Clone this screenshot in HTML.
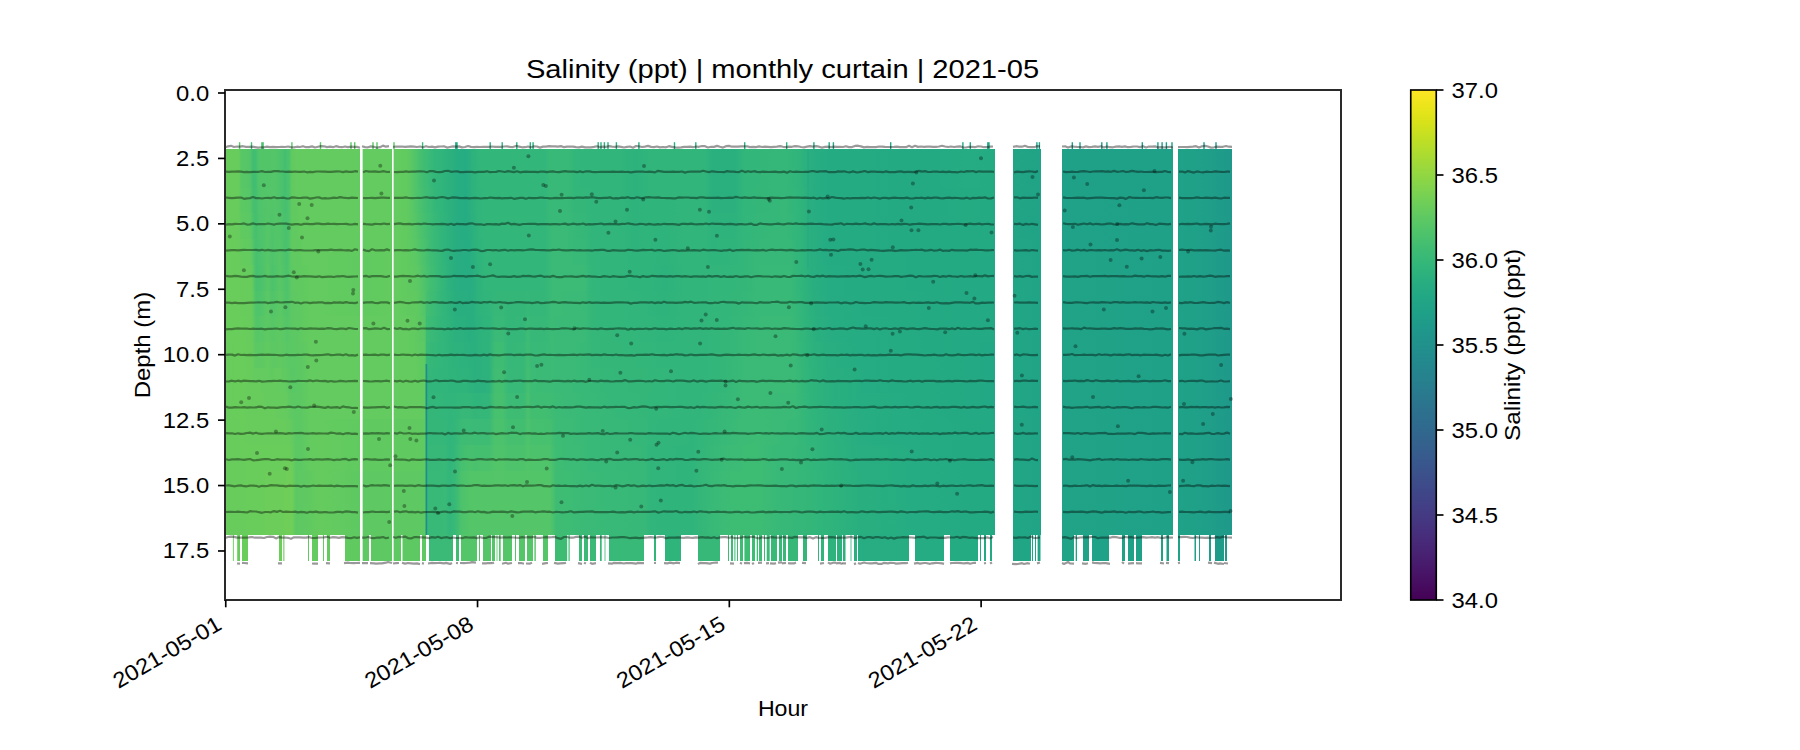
<!DOCTYPE html>
<html><head><meta charset="utf-8"><title>Salinity monthly curtain</title>
<style>
html,body{margin:0;padding:0;background:#fff;width:1800px;height:750px;overflow:hidden}
svg{display:block;position:absolute;left:0;top:0}
text{font-family:"Liberation Sans", sans-serif;fill:#000}
.t{font-size:22px}
.ti{font-size:25px}
</style></head><body>
<svg width="1800" height="750" viewBox="0 0 1800 750">
<defs><clipPath id="cseg"><rect x="225.0" y="140" width="135.0" height="400"/><rect x="362.4" y="140" width="29.6" height="400"/><rect x="393.4" y="140" width="601.6" height="400"/><rect x="1013.0" y="140" width="28.0" height="400"/><rect x="1062.0" y="140" width="111.0" height="400"/><rect x="1178.0" y="140" width="54.0" height="400"/></clipPath><linearGradient id="r0" gradientUnits="userSpaceOnUse" x1="225.0" y1="0" x2="1232.0" y2="0"><stop offset="0.0000" stop-color="#67cc5c"/><stop offset="0.0139" stop-color="#67cc5c"/><stop offset="0.0149" stop-color="#5ec962"/><stop offset="0.0159" stop-color="#58c765"/><stop offset="0.0248" stop-color="#54c568"/><stop offset="0.0268" stop-color="#46c06f"/><stop offset="0.0278" stop-color="#40bd72"/><stop offset="0.0298" stop-color="#42be71"/><stop offset="0.0308" stop-color="#44bf70"/><stop offset="0.0338" stop-color="#52c569"/><stop offset="0.0367" stop-color="#52c569"/><stop offset="0.0427" stop-color="#52c569"/><stop offset="0.0467" stop-color="#54c568"/><stop offset="0.0497" stop-color="#54c568"/><stop offset="0.0546" stop-color="#4ec36b"/><stop offset="0.0556" stop-color="#4cc26c"/><stop offset="0.0576" stop-color="#48c16e"/><stop offset="0.0596" stop-color="#44bf70"/><stop offset="0.0616" stop-color="#48c16e"/><stop offset="0.0636" stop-color="#4cc26c"/><stop offset="0.0665" stop-color="#60ca60"/><stop offset="0.0705" stop-color="#63cb5f"/><stop offset="0.0745" stop-color="#63cb5f"/><stop offset="0.0775" stop-color="#63cb5f"/><stop offset="0.0844" stop-color="#63cb5f"/><stop offset="0.0943" stop-color="#63cb5f"/><stop offset="0.1341" stop-color="#63cb5f"/><stop offset="0.1658" stop-color="#63cb5f"/><stop offset="0.1738" stop-color="#63cb5f"/><stop offset="0.1817" stop-color="#60ca60"/><stop offset="0.1897" stop-color="#50c46a"/><stop offset="0.1936" stop-color="#46c06f"/><stop offset="0.1986" stop-color="#3fbc73"/><stop offset="0.2001" stop-color="#3dbc74"/><stop offset="0.2006" stop-color="#3dbc74"/><stop offset="0.2036" stop-color="#38b977"/><stop offset="0.2085" stop-color="#32b67a"/><stop offset="0.2135" stop-color="#31b57b"/><stop offset="0.2185" stop-color="#2eb37c"/><stop offset="0.2234" stop-color="#2cb17e"/><stop offset="0.2284" stop-color="#28ae80"/><stop offset="0.2314" stop-color="#26ad81"/><stop offset="0.2344" stop-color="#26ad81"/><stop offset="0.2383" stop-color="#25ac82"/><stop offset="0.2393" stop-color="#25ac82"/><stop offset="0.2433" stop-color="#2ab07f"/><stop offset="0.2453" stop-color="#2db27d"/><stop offset="0.2483" stop-color="#2eb37c"/><stop offset="0.2502" stop-color="#2fb47c"/><stop offset="0.2532" stop-color="#32b67a"/><stop offset="0.2582" stop-color="#32b67a"/><stop offset="0.2622" stop-color="#32b67a"/><stop offset="0.2681" stop-color="#32b67a"/><stop offset="0.2761" stop-color="#32b67a"/><stop offset="0.2810" stop-color="#32b67a"/><stop offset="0.2969" stop-color="#32b67a"/><stop offset="0.3009" stop-color="#32b67a"/><stop offset="0.3039" stop-color="#32b67a"/><stop offset="0.3178" stop-color="#32b67a"/><stop offset="0.3227" stop-color="#38b977"/><stop offset="0.3247" stop-color="#38b977"/><stop offset="0.3287" stop-color="#38b977"/><stop offset="0.3406" stop-color="#38b977"/><stop offset="0.3426" stop-color="#37b878"/><stop offset="0.3476" stop-color="#32b67a"/><stop offset="0.3575" stop-color="#31b57b"/><stop offset="0.3615" stop-color="#31b57b"/><stop offset="0.3644" stop-color="#31b57b"/><stop offset="0.3823" stop-color="#31b57b"/><stop offset="0.3923" stop-color="#31b57b"/><stop offset="0.4071" stop-color="#2db27d"/><stop offset="0.4171" stop-color="#2fb47c"/><stop offset="0.4220" stop-color="#31b57b"/><stop offset="0.4369" stop-color="#31b57b"/><stop offset="0.4568" stop-color="#31b57b"/><stop offset="0.4638" stop-color="#31b57b"/><stop offset="0.4717" stop-color="#31b57b"/><stop offset="0.4767" stop-color="#31b57b"/><stop offset="0.4836" stop-color="#2ab07f"/><stop offset="0.4945" stop-color="#2ab07f"/><stop offset="0.5065" stop-color="#2ab07f"/><stop offset="0.5114" stop-color="#2eb37c"/><stop offset="0.5164" stop-color="#32b67a"/><stop offset="0.5293" stop-color="#32b67a"/><stop offset="0.5313" stop-color="#34b679"/><stop offset="0.5482" stop-color="#35b779"/><stop offset="0.5561" stop-color="#35b779"/><stop offset="0.5611" stop-color="#34b679"/><stop offset="0.5660" stop-color="#31b57b"/><stop offset="0.5710" stop-color="#2fb47c"/><stop offset="0.5740" stop-color="#2db27d"/><stop offset="0.5780" stop-color="#2ab07f"/><stop offset="0.5809" stop-color="#29af7f"/><stop offset="0.5829" stop-color="#28ae80"/><stop offset="0.5859" stop-color="#27ad81"/><stop offset="0.5958" stop-color="#25ac82"/><stop offset="0.6008" stop-color="#25ab82"/><stop offset="0.6306" stop-color="#25ab82"/><stop offset="0.6336" stop-color="#25ab82"/><stop offset="0.6703" stop-color="#24aa83"/><stop offset="0.6802" stop-color="#24aa83"/><stop offset="0.6812" stop-color="#24aa83"/><stop offset="0.7001" stop-color="#24aa83"/><stop offset="0.7398" stop-color="#25ac82"/><stop offset="0.7617" stop-color="#25ab82"/><stop offset="0.7637" stop-color="#25ab82"/><stop offset="0.7646" stop-color="#25ab82"/><stop offset="0.7825" stop-color="#21a585"/><stop offset="0.8103" stop-color="#20a386"/><stop offset="0.8312" stop-color="#1fa187"/><stop offset="0.9414" stop-color="#1fa188"/><stop offset="0.9464" stop-color="#1fa287"/><stop offset="0.9732" stop-color="#1f9f88"/><stop offset="1.0000" stop-color="#1f998a"/></linearGradient><linearGradient id="r1" gradientUnits="userSpaceOnUse" x1="225.0" y1="0" x2="1232.0" y2="0"><stop offset="0.0000" stop-color="#67cc5c"/><stop offset="0.0139" stop-color="#67cc5c"/><stop offset="0.0149" stop-color="#5ec962"/><stop offset="0.0159" stop-color="#58c765"/><stop offset="0.0248" stop-color="#54c568"/><stop offset="0.0268" stop-color="#46c06f"/><stop offset="0.0278" stop-color="#40bd72"/><stop offset="0.0298" stop-color="#42be71"/><stop offset="0.0308" stop-color="#44bf70"/><stop offset="0.0338" stop-color="#52c569"/><stop offset="0.0367" stop-color="#52c569"/><stop offset="0.0427" stop-color="#52c569"/><stop offset="0.0467" stop-color="#54c568"/><stop offset="0.0497" stop-color="#54c568"/><stop offset="0.0546" stop-color="#4ec36b"/><stop offset="0.0556" stop-color="#4cc26c"/><stop offset="0.0576" stop-color="#48c16e"/><stop offset="0.0596" stop-color="#44bf70"/><stop offset="0.0616" stop-color="#48c16e"/><stop offset="0.0636" stop-color="#4cc26c"/><stop offset="0.0665" stop-color="#60ca60"/><stop offset="0.0705" stop-color="#63cb5f"/><stop offset="0.0745" stop-color="#63cb5f"/><stop offset="0.0775" stop-color="#63cb5f"/><stop offset="0.0844" stop-color="#63cb5f"/><stop offset="0.0943" stop-color="#63cb5f"/><stop offset="0.1341" stop-color="#63cb5f"/><stop offset="0.1658" stop-color="#63cb5f"/><stop offset="0.1738" stop-color="#63cb5f"/><stop offset="0.1817" stop-color="#60ca60"/><stop offset="0.1897" stop-color="#50c46a"/><stop offset="0.1936" stop-color="#46c06f"/><stop offset="0.1986" stop-color="#3fbc73"/><stop offset="0.2001" stop-color="#3dbc74"/><stop offset="0.2006" stop-color="#3dbc74"/><stop offset="0.2036" stop-color="#38b977"/><stop offset="0.2085" stop-color="#32b67a"/><stop offset="0.2135" stop-color="#31b57b"/><stop offset="0.2185" stop-color="#2eb37c"/><stop offset="0.2234" stop-color="#2cb17e"/><stop offset="0.2284" stop-color="#28ae80"/><stop offset="0.2314" stop-color="#26ad81"/><stop offset="0.2344" stop-color="#26ad81"/><stop offset="0.2383" stop-color="#25ac82"/><stop offset="0.2393" stop-color="#25ac82"/><stop offset="0.2433" stop-color="#2ab07f"/><stop offset="0.2453" stop-color="#2db27d"/><stop offset="0.2483" stop-color="#2eb37c"/><stop offset="0.2502" stop-color="#2fb47c"/><stop offset="0.2532" stop-color="#32b67a"/><stop offset="0.2582" stop-color="#32b67a"/><stop offset="0.2622" stop-color="#32b67a"/><stop offset="0.2681" stop-color="#32b67a"/><stop offset="0.2761" stop-color="#32b67a"/><stop offset="0.2810" stop-color="#32b67a"/><stop offset="0.2969" stop-color="#32b67a"/><stop offset="0.3009" stop-color="#32b67a"/><stop offset="0.3039" stop-color="#32b67a"/><stop offset="0.3178" stop-color="#32b67a"/><stop offset="0.3227" stop-color="#38b977"/><stop offset="0.3247" stop-color="#38b977"/><stop offset="0.3287" stop-color="#38b977"/><stop offset="0.3406" stop-color="#38b977"/><stop offset="0.3426" stop-color="#37b878"/><stop offset="0.3476" stop-color="#32b67a"/><stop offset="0.3575" stop-color="#31b57b"/><stop offset="0.3615" stop-color="#31b57b"/><stop offset="0.3644" stop-color="#31b57b"/><stop offset="0.3823" stop-color="#31b57b"/><stop offset="0.3923" stop-color="#31b57b"/><stop offset="0.4071" stop-color="#2db27d"/><stop offset="0.4171" stop-color="#2fb47c"/><stop offset="0.4220" stop-color="#31b57b"/><stop offset="0.4369" stop-color="#31b57b"/><stop offset="0.4568" stop-color="#31b57b"/><stop offset="0.4638" stop-color="#31b57b"/><stop offset="0.4717" stop-color="#31b57b"/><stop offset="0.4767" stop-color="#31b57b"/><stop offset="0.4836" stop-color="#2ab07f"/><stop offset="0.4945" stop-color="#2ab07f"/><stop offset="0.5065" stop-color="#2ab07f"/><stop offset="0.5114" stop-color="#2eb37c"/><stop offset="0.5164" stop-color="#32b67a"/><stop offset="0.5293" stop-color="#32b67a"/><stop offset="0.5313" stop-color="#34b679"/><stop offset="0.5482" stop-color="#35b779"/><stop offset="0.5561" stop-color="#35b779"/><stop offset="0.5611" stop-color="#34b679"/><stop offset="0.5660" stop-color="#31b57b"/><stop offset="0.5710" stop-color="#2fb47c"/><stop offset="0.5740" stop-color="#2db27d"/><stop offset="0.5780" stop-color="#2ab07f"/><stop offset="0.5809" stop-color="#29af7f"/><stop offset="0.5829" stop-color="#28ae80"/><stop offset="0.5859" stop-color="#27ad81"/><stop offset="0.5958" stop-color="#25ac82"/><stop offset="0.6008" stop-color="#25ab82"/><stop offset="0.6306" stop-color="#25ab82"/><stop offset="0.6336" stop-color="#25ab82"/><stop offset="0.6703" stop-color="#24aa83"/><stop offset="0.6802" stop-color="#24aa83"/><stop offset="0.6812" stop-color="#24aa83"/><stop offset="0.7001" stop-color="#24aa83"/><stop offset="0.7398" stop-color="#25ac82"/><stop offset="0.7617" stop-color="#25ab82"/><stop offset="0.7637" stop-color="#25ab82"/><stop offset="0.7646" stop-color="#25ab82"/><stop offset="0.7825" stop-color="#21a585"/><stop offset="0.8103" stop-color="#20a386"/><stop offset="0.8312" stop-color="#1fa187"/><stop offset="0.9414" stop-color="#1fa188"/><stop offset="0.9464" stop-color="#1fa287"/><stop offset="0.9732" stop-color="#1f9f88"/><stop offset="1.0000" stop-color="#1f998a"/></linearGradient><linearGradient id="r2" gradientUnits="userSpaceOnUse" x1="225.0" y1="0" x2="1232.0" y2="0"><stop offset="0.0000" stop-color="#67cc5c"/><stop offset="0.0139" stop-color="#67cc5c"/><stop offset="0.0149" stop-color="#5ec962"/><stop offset="0.0159" stop-color="#58c765"/><stop offset="0.0248" stop-color="#54c568"/><stop offset="0.0268" stop-color="#46c06f"/><stop offset="0.0278" stop-color="#40bd72"/><stop offset="0.0298" stop-color="#42be71"/><stop offset="0.0308" stop-color="#44bf70"/><stop offset="0.0338" stop-color="#52c569"/><stop offset="0.0367" stop-color="#52c569"/><stop offset="0.0427" stop-color="#52c569"/><stop offset="0.0467" stop-color="#54c568"/><stop offset="0.0497" stop-color="#54c568"/><stop offset="0.0546" stop-color="#4ec36b"/><stop offset="0.0556" stop-color="#4cc26c"/><stop offset="0.0576" stop-color="#48c16e"/><stop offset="0.0596" stop-color="#44bf70"/><stop offset="0.0616" stop-color="#48c16e"/><stop offset="0.0636" stop-color="#4cc26c"/><stop offset="0.0665" stop-color="#60ca60"/><stop offset="0.0705" stop-color="#63cb5f"/><stop offset="0.0745" stop-color="#63cb5f"/><stop offset="0.0775" stop-color="#63cb5f"/><stop offset="0.0844" stop-color="#63cb5f"/><stop offset="0.0943" stop-color="#63cb5f"/><stop offset="0.1341" stop-color="#63cb5f"/><stop offset="0.1658" stop-color="#63cb5f"/><stop offset="0.1738" stop-color="#63cb5f"/><stop offset="0.1817" stop-color="#60ca60"/><stop offset="0.1897" stop-color="#50c46a"/><stop offset="0.1936" stop-color="#46c06f"/><stop offset="0.1986" stop-color="#3fbc73"/><stop offset="0.2001" stop-color="#3dbc74"/><stop offset="0.2006" stop-color="#3dbc74"/><stop offset="0.2036" stop-color="#38b977"/><stop offset="0.2085" stop-color="#32b67a"/><stop offset="0.2135" stop-color="#31b57b"/><stop offset="0.2185" stop-color="#2eb37c"/><stop offset="0.2234" stop-color="#2cb17e"/><stop offset="0.2284" stop-color="#28ae80"/><stop offset="0.2314" stop-color="#26ad81"/><stop offset="0.2344" stop-color="#26ad81"/><stop offset="0.2383" stop-color="#25ac82"/><stop offset="0.2393" stop-color="#25ac82"/><stop offset="0.2433" stop-color="#2ab07f"/><stop offset="0.2453" stop-color="#2db27d"/><stop offset="0.2483" stop-color="#2eb37c"/><stop offset="0.2502" stop-color="#2fb47c"/><stop offset="0.2532" stop-color="#32b67a"/><stop offset="0.2582" stop-color="#32b67a"/><stop offset="0.2622" stop-color="#32b67a"/><stop offset="0.2681" stop-color="#32b67a"/><stop offset="0.2761" stop-color="#32b67a"/><stop offset="0.2810" stop-color="#32b67a"/><stop offset="0.2969" stop-color="#32b67a"/><stop offset="0.3009" stop-color="#32b67a"/><stop offset="0.3039" stop-color="#32b67a"/><stop offset="0.3178" stop-color="#32b67a"/><stop offset="0.3227" stop-color="#38b977"/><stop offset="0.3247" stop-color="#38b977"/><stop offset="0.3287" stop-color="#38b977"/><stop offset="0.3406" stop-color="#38b977"/><stop offset="0.3426" stop-color="#37b878"/><stop offset="0.3476" stop-color="#32b67a"/><stop offset="0.3575" stop-color="#31b57b"/><stop offset="0.3615" stop-color="#31b57b"/><stop offset="0.3644" stop-color="#31b57b"/><stop offset="0.3823" stop-color="#31b57b"/><stop offset="0.3923" stop-color="#31b57b"/><stop offset="0.4071" stop-color="#2db27d"/><stop offset="0.4171" stop-color="#2fb47c"/><stop offset="0.4220" stop-color="#31b57b"/><stop offset="0.4369" stop-color="#31b57b"/><stop offset="0.4568" stop-color="#31b57b"/><stop offset="0.4638" stop-color="#31b57b"/><stop offset="0.4717" stop-color="#31b57b"/><stop offset="0.4767" stop-color="#31b57b"/><stop offset="0.4836" stop-color="#2ab07f"/><stop offset="0.4945" stop-color="#2ab07f"/><stop offset="0.5065" stop-color="#2ab07f"/><stop offset="0.5114" stop-color="#2eb37c"/><stop offset="0.5164" stop-color="#32b67a"/><stop offset="0.5293" stop-color="#32b67a"/><stop offset="0.5313" stop-color="#34b679"/><stop offset="0.5482" stop-color="#35b779"/><stop offset="0.5561" stop-color="#35b779"/><stop offset="0.5611" stop-color="#34b679"/><stop offset="0.5660" stop-color="#31b57b"/><stop offset="0.5710" stop-color="#2fb47c"/><stop offset="0.5740" stop-color="#2db27d"/><stop offset="0.5780" stop-color="#2ab07f"/><stop offset="0.5809" stop-color="#29af7f"/><stop offset="0.5829" stop-color="#28ae80"/><stop offset="0.5859" stop-color="#27ad81"/><stop offset="0.5958" stop-color="#25ac82"/><stop offset="0.6008" stop-color="#25ab82"/><stop offset="0.6306" stop-color="#25ab82"/><stop offset="0.6336" stop-color="#25ab82"/><stop offset="0.6703" stop-color="#24aa83"/><stop offset="0.6802" stop-color="#24aa83"/><stop offset="0.6812" stop-color="#24aa83"/><stop offset="0.7001" stop-color="#24aa83"/><stop offset="0.7398" stop-color="#25ac82"/><stop offset="0.7617" stop-color="#25ab82"/><stop offset="0.7637" stop-color="#25ab82"/><stop offset="0.7646" stop-color="#25ab82"/><stop offset="0.7825" stop-color="#21a585"/><stop offset="0.8103" stop-color="#20a386"/><stop offset="0.8312" stop-color="#1fa187"/><stop offset="0.9414" stop-color="#1fa188"/><stop offset="0.9464" stop-color="#1fa287"/><stop offset="0.9732" stop-color="#1f9f88"/><stop offset="1.0000" stop-color="#1f998a"/></linearGradient><linearGradient id="r3" gradientUnits="userSpaceOnUse" x1="225.0" y1="0" x2="1232.0" y2="0"><stop offset="0.0000" stop-color="#67cc5c"/><stop offset="0.0139" stop-color="#67cc5c"/><stop offset="0.0149" stop-color="#60ca60"/><stop offset="0.0159" stop-color="#5ac864"/><stop offset="0.0248" stop-color="#56c667"/><stop offset="0.0268" stop-color="#4ac16d"/><stop offset="0.0278" stop-color="#42be71"/><stop offset="0.0298" stop-color="#44bf70"/><stop offset="0.0308" stop-color="#44bf70"/><stop offset="0.0338" stop-color="#50c46a"/><stop offset="0.0367" stop-color="#52c569"/><stop offset="0.0427" stop-color="#54c568"/><stop offset="0.0467" stop-color="#54c568"/><stop offset="0.0497" stop-color="#54c568"/><stop offset="0.0546" stop-color="#4ec36b"/><stop offset="0.0556" stop-color="#4cc26c"/><stop offset="0.0576" stop-color="#48c16e"/><stop offset="0.0596" stop-color="#44bf70"/><stop offset="0.0616" stop-color="#48c16e"/><stop offset="0.0636" stop-color="#4cc26c"/><stop offset="0.0665" stop-color="#60ca60"/><stop offset="0.0705" stop-color="#63cb5f"/><stop offset="0.0745" stop-color="#63cb5f"/><stop offset="0.0775" stop-color="#63cb5f"/><stop offset="0.0844" stop-color="#63cb5f"/><stop offset="0.0943" stop-color="#63cb5f"/><stop offset="0.1341" stop-color="#63cb5f"/><stop offset="0.1658" stop-color="#63cb5f"/><stop offset="0.1738" stop-color="#63cb5f"/><stop offset="0.1817" stop-color="#60ca60"/><stop offset="0.1897" stop-color="#50c46a"/><stop offset="0.1936" stop-color="#48c16e"/><stop offset="0.1986" stop-color="#40bd72"/><stop offset="0.2001" stop-color="#3fbc73"/><stop offset="0.2006" stop-color="#3dbc74"/><stop offset="0.2036" stop-color="#3aba76"/><stop offset="0.2085" stop-color="#34b679"/><stop offset="0.2135" stop-color="#31b57b"/><stop offset="0.2185" stop-color="#2eb37c"/><stop offset="0.2234" stop-color="#2cb17e"/><stop offset="0.2284" stop-color="#28ae80"/><stop offset="0.2314" stop-color="#26ad81"/><stop offset="0.2344" stop-color="#26ad81"/><stop offset="0.2383" stop-color="#25ac82"/><stop offset="0.2393" stop-color="#25ac82"/><stop offset="0.2433" stop-color="#29af7f"/><stop offset="0.2453" stop-color="#2db27d"/><stop offset="0.2483" stop-color="#2eb37c"/><stop offset="0.2502" stop-color="#2fb47c"/><stop offset="0.2532" stop-color="#31b57b"/><stop offset="0.2582" stop-color="#32b67a"/><stop offset="0.2622" stop-color="#32b67a"/><stop offset="0.2681" stop-color="#32b67a"/><stop offset="0.2761" stop-color="#32b67a"/><stop offset="0.2810" stop-color="#32b67a"/><stop offset="0.2969" stop-color="#32b67a"/><stop offset="0.3009" stop-color="#32b67a"/><stop offset="0.3039" stop-color="#32b67a"/><stop offset="0.3178" stop-color="#32b67a"/><stop offset="0.3227" stop-color="#38b977"/><stop offset="0.3247" stop-color="#38b977"/><stop offset="0.3287" stop-color="#38b977"/><stop offset="0.3406" stop-color="#38b977"/><stop offset="0.3426" stop-color="#37b878"/><stop offset="0.3476" stop-color="#32b67a"/><stop offset="0.3575" stop-color="#32b67a"/><stop offset="0.3615" stop-color="#32b67a"/><stop offset="0.3644" stop-color="#31b57b"/><stop offset="0.3823" stop-color="#31b57b"/><stop offset="0.3923" stop-color="#31b57b"/><stop offset="0.4071" stop-color="#2db27d"/><stop offset="0.4171" stop-color="#2fb47c"/><stop offset="0.4220" stop-color="#31b57b"/><stop offset="0.4369" stop-color="#31b57b"/><stop offset="0.4568" stop-color="#31b57b"/><stop offset="0.4638" stop-color="#31b57b"/><stop offset="0.4717" stop-color="#31b57b"/><stop offset="0.4767" stop-color="#31b57b"/><stop offset="0.4836" stop-color="#2ab07f"/><stop offset="0.4945" stop-color="#2ab07f"/><stop offset="0.5065" stop-color="#2ab07f"/><stop offset="0.5114" stop-color="#2eb37c"/><stop offset="0.5164" stop-color="#32b67a"/><stop offset="0.5293" stop-color="#34b679"/><stop offset="0.5313" stop-color="#34b679"/><stop offset="0.5482" stop-color="#35b779"/><stop offset="0.5561" stop-color="#35b779"/><stop offset="0.5611" stop-color="#34b679"/><stop offset="0.5660" stop-color="#32b67a"/><stop offset="0.5710" stop-color="#2fb47c"/><stop offset="0.5740" stop-color="#2eb37c"/><stop offset="0.5780" stop-color="#2cb17e"/><stop offset="0.5809" stop-color="#29af7f"/><stop offset="0.5829" stop-color="#28ae80"/><stop offset="0.5859" stop-color="#27ad81"/><stop offset="0.5958" stop-color="#25ac82"/><stop offset="0.6008" stop-color="#25ab82"/><stop offset="0.6306" stop-color="#25ab82"/><stop offset="0.6336" stop-color="#25ab82"/><stop offset="0.6703" stop-color="#24aa83"/><stop offset="0.6802" stop-color="#24aa83"/><stop offset="0.6812" stop-color="#24aa83"/><stop offset="0.7001" stop-color="#24aa83"/><stop offset="0.7398" stop-color="#25ab82"/><stop offset="0.7617" stop-color="#25ab82"/><stop offset="0.7637" stop-color="#25ab82"/><stop offset="0.7646" stop-color="#24aa83"/><stop offset="0.7825" stop-color="#21a585"/><stop offset="0.8103" stop-color="#20a386"/><stop offset="0.8312" stop-color="#1fa187"/><stop offset="0.9414" stop-color="#1fa188"/><stop offset="0.9464" stop-color="#1fa287"/><stop offset="0.9732" stop-color="#1f9f88"/><stop offset="1.0000" stop-color="#1f998a"/></linearGradient><linearGradient id="r4" gradientUnits="userSpaceOnUse" x1="225.0" y1="0" x2="1232.0" y2="0"><stop offset="0.0000" stop-color="#67cc5c"/><stop offset="0.0139" stop-color="#67cc5c"/><stop offset="0.0149" stop-color="#60ca60"/><stop offset="0.0159" stop-color="#5cc863"/><stop offset="0.0248" stop-color="#58c765"/><stop offset="0.0268" stop-color="#4ec36b"/><stop offset="0.0278" stop-color="#46c06f"/><stop offset="0.0298" stop-color="#46c06f"/><stop offset="0.0308" stop-color="#44bf70"/><stop offset="0.0338" stop-color="#50c46a"/><stop offset="0.0367" stop-color="#50c46a"/><stop offset="0.0427" stop-color="#54c568"/><stop offset="0.0467" stop-color="#52c569"/><stop offset="0.0497" stop-color="#54c568"/><stop offset="0.0546" stop-color="#50c46a"/><stop offset="0.0556" stop-color="#4ec36b"/><stop offset="0.0576" stop-color="#4ac16d"/><stop offset="0.0596" stop-color="#46c06f"/><stop offset="0.0616" stop-color="#48c16e"/><stop offset="0.0636" stop-color="#4ec36b"/><stop offset="0.0665" stop-color="#60ca60"/><stop offset="0.0705" stop-color="#60ca60"/><stop offset="0.0745" stop-color="#63cb5f"/><stop offset="0.0775" stop-color="#63cb5f"/><stop offset="0.0844" stop-color="#63cb5f"/><stop offset="0.0943" stop-color="#63cb5f"/><stop offset="0.1341" stop-color="#63cb5f"/><stop offset="0.1658" stop-color="#63cb5f"/><stop offset="0.1738" stop-color="#63cb5f"/><stop offset="0.1817" stop-color="#60ca60"/><stop offset="0.1897" stop-color="#52c569"/><stop offset="0.1936" stop-color="#4ac16d"/><stop offset="0.1986" stop-color="#42be71"/><stop offset="0.2001" stop-color="#40bd72"/><stop offset="0.2006" stop-color="#3fbc73"/><stop offset="0.2036" stop-color="#3bbb75"/><stop offset="0.2085" stop-color="#35b779"/><stop offset="0.2135" stop-color="#32b67a"/><stop offset="0.2185" stop-color="#2eb37c"/><stop offset="0.2234" stop-color="#2cb17e"/><stop offset="0.2284" stop-color="#28ae80"/><stop offset="0.2314" stop-color="#27ad81"/><stop offset="0.2344" stop-color="#26ad81"/><stop offset="0.2383" stop-color="#25ac82"/><stop offset="0.2393" stop-color="#25ac82"/><stop offset="0.2433" stop-color="#29af7f"/><stop offset="0.2453" stop-color="#2cb17e"/><stop offset="0.2483" stop-color="#2eb37c"/><stop offset="0.2502" stop-color="#2fb47c"/><stop offset="0.2532" stop-color="#31b57b"/><stop offset="0.2582" stop-color="#32b67a"/><stop offset="0.2622" stop-color="#32b67a"/><stop offset="0.2681" stop-color="#32b67a"/><stop offset="0.2761" stop-color="#32b67a"/><stop offset="0.2810" stop-color="#32b67a"/><stop offset="0.2969" stop-color="#32b67a"/><stop offset="0.3009" stop-color="#32b67a"/><stop offset="0.3039" stop-color="#32b67a"/><stop offset="0.3178" stop-color="#32b67a"/><stop offset="0.3227" stop-color="#38b977"/><stop offset="0.3247" stop-color="#38b977"/><stop offset="0.3287" stop-color="#38b977"/><stop offset="0.3406" stop-color="#38b977"/><stop offset="0.3426" stop-color="#37b878"/><stop offset="0.3476" stop-color="#34b679"/><stop offset="0.3575" stop-color="#34b679"/><stop offset="0.3615" stop-color="#32b67a"/><stop offset="0.3644" stop-color="#31b57b"/><stop offset="0.3823" stop-color="#31b57b"/><stop offset="0.3923" stop-color="#31b57b"/><stop offset="0.4071" stop-color="#2eb37c"/><stop offset="0.4171" stop-color="#2fb47c"/><stop offset="0.4220" stop-color="#2fb47c"/><stop offset="0.4369" stop-color="#2fb47c"/><stop offset="0.4568" stop-color="#31b57b"/><stop offset="0.4638" stop-color="#31b57b"/><stop offset="0.4717" stop-color="#31b57b"/><stop offset="0.4767" stop-color="#31b57b"/><stop offset="0.4836" stop-color="#2cb17e"/><stop offset="0.4945" stop-color="#2cb17e"/><stop offset="0.5065" stop-color="#2cb17e"/><stop offset="0.5114" stop-color="#2fb47c"/><stop offset="0.5164" stop-color="#32b67a"/><stop offset="0.5293" stop-color="#34b679"/><stop offset="0.5313" stop-color="#34b679"/><stop offset="0.5482" stop-color="#35b779"/><stop offset="0.5561" stop-color="#37b878"/><stop offset="0.5611" stop-color="#34b679"/><stop offset="0.5660" stop-color="#32b67a"/><stop offset="0.5710" stop-color="#2fb47c"/><stop offset="0.5740" stop-color="#2eb37c"/><stop offset="0.5780" stop-color="#2cb17e"/><stop offset="0.5809" stop-color="#29af7f"/><stop offset="0.5829" stop-color="#28ae80"/><stop offset="0.5859" stop-color="#27ad81"/><stop offset="0.5958" stop-color="#25ac82"/><stop offset="0.6008" stop-color="#25ab82"/><stop offset="0.6306" stop-color="#25ab82"/><stop offset="0.6336" stop-color="#25ab82"/><stop offset="0.6703" stop-color="#24aa83"/><stop offset="0.6802" stop-color="#24aa83"/><stop offset="0.6812" stop-color="#24aa83"/><stop offset="0.7001" stop-color="#24aa83"/><stop offset="0.7398" stop-color="#25ab82"/><stop offset="0.7617" stop-color="#24aa83"/><stop offset="0.7637" stop-color="#24aa83"/><stop offset="0.7646" stop-color="#24aa83"/><stop offset="0.7825" stop-color="#21a585"/><stop offset="0.8103" stop-color="#20a386"/><stop offset="0.8312" stop-color="#1fa287"/><stop offset="0.9414" stop-color="#1fa188"/><stop offset="0.9464" stop-color="#1fa287"/><stop offset="0.9732" stop-color="#1f9f88"/><stop offset="1.0000" stop-color="#1f998a"/></linearGradient><linearGradient id="r5" gradientUnits="userSpaceOnUse" x1="225.0" y1="0" x2="1232.0" y2="0"><stop offset="0.0000" stop-color="#67cc5c"/><stop offset="0.0139" stop-color="#67cc5c"/><stop offset="0.0149" stop-color="#63cb5f"/><stop offset="0.0159" stop-color="#5ec962"/><stop offset="0.0248" stop-color="#5ac864"/><stop offset="0.0268" stop-color="#52c569"/><stop offset="0.0278" stop-color="#4ac16d"/><stop offset="0.0298" stop-color="#46c06f"/><stop offset="0.0308" stop-color="#44bf70"/><stop offset="0.0338" stop-color="#4ec36b"/><stop offset="0.0367" stop-color="#50c46a"/><stop offset="0.0427" stop-color="#54c568"/><stop offset="0.0467" stop-color="#50c46a"/><stop offset="0.0497" stop-color="#54c568"/><stop offset="0.0546" stop-color="#52c569"/><stop offset="0.0556" stop-color="#50c46a"/><stop offset="0.0576" stop-color="#4cc26c"/><stop offset="0.0596" stop-color="#48c16e"/><stop offset="0.0616" stop-color="#4ac16d"/><stop offset="0.0636" stop-color="#4ec36b"/><stop offset="0.0665" stop-color="#60ca60"/><stop offset="0.0705" stop-color="#60ca60"/><stop offset="0.0745" stop-color="#63cb5f"/><stop offset="0.0775" stop-color="#63cb5f"/><stop offset="0.0844" stop-color="#63cb5f"/><stop offset="0.0943" stop-color="#63cb5f"/><stop offset="0.1341" stop-color="#63cb5f"/><stop offset="0.1658" stop-color="#63cb5f"/><stop offset="0.1738" stop-color="#63cb5f"/><stop offset="0.1817" stop-color="#60ca60"/><stop offset="0.1897" stop-color="#54c568"/><stop offset="0.1936" stop-color="#4cc26c"/><stop offset="0.1986" stop-color="#44bf70"/><stop offset="0.2001" stop-color="#42be71"/><stop offset="0.2006" stop-color="#40bd72"/><stop offset="0.2036" stop-color="#3dbc74"/><stop offset="0.2085" stop-color="#37b878"/><stop offset="0.2135" stop-color="#32b67a"/><stop offset="0.2185" stop-color="#2fb47c"/><stop offset="0.2234" stop-color="#2cb17e"/><stop offset="0.2284" stop-color="#28ae80"/><stop offset="0.2314" stop-color="#27ad81"/><stop offset="0.2344" stop-color="#26ad81"/><stop offset="0.2383" stop-color="#25ac82"/><stop offset="0.2393" stop-color="#25ac82"/><stop offset="0.2433" stop-color="#28ae80"/><stop offset="0.2453" stop-color="#2cb17e"/><stop offset="0.2483" stop-color="#2db27d"/><stop offset="0.2502" stop-color="#2fb47c"/><stop offset="0.2532" stop-color="#31b57b"/><stop offset="0.2582" stop-color="#32b67a"/><stop offset="0.2622" stop-color="#32b67a"/><stop offset="0.2681" stop-color="#32b67a"/><stop offset="0.2761" stop-color="#32b67a"/><stop offset="0.2810" stop-color="#32b67a"/><stop offset="0.2969" stop-color="#32b67a"/><stop offset="0.3009" stop-color="#32b67a"/><stop offset="0.3039" stop-color="#32b67a"/><stop offset="0.3178" stop-color="#32b67a"/><stop offset="0.3227" stop-color="#38b977"/><stop offset="0.3247" stop-color="#38b977"/><stop offset="0.3287" stop-color="#38b977"/><stop offset="0.3406" stop-color="#38b977"/><stop offset="0.3426" stop-color="#38b977"/><stop offset="0.3476" stop-color="#35b779"/><stop offset="0.3575" stop-color="#35b779"/><stop offset="0.3615" stop-color="#32b67a"/><stop offset="0.3644" stop-color="#31b57b"/><stop offset="0.3823" stop-color="#31b57b"/><stop offset="0.3923" stop-color="#31b57b"/><stop offset="0.4071" stop-color="#2eb37c"/><stop offset="0.4171" stop-color="#2fb47c"/><stop offset="0.4220" stop-color="#2fb47c"/><stop offset="0.4369" stop-color="#2fb47c"/><stop offset="0.4568" stop-color="#31b57b"/><stop offset="0.4638" stop-color="#31b57b"/><stop offset="0.4717" stop-color="#31b57b"/><stop offset="0.4767" stop-color="#31b57b"/><stop offset="0.4836" stop-color="#2db27d"/><stop offset="0.4945" stop-color="#2db27d"/><stop offset="0.5065" stop-color="#2db27d"/><stop offset="0.5114" stop-color="#2fb47c"/><stop offset="0.5164" stop-color="#32b67a"/><stop offset="0.5293" stop-color="#35b779"/><stop offset="0.5313" stop-color="#35b779"/><stop offset="0.5482" stop-color="#35b779"/><stop offset="0.5561" stop-color="#37b878"/><stop offset="0.5611" stop-color="#35b779"/><stop offset="0.5660" stop-color="#32b67a"/><stop offset="0.5710" stop-color="#2fb47c"/><stop offset="0.5740" stop-color="#2eb37c"/><stop offset="0.5780" stop-color="#2cb17e"/><stop offset="0.5809" stop-color="#29af7f"/><stop offset="0.5829" stop-color="#28ae80"/><stop offset="0.5859" stop-color="#27ad81"/><stop offset="0.5958" stop-color="#25ac82"/><stop offset="0.6008" stop-color="#25ab82"/><stop offset="0.6306" stop-color="#25ab82"/><stop offset="0.6336" stop-color="#25ab82"/><stop offset="0.6703" stop-color="#24aa83"/><stop offset="0.6802" stop-color="#24aa83"/><stop offset="0.6812" stop-color="#24aa83"/><stop offset="0.7001" stop-color="#24aa83"/><stop offset="0.7398" stop-color="#25ab82"/><stop offset="0.7617" stop-color="#24aa83"/><stop offset="0.7637" stop-color="#24aa83"/><stop offset="0.7646" stop-color="#24aa83"/><stop offset="0.7825" stop-color="#21a585"/><stop offset="0.8103" stop-color="#20a386"/><stop offset="0.8312" stop-color="#1fa287"/><stop offset="0.9414" stop-color="#1fa188"/><stop offset="0.9464" stop-color="#1fa287"/><stop offset="0.9732" stop-color="#1f9f88"/><stop offset="1.0000" stop-color="#1f998a"/></linearGradient><linearGradient id="r6" gradientUnits="userSpaceOnUse" x1="225.0" y1="0" x2="1232.0" y2="0"><stop offset="0.0000" stop-color="#69cd5b"/><stop offset="0.0139" stop-color="#67cc5c"/><stop offset="0.0149" stop-color="#63cb5f"/><stop offset="0.0159" stop-color="#60ca60"/><stop offset="0.0248" stop-color="#5ec962"/><stop offset="0.0268" stop-color="#56c667"/><stop offset="0.0278" stop-color="#4ec36b"/><stop offset="0.0298" stop-color="#48c16e"/><stop offset="0.0308" stop-color="#46c06f"/><stop offset="0.0338" stop-color="#4ec36b"/><stop offset="0.0367" stop-color="#4ec36b"/><stop offset="0.0427" stop-color="#56c667"/><stop offset="0.0467" stop-color="#50c46a"/><stop offset="0.0497" stop-color="#52c569"/><stop offset="0.0546" stop-color="#52c569"/><stop offset="0.0556" stop-color="#50c46a"/><stop offset="0.0576" stop-color="#4ec36b"/><stop offset="0.0596" stop-color="#4ac16d"/><stop offset="0.0616" stop-color="#4ac16d"/><stop offset="0.0636" stop-color="#50c46a"/><stop offset="0.0665" stop-color="#60ca60"/><stop offset="0.0705" stop-color="#60ca60"/><stop offset="0.0745" stop-color="#63cb5f"/><stop offset="0.0775" stop-color="#63cb5f"/><stop offset="0.0844" stop-color="#63cb5f"/><stop offset="0.0943" stop-color="#63cb5f"/><stop offset="0.1341" stop-color="#63cb5f"/><stop offset="0.1658" stop-color="#63cb5f"/><stop offset="0.1738" stop-color="#63cb5f"/><stop offset="0.1817" stop-color="#60ca60"/><stop offset="0.1897" stop-color="#56c667"/><stop offset="0.1936" stop-color="#4ec36b"/><stop offset="0.1986" stop-color="#46c06f"/><stop offset="0.2001" stop-color="#44bf70"/><stop offset="0.2006" stop-color="#42be71"/><stop offset="0.2036" stop-color="#3fbc73"/><stop offset="0.2085" stop-color="#38b977"/><stop offset="0.2135" stop-color="#34b679"/><stop offset="0.2185" stop-color="#2fb47c"/><stop offset="0.2234" stop-color="#2cb17e"/><stop offset="0.2284" stop-color="#28ae80"/><stop offset="0.2314" stop-color="#27ad81"/><stop offset="0.2344" stop-color="#26ad81"/><stop offset="0.2383" stop-color="#26ad81"/><stop offset="0.2393" stop-color="#26ad81"/><stop offset="0.2433" stop-color="#28ae80"/><stop offset="0.2453" stop-color="#2ab07f"/><stop offset="0.2483" stop-color="#2db27d"/><stop offset="0.2502" stop-color="#2eb37c"/><stop offset="0.2532" stop-color="#31b57b"/><stop offset="0.2582" stop-color="#32b67a"/><stop offset="0.2622" stop-color="#32b67a"/><stop offset="0.2681" stop-color="#32b67a"/><stop offset="0.2761" stop-color="#32b67a"/><stop offset="0.2810" stop-color="#32b67a"/><stop offset="0.2969" stop-color="#32b67a"/><stop offset="0.3009" stop-color="#32b67a"/><stop offset="0.3039" stop-color="#32b67a"/><stop offset="0.3178" stop-color="#32b67a"/><stop offset="0.3227" stop-color="#38b977"/><stop offset="0.3247" stop-color="#3aba76"/><stop offset="0.3287" stop-color="#3aba76"/><stop offset="0.3406" stop-color="#3aba76"/><stop offset="0.3426" stop-color="#38b977"/><stop offset="0.3476" stop-color="#37b878"/><stop offset="0.3575" stop-color="#35b779"/><stop offset="0.3615" stop-color="#34b679"/><stop offset="0.3644" stop-color="#31b57b"/><stop offset="0.3823" stop-color="#31b57b"/><stop offset="0.3923" stop-color="#31b57b"/><stop offset="0.4071" stop-color="#2eb37c"/><stop offset="0.4171" stop-color="#2fb47c"/><stop offset="0.4220" stop-color="#2fb47c"/><stop offset="0.4369" stop-color="#2eb37c"/><stop offset="0.4568" stop-color="#31b57b"/><stop offset="0.4638" stop-color="#31b57b"/><stop offset="0.4717" stop-color="#31b57b"/><stop offset="0.4767" stop-color="#31b57b"/><stop offset="0.4836" stop-color="#2eb37c"/><stop offset="0.4945" stop-color="#2eb37c"/><stop offset="0.5065" stop-color="#2eb37c"/><stop offset="0.5114" stop-color="#31b57b"/><stop offset="0.5164" stop-color="#32b67a"/><stop offset="0.5293" stop-color="#35b779"/><stop offset="0.5313" stop-color="#35b779"/><stop offset="0.5482" stop-color="#37b878"/><stop offset="0.5561" stop-color="#37b878"/><stop offset="0.5611" stop-color="#35b779"/><stop offset="0.5660" stop-color="#32b67a"/><stop offset="0.5710" stop-color="#31b57b"/><stop offset="0.5740" stop-color="#2eb37c"/><stop offset="0.5780" stop-color="#2cb17e"/><stop offset="0.5809" stop-color="#2ab07f"/><stop offset="0.5829" stop-color="#29af7f"/><stop offset="0.5859" stop-color="#28ae80"/><stop offset="0.5958" stop-color="#25ac82"/><stop offset="0.6008" stop-color="#25ab82"/><stop offset="0.6306" stop-color="#25ab82"/><stop offset="0.6336" stop-color="#25ab82"/><stop offset="0.6703" stop-color="#24aa83"/><stop offset="0.6802" stop-color="#24aa83"/><stop offset="0.6812" stop-color="#24aa83"/><stop offset="0.7001" stop-color="#24aa83"/><stop offset="0.7398" stop-color="#24aa83"/><stop offset="0.7617" stop-color="#24aa83"/><stop offset="0.7637" stop-color="#24aa83"/><stop offset="0.7646" stop-color="#24aa83"/><stop offset="0.7825" stop-color="#21a585"/><stop offset="0.8103" stop-color="#20a386"/><stop offset="0.8312" stop-color="#1fa287"/><stop offset="0.9414" stop-color="#1fa188"/><stop offset="0.9464" stop-color="#1fa287"/><stop offset="0.9732" stop-color="#1f9f88"/><stop offset="1.0000" stop-color="#1f998a"/></linearGradient><linearGradient id="r7" gradientUnits="userSpaceOnUse" x1="225.0" y1="0" x2="1232.0" y2="0"><stop offset="0.0000" stop-color="#69cd5b"/><stop offset="0.0139" stop-color="#67cc5c"/><stop offset="0.0149" stop-color="#65cb5e"/><stop offset="0.0159" stop-color="#63cb5f"/><stop offset="0.0248" stop-color="#60ca60"/><stop offset="0.0268" stop-color="#5ac864"/><stop offset="0.0278" stop-color="#52c569"/><stop offset="0.0298" stop-color="#4ac16d"/><stop offset="0.0308" stop-color="#46c06f"/><stop offset="0.0338" stop-color="#4cc26c"/><stop offset="0.0367" stop-color="#4ec36b"/><stop offset="0.0427" stop-color="#56c667"/><stop offset="0.0467" stop-color="#4ec36b"/><stop offset="0.0497" stop-color="#52c569"/><stop offset="0.0546" stop-color="#54c568"/><stop offset="0.0556" stop-color="#52c569"/><stop offset="0.0576" stop-color="#4ec36b"/><stop offset="0.0596" stop-color="#4ac16d"/><stop offset="0.0616" stop-color="#4ac16d"/><stop offset="0.0636" stop-color="#50c46a"/><stop offset="0.0665" stop-color="#60ca60"/><stop offset="0.0705" stop-color="#60ca60"/><stop offset="0.0745" stop-color="#60ca60"/><stop offset="0.0775" stop-color="#63cb5f"/><stop offset="0.0844" stop-color="#63cb5f"/><stop offset="0.0943" stop-color="#63cb5f"/><stop offset="0.1341" stop-color="#63cb5f"/><stop offset="0.1658" stop-color="#63cb5f"/><stop offset="0.1738" stop-color="#63cb5f"/><stop offset="0.1817" stop-color="#60ca60"/><stop offset="0.1897" stop-color="#58c765"/><stop offset="0.1936" stop-color="#50c46a"/><stop offset="0.1986" stop-color="#48c16e"/><stop offset="0.2001" stop-color="#46c06f"/><stop offset="0.2006" stop-color="#44bf70"/><stop offset="0.2036" stop-color="#3fbc73"/><stop offset="0.2085" stop-color="#38b977"/><stop offset="0.2135" stop-color="#34b679"/><stop offset="0.2185" stop-color="#2fb47c"/><stop offset="0.2234" stop-color="#2cb17e"/><stop offset="0.2284" stop-color="#28ae80"/><stop offset="0.2314" stop-color="#27ad81"/><stop offset="0.2344" stop-color="#27ad81"/><stop offset="0.2383" stop-color="#26ad81"/><stop offset="0.2393" stop-color="#26ad81"/><stop offset="0.2433" stop-color="#27ad81"/><stop offset="0.2453" stop-color="#2ab07f"/><stop offset="0.2483" stop-color="#2db27d"/><stop offset="0.2502" stop-color="#2eb37c"/><stop offset="0.2532" stop-color="#2fb47c"/><stop offset="0.2582" stop-color="#32b67a"/><stop offset="0.2622" stop-color="#32b67a"/><stop offset="0.2681" stop-color="#32b67a"/><stop offset="0.2761" stop-color="#32b67a"/><stop offset="0.2810" stop-color="#32b67a"/><stop offset="0.2969" stop-color="#32b67a"/><stop offset="0.3009" stop-color="#32b67a"/><stop offset="0.3039" stop-color="#32b67a"/><stop offset="0.3178" stop-color="#32b67a"/><stop offset="0.3227" stop-color="#38b977"/><stop offset="0.3247" stop-color="#3aba76"/><stop offset="0.3287" stop-color="#3aba76"/><stop offset="0.3406" stop-color="#3aba76"/><stop offset="0.3426" stop-color="#38b977"/><stop offset="0.3476" stop-color="#37b878"/><stop offset="0.3575" stop-color="#37b878"/><stop offset="0.3615" stop-color="#34b679"/><stop offset="0.3644" stop-color="#31b57b"/><stop offset="0.3823" stop-color="#31b57b"/><stop offset="0.3923" stop-color="#31b57b"/><stop offset="0.4071" stop-color="#2eb37c"/><stop offset="0.4171" stop-color="#2fb47c"/><stop offset="0.4220" stop-color="#2fb47c"/><stop offset="0.4369" stop-color="#2eb37c"/><stop offset="0.4568" stop-color="#31b57b"/><stop offset="0.4638" stop-color="#31b57b"/><stop offset="0.4717" stop-color="#31b57b"/><stop offset="0.4767" stop-color="#31b57b"/><stop offset="0.4836" stop-color="#2eb37c"/><stop offset="0.4945" stop-color="#2fb47c"/><stop offset="0.5065" stop-color="#2fb47c"/><stop offset="0.5114" stop-color="#31b57b"/><stop offset="0.5164" stop-color="#34b679"/><stop offset="0.5293" stop-color="#35b779"/><stop offset="0.5313" stop-color="#37b878"/><stop offset="0.5482" stop-color="#37b878"/><stop offset="0.5561" stop-color="#37b878"/><stop offset="0.5611" stop-color="#37b878"/><stop offset="0.5660" stop-color="#34b679"/><stop offset="0.5710" stop-color="#31b57b"/><stop offset="0.5740" stop-color="#2eb37c"/><stop offset="0.5780" stop-color="#2cb17e"/><stop offset="0.5809" stop-color="#2ab07f"/><stop offset="0.5829" stop-color="#29af7f"/><stop offset="0.5859" stop-color="#28ae80"/><stop offset="0.5958" stop-color="#25ac82"/><stop offset="0.6008" stop-color="#25ab82"/><stop offset="0.6306" stop-color="#25ab82"/><stop offset="0.6336" stop-color="#25ab82"/><stop offset="0.6703" stop-color="#24aa83"/><stop offset="0.6802" stop-color="#24aa83"/><stop offset="0.6812" stop-color="#24aa83"/><stop offset="0.7001" stop-color="#24aa83"/><stop offset="0.7398" stop-color="#24aa83"/><stop offset="0.7617" stop-color="#24aa83"/><stop offset="0.7637" stop-color="#24aa83"/><stop offset="0.7646" stop-color="#23a983"/><stop offset="0.7825" stop-color="#21a585"/><stop offset="0.8103" stop-color="#20a486"/><stop offset="0.8312" stop-color="#1fa287"/><stop offset="0.9414" stop-color="#1fa188"/><stop offset="0.9464" stop-color="#1fa287"/><stop offset="0.9732" stop-color="#1f9f88"/><stop offset="1.0000" stop-color="#1f998a"/></linearGradient><linearGradient id="r8" gradientUnits="userSpaceOnUse" x1="225.0" y1="0" x2="1232.0" y2="0"><stop offset="0.0000" stop-color="#69cd5b"/><stop offset="0.0139" stop-color="#67cc5c"/><stop offset="0.0149" stop-color="#67cc5c"/><stop offset="0.0159" stop-color="#65cb5e"/><stop offset="0.0248" stop-color="#63cb5f"/><stop offset="0.0268" stop-color="#5ec962"/><stop offset="0.0278" stop-color="#56c667"/><stop offset="0.0298" stop-color="#4cc26c"/><stop offset="0.0308" stop-color="#46c06f"/><stop offset="0.0338" stop-color="#4cc26c"/><stop offset="0.0367" stop-color="#4ec36b"/><stop offset="0.0427" stop-color="#56c667"/><stop offset="0.0467" stop-color="#4ec36b"/><stop offset="0.0497" stop-color="#52c569"/><stop offset="0.0546" stop-color="#56c667"/><stop offset="0.0556" stop-color="#54c568"/><stop offset="0.0576" stop-color="#50c46a"/><stop offset="0.0596" stop-color="#4cc26c"/><stop offset="0.0616" stop-color="#4ac16d"/><stop offset="0.0636" stop-color="#52c569"/><stop offset="0.0665" stop-color="#60ca60"/><stop offset="0.0705" stop-color="#60ca60"/><stop offset="0.0745" stop-color="#60ca60"/><stop offset="0.0775" stop-color="#63cb5f"/><stop offset="0.0844" stop-color="#63cb5f"/><stop offset="0.0943" stop-color="#63cb5f"/><stop offset="0.1341" stop-color="#60ca60"/><stop offset="0.1658" stop-color="#63cb5f"/><stop offset="0.1738" stop-color="#63cb5f"/><stop offset="0.1817" stop-color="#60ca60"/><stop offset="0.1897" stop-color="#5ac864"/><stop offset="0.1936" stop-color="#54c568"/><stop offset="0.1986" stop-color="#4ac16d"/><stop offset="0.2001" stop-color="#46c06f"/><stop offset="0.2006" stop-color="#46c06f"/><stop offset="0.2036" stop-color="#40bd72"/><stop offset="0.2085" stop-color="#3aba76"/><stop offset="0.2135" stop-color="#35b779"/><stop offset="0.2185" stop-color="#2fb47c"/><stop offset="0.2234" stop-color="#2cb17e"/><stop offset="0.2284" stop-color="#28ae80"/><stop offset="0.2314" stop-color="#27ad81"/><stop offset="0.2344" stop-color="#27ad81"/><stop offset="0.2383" stop-color="#26ad81"/><stop offset="0.2393" stop-color="#26ad81"/><stop offset="0.2433" stop-color="#27ad81"/><stop offset="0.2453" stop-color="#29af7f"/><stop offset="0.2483" stop-color="#2cb17e"/><stop offset="0.2502" stop-color="#2eb37c"/><stop offset="0.2532" stop-color="#2fb47c"/><stop offset="0.2582" stop-color="#32b67a"/><stop offset="0.2622" stop-color="#32b67a"/><stop offset="0.2681" stop-color="#32b67a"/><stop offset="0.2761" stop-color="#32b67a"/><stop offset="0.2810" stop-color="#32b67a"/><stop offset="0.2969" stop-color="#32b67a"/><stop offset="0.3009" stop-color="#32b67a"/><stop offset="0.3039" stop-color="#32b67a"/><stop offset="0.3178" stop-color="#32b67a"/><stop offset="0.3227" stop-color="#38b977"/><stop offset="0.3247" stop-color="#3aba76"/><stop offset="0.3287" stop-color="#3aba76"/><stop offset="0.3406" stop-color="#3aba76"/><stop offset="0.3426" stop-color="#3aba76"/><stop offset="0.3476" stop-color="#38b977"/><stop offset="0.3575" stop-color="#38b977"/><stop offset="0.3615" stop-color="#34b679"/><stop offset="0.3644" stop-color="#32b67a"/><stop offset="0.3823" stop-color="#31b57b"/><stop offset="0.3923" stop-color="#31b57b"/><stop offset="0.4071" stop-color="#2fb47c"/><stop offset="0.4171" stop-color="#2fb47c"/><stop offset="0.4220" stop-color="#2fb47c"/><stop offset="0.4369" stop-color="#2eb37c"/><stop offset="0.4568" stop-color="#31b57b"/><stop offset="0.4638" stop-color="#31b57b"/><stop offset="0.4717" stop-color="#31b57b"/><stop offset="0.4767" stop-color="#31b57b"/><stop offset="0.4836" stop-color="#2fb47c"/><stop offset="0.4945" stop-color="#2fb47c"/><stop offset="0.5065" stop-color="#31b57b"/><stop offset="0.5114" stop-color="#32b67a"/><stop offset="0.5164" stop-color="#34b679"/><stop offset="0.5293" stop-color="#37b878"/><stop offset="0.5313" stop-color="#37b878"/><stop offset="0.5482" stop-color="#37b878"/><stop offset="0.5561" stop-color="#37b878"/><stop offset="0.5611" stop-color="#37b878"/><stop offset="0.5660" stop-color="#34b679"/><stop offset="0.5710" stop-color="#31b57b"/><stop offset="0.5740" stop-color="#2fb47c"/><stop offset="0.5780" stop-color="#2db27d"/><stop offset="0.5809" stop-color="#2ab07f"/><stop offset="0.5829" stop-color="#29af7f"/><stop offset="0.5859" stop-color="#28ae80"/><stop offset="0.5958" stop-color="#25ac82"/><stop offset="0.6008" stop-color="#25ab82"/><stop offset="0.6306" stop-color="#25ab82"/><stop offset="0.6336" stop-color="#25ab82"/><stop offset="0.6703" stop-color="#25ab82"/><stop offset="0.6802" stop-color="#24aa83"/><stop offset="0.6812" stop-color="#24aa83"/><stop offset="0.7001" stop-color="#24aa83"/><stop offset="0.7398" stop-color="#24aa83"/><stop offset="0.7617" stop-color="#23a983"/><stop offset="0.7637" stop-color="#23a983"/><stop offset="0.7646" stop-color="#23a983"/><stop offset="0.7825" stop-color="#21a585"/><stop offset="0.8103" stop-color="#20a486"/><stop offset="0.8312" stop-color="#20a386"/><stop offset="0.9414" stop-color="#1fa188"/><stop offset="0.9464" stop-color="#1fa287"/><stop offset="0.9732" stop-color="#1f9f88"/><stop offset="1.0000" stop-color="#1f998a"/></linearGradient><linearGradient id="r9" gradientUnits="userSpaceOnUse" x1="225.0" y1="0" x2="1232.0" y2="0"><stop offset="0.0000" stop-color="#69cd5b"/><stop offset="0.0139" stop-color="#67cc5c"/><stop offset="0.0149" stop-color="#67cc5c"/><stop offset="0.0159" stop-color="#67cc5c"/><stop offset="0.0248" stop-color="#65cb5e"/><stop offset="0.0268" stop-color="#63cb5f"/><stop offset="0.0278" stop-color="#5ac864"/><stop offset="0.0298" stop-color="#4ec36b"/><stop offset="0.0308" stop-color="#46c06f"/><stop offset="0.0338" stop-color="#4ac16d"/><stop offset="0.0367" stop-color="#4cc26c"/><stop offset="0.0427" stop-color="#58c765"/><stop offset="0.0467" stop-color="#4cc26c"/><stop offset="0.0497" stop-color="#50c46a"/><stop offset="0.0546" stop-color="#56c667"/><stop offset="0.0556" stop-color="#56c667"/><stop offset="0.0576" stop-color="#52c569"/><stop offset="0.0596" stop-color="#4ec36b"/><stop offset="0.0616" stop-color="#4cc26c"/><stop offset="0.0636" stop-color="#52c569"/><stop offset="0.0665" stop-color="#5ec962"/><stop offset="0.0705" stop-color="#60ca60"/><stop offset="0.0745" stop-color="#60ca60"/><stop offset="0.0775" stop-color="#60ca60"/><stop offset="0.0844" stop-color="#63cb5f"/><stop offset="0.0943" stop-color="#63cb5f"/><stop offset="0.1341" stop-color="#60ca60"/><stop offset="0.1658" stop-color="#63cb5f"/><stop offset="0.1738" stop-color="#63cb5f"/><stop offset="0.1817" stop-color="#60ca60"/><stop offset="0.1897" stop-color="#5ec962"/><stop offset="0.1936" stop-color="#56c667"/><stop offset="0.1986" stop-color="#4cc26c"/><stop offset="0.2001" stop-color="#48c16e"/><stop offset="0.2006" stop-color="#48c16e"/><stop offset="0.2036" stop-color="#42be71"/><stop offset="0.2085" stop-color="#3bbb75"/><stop offset="0.2135" stop-color="#35b779"/><stop offset="0.2185" stop-color="#31b57b"/><stop offset="0.2234" stop-color="#2cb17e"/><stop offset="0.2284" stop-color="#28ae80"/><stop offset="0.2314" stop-color="#27ad81"/><stop offset="0.2344" stop-color="#27ad81"/><stop offset="0.2383" stop-color="#27ad81"/><stop offset="0.2393" stop-color="#26ad81"/><stop offset="0.2433" stop-color="#27ad81"/><stop offset="0.2453" stop-color="#28ae80"/><stop offset="0.2483" stop-color="#2cb17e"/><stop offset="0.2502" stop-color="#2db27d"/><stop offset="0.2532" stop-color="#2fb47c"/><stop offset="0.2582" stop-color="#32b67a"/><stop offset="0.2622" stop-color="#32b67a"/><stop offset="0.2681" stop-color="#32b67a"/><stop offset="0.2761" stop-color="#32b67a"/><stop offset="0.2810" stop-color="#32b67a"/><stop offset="0.2969" stop-color="#32b67a"/><stop offset="0.3009" stop-color="#32b67a"/><stop offset="0.3039" stop-color="#32b67a"/><stop offset="0.3178" stop-color="#32b67a"/><stop offset="0.3227" stop-color="#38b977"/><stop offset="0.3247" stop-color="#3aba76"/><stop offset="0.3287" stop-color="#3aba76"/><stop offset="0.3406" stop-color="#3aba76"/><stop offset="0.3426" stop-color="#3aba76"/><stop offset="0.3476" stop-color="#3aba76"/><stop offset="0.3575" stop-color="#3aba76"/><stop offset="0.3615" stop-color="#35b779"/><stop offset="0.3644" stop-color="#32b67a"/><stop offset="0.3823" stop-color="#31b57b"/><stop offset="0.3923" stop-color="#31b57b"/><stop offset="0.4071" stop-color="#2fb47c"/><stop offset="0.4171" stop-color="#2fb47c"/><stop offset="0.4220" stop-color="#2fb47c"/><stop offset="0.4369" stop-color="#2db27d"/><stop offset="0.4568" stop-color="#31b57b"/><stop offset="0.4638" stop-color="#31b57b"/><stop offset="0.4717" stop-color="#31b57b"/><stop offset="0.4767" stop-color="#31b57b"/><stop offset="0.4836" stop-color="#31b57b"/><stop offset="0.4945" stop-color="#31b57b"/><stop offset="0.5065" stop-color="#32b67a"/><stop offset="0.5114" stop-color="#32b67a"/><stop offset="0.5164" stop-color="#34b679"/><stop offset="0.5293" stop-color="#37b878"/><stop offset="0.5313" stop-color="#38b977"/><stop offset="0.5482" stop-color="#38b977"/><stop offset="0.5561" stop-color="#38b977"/><stop offset="0.5611" stop-color="#38b977"/><stop offset="0.5660" stop-color="#34b679"/><stop offset="0.5710" stop-color="#31b57b"/><stop offset="0.5740" stop-color="#2fb47c"/><stop offset="0.5780" stop-color="#2db27d"/><stop offset="0.5809" stop-color="#2ab07f"/><stop offset="0.5829" stop-color="#29af7f"/><stop offset="0.5859" stop-color="#28ae80"/><stop offset="0.5958" stop-color="#26ad81"/><stop offset="0.6008" stop-color="#25ac82"/><stop offset="0.6306" stop-color="#25ab82"/><stop offset="0.6336" stop-color="#25ab82"/><stop offset="0.6703" stop-color="#25ab82"/><stop offset="0.6802" stop-color="#24aa83"/><stop offset="0.6812" stop-color="#24aa83"/><stop offset="0.7001" stop-color="#24aa83"/><stop offset="0.7398" stop-color="#24aa83"/><stop offset="0.7617" stop-color="#23a983"/><stop offset="0.7637" stop-color="#23a983"/><stop offset="0.7646" stop-color="#23a983"/><stop offset="0.7825" stop-color="#21a585"/><stop offset="0.8103" stop-color="#20a486"/><stop offset="0.8312" stop-color="#20a386"/><stop offset="0.9414" stop-color="#1fa188"/><stop offset="0.9464" stop-color="#1fa287"/><stop offset="0.9732" stop-color="#1f9f88"/><stop offset="1.0000" stop-color="#1f998a"/></linearGradient><linearGradient id="r10" gradientUnits="userSpaceOnUse" x1="225.0" y1="0" x2="1232.0" y2="0"><stop offset="0.0000" stop-color="#69cd5b"/><stop offset="0.0139" stop-color="#69cd5b"/><stop offset="0.0149" stop-color="#69cd5b"/><stop offset="0.0159" stop-color="#67cc5c"/><stop offset="0.0248" stop-color="#67cc5c"/><stop offset="0.0268" stop-color="#67cc5c"/><stop offset="0.0278" stop-color="#5ec962"/><stop offset="0.0298" stop-color="#4ec36b"/><stop offset="0.0308" stop-color="#48c16e"/><stop offset="0.0338" stop-color="#4ac16d"/><stop offset="0.0367" stop-color="#4cc26c"/><stop offset="0.0427" stop-color="#58c765"/><stop offset="0.0467" stop-color="#4cc26c"/><stop offset="0.0497" stop-color="#50c46a"/><stop offset="0.0546" stop-color="#58c765"/><stop offset="0.0556" stop-color="#56c667"/><stop offset="0.0576" stop-color="#54c568"/><stop offset="0.0596" stop-color="#50c46a"/><stop offset="0.0616" stop-color="#4cc26c"/><stop offset="0.0636" stop-color="#54c568"/><stop offset="0.0665" stop-color="#5ec962"/><stop offset="0.0705" stop-color="#60ca60"/><stop offset="0.0745" stop-color="#60ca60"/><stop offset="0.0775" stop-color="#60ca60"/><stop offset="0.0844" stop-color="#63cb5f"/><stop offset="0.0943" stop-color="#63cb5f"/><stop offset="0.1341" stop-color="#60ca60"/><stop offset="0.1658" stop-color="#63cb5f"/><stop offset="0.1738" stop-color="#63cb5f"/><stop offset="0.1817" stop-color="#60ca60"/><stop offset="0.1897" stop-color="#5ec962"/><stop offset="0.1936" stop-color="#58c765"/><stop offset="0.1986" stop-color="#4ec36b"/><stop offset="0.2001" stop-color="#4ac16d"/><stop offset="0.2006" stop-color="#48c16e"/><stop offset="0.2036" stop-color="#42be71"/><stop offset="0.2085" stop-color="#3dbc74"/><stop offset="0.2135" stop-color="#37b878"/><stop offset="0.2185" stop-color="#31b57b"/><stop offset="0.2234" stop-color="#2cb17e"/><stop offset="0.2284" stop-color="#28ae80"/><stop offset="0.2314" stop-color="#28ae80"/><stop offset="0.2344" stop-color="#27ad81"/><stop offset="0.2383" stop-color="#27ad81"/><stop offset="0.2393" stop-color="#27ad81"/><stop offset="0.2433" stop-color="#26ad81"/><stop offset="0.2453" stop-color="#28ae80"/><stop offset="0.2483" stop-color="#2ab07f"/><stop offset="0.2502" stop-color="#2db27d"/><stop offset="0.2532" stop-color="#2eb37c"/><stop offset="0.2582" stop-color="#32b67a"/><stop offset="0.2622" stop-color="#32b67a"/><stop offset="0.2681" stop-color="#32b67a"/><stop offset="0.2761" stop-color="#32b67a"/><stop offset="0.2810" stop-color="#32b67a"/><stop offset="0.2969" stop-color="#32b67a"/><stop offset="0.3009" stop-color="#32b67a"/><stop offset="0.3039" stop-color="#32b67a"/><stop offset="0.3178" stop-color="#34b679"/><stop offset="0.3227" stop-color="#38b977"/><stop offset="0.3247" stop-color="#3bbb75"/><stop offset="0.3287" stop-color="#3bbb75"/><stop offset="0.3406" stop-color="#3bbb75"/><stop offset="0.3426" stop-color="#3bbb75"/><stop offset="0.3476" stop-color="#3bbb75"/><stop offset="0.3575" stop-color="#3bbb75"/><stop offset="0.3615" stop-color="#35b779"/><stop offset="0.3644" stop-color="#32b67a"/><stop offset="0.3823" stop-color="#31b57b"/><stop offset="0.3923" stop-color="#31b57b"/><stop offset="0.4071" stop-color="#2fb47c"/><stop offset="0.4171" stop-color="#2fb47c"/><stop offset="0.4220" stop-color="#2fb47c"/><stop offset="0.4369" stop-color="#2db27d"/><stop offset="0.4568" stop-color="#31b57b"/><stop offset="0.4638" stop-color="#31b57b"/><stop offset="0.4717" stop-color="#31b57b"/><stop offset="0.4767" stop-color="#31b57b"/><stop offset="0.4836" stop-color="#32b67a"/><stop offset="0.4945" stop-color="#32b67a"/><stop offset="0.5065" stop-color="#32b67a"/><stop offset="0.5114" stop-color="#34b679"/><stop offset="0.5164" stop-color="#34b679"/><stop offset="0.5293" stop-color="#38b977"/><stop offset="0.5313" stop-color="#38b977"/><stop offset="0.5482" stop-color="#38b977"/><stop offset="0.5561" stop-color="#38b977"/><stop offset="0.5611" stop-color="#38b977"/><stop offset="0.5660" stop-color="#35b779"/><stop offset="0.5710" stop-color="#31b57b"/><stop offset="0.5740" stop-color="#2fb47c"/><stop offset="0.5780" stop-color="#2db27d"/><stop offset="0.5809" stop-color="#2ab07f"/><stop offset="0.5829" stop-color="#2ab07f"/><stop offset="0.5859" stop-color="#28ae80"/><stop offset="0.5958" stop-color="#26ad81"/><stop offset="0.6008" stop-color="#25ac82"/><stop offset="0.6306" stop-color="#25ab82"/><stop offset="0.6336" stop-color="#25ab82"/><stop offset="0.6703" stop-color="#25ab82"/><stop offset="0.6802" stop-color="#24aa83"/><stop offset="0.6812" stop-color="#24aa83"/><stop offset="0.7001" stop-color="#24aa83"/><stop offset="0.7398" stop-color="#23a983"/><stop offset="0.7617" stop-color="#23a983"/><stop offset="0.7637" stop-color="#23a983"/><stop offset="0.7646" stop-color="#23a983"/><stop offset="0.7825" stop-color="#21a685"/><stop offset="0.8103" stop-color="#20a486"/><stop offset="0.8312" stop-color="#20a386"/><stop offset="0.9414" stop-color="#1fa188"/><stop offset="0.9464" stop-color="#1fa287"/><stop offset="0.9732" stop-color="#1f9f88"/><stop offset="1.0000" stop-color="#1f998a"/></linearGradient><linearGradient id="r11" gradientUnits="userSpaceOnUse" x1="225.0" y1="0" x2="1232.0" y2="0"><stop offset="0.0000" stop-color="#69cd5b"/><stop offset="0.0139" stop-color="#69cd5b"/><stop offset="0.0149" stop-color="#69cd5b"/><stop offset="0.0159" stop-color="#67cc5c"/><stop offset="0.0248" stop-color="#67cc5c"/><stop offset="0.0268" stop-color="#67cc5c"/><stop offset="0.0278" stop-color="#60ca60"/><stop offset="0.0298" stop-color="#52c569"/><stop offset="0.0308" stop-color="#4cc26c"/><stop offset="0.0338" stop-color="#4ec36b"/><stop offset="0.0367" stop-color="#50c46a"/><stop offset="0.0427" stop-color="#5ac864"/><stop offset="0.0467" stop-color="#50c46a"/><stop offset="0.0497" stop-color="#54c568"/><stop offset="0.0546" stop-color="#5ac864"/><stop offset="0.0556" stop-color="#58c765"/><stop offset="0.0576" stop-color="#56c667"/><stop offset="0.0596" stop-color="#52c569"/><stop offset="0.0616" stop-color="#4ec36b"/><stop offset="0.0636" stop-color="#54c568"/><stop offset="0.0665" stop-color="#5ec962"/><stop offset="0.0705" stop-color="#5ec962"/><stop offset="0.0745" stop-color="#60ca60"/><stop offset="0.0775" stop-color="#60ca60"/><stop offset="0.0844" stop-color="#63cb5f"/><stop offset="0.0943" stop-color="#63cb5f"/><stop offset="0.1341" stop-color="#60ca60"/><stop offset="0.1658" stop-color="#63cb5f"/><stop offset="0.1738" stop-color="#63cb5f"/><stop offset="0.1817" stop-color="#60ca60"/><stop offset="0.1897" stop-color="#60ca60"/><stop offset="0.1936" stop-color="#58c765"/><stop offset="0.1986" stop-color="#50c46a"/><stop offset="0.2001" stop-color="#46c06f"/><stop offset="0.2006" stop-color="#46c06f"/><stop offset="0.2036" stop-color="#40bd72"/><stop offset="0.2085" stop-color="#3bbb75"/><stop offset="0.2135" stop-color="#35b779"/><stop offset="0.2185" stop-color="#31b57b"/><stop offset="0.2234" stop-color="#2db27d"/><stop offset="0.2284" stop-color="#29af7f"/><stop offset="0.2314" stop-color="#29af7f"/><stop offset="0.2344" stop-color="#28ae80"/><stop offset="0.2383" stop-color="#28ae80"/><stop offset="0.2393" stop-color="#28ae80"/><stop offset="0.2433" stop-color="#27ad81"/><stop offset="0.2453" stop-color="#28ae80"/><stop offset="0.2483" stop-color="#2ab07f"/><stop offset="0.2502" stop-color="#2db27d"/><stop offset="0.2532" stop-color="#2eb37c"/><stop offset="0.2582" stop-color="#31b57b"/><stop offset="0.2622" stop-color="#31b57b"/><stop offset="0.2681" stop-color="#34b679"/><stop offset="0.2761" stop-color="#34b679"/><stop offset="0.2810" stop-color="#34b679"/><stop offset="0.2969" stop-color="#34b679"/><stop offset="0.3009" stop-color="#35b779"/><stop offset="0.3039" stop-color="#34b679"/><stop offset="0.3178" stop-color="#34b679"/><stop offset="0.3227" stop-color="#38b977"/><stop offset="0.3247" stop-color="#3bbb75"/><stop offset="0.3287" stop-color="#3bbb75"/><stop offset="0.3406" stop-color="#3aba76"/><stop offset="0.3426" stop-color="#3aba76"/><stop offset="0.3476" stop-color="#3aba76"/><stop offset="0.3575" stop-color="#3aba76"/><stop offset="0.3615" stop-color="#35b779"/><stop offset="0.3644" stop-color="#32b67a"/><stop offset="0.3823" stop-color="#31b57b"/><stop offset="0.3923" stop-color="#31b57b"/><stop offset="0.4071" stop-color="#31b57b"/><stop offset="0.4171" stop-color="#2fb47c"/><stop offset="0.4220" stop-color="#2fb47c"/><stop offset="0.4369" stop-color="#2eb37c"/><stop offset="0.4568" stop-color="#31b57b"/><stop offset="0.4638" stop-color="#31b57b"/><stop offset="0.4717" stop-color="#31b57b"/><stop offset="0.4767" stop-color="#31b57b"/><stop offset="0.4836" stop-color="#32b67a"/><stop offset="0.4945" stop-color="#32b67a"/><stop offset="0.5065" stop-color="#34b679"/><stop offset="0.5114" stop-color="#34b679"/><stop offset="0.5164" stop-color="#35b779"/><stop offset="0.5293" stop-color="#38b977"/><stop offset="0.5313" stop-color="#38b977"/><stop offset="0.5482" stop-color="#38b977"/><stop offset="0.5561" stop-color="#38b977"/><stop offset="0.5611" stop-color="#38b977"/><stop offset="0.5660" stop-color="#35b779"/><stop offset="0.5710" stop-color="#32b67a"/><stop offset="0.5740" stop-color="#2fb47c"/><stop offset="0.5780" stop-color="#2db27d"/><stop offset="0.5809" stop-color="#2cb17e"/><stop offset="0.5829" stop-color="#2ab07f"/><stop offset="0.5859" stop-color="#29af7f"/><stop offset="0.5958" stop-color="#26ad81"/><stop offset="0.6008" stop-color="#25ac82"/><stop offset="0.6306" stop-color="#25ab82"/><stop offset="0.6336" stop-color="#25ab82"/><stop offset="0.6703" stop-color="#25ab82"/><stop offset="0.6802" stop-color="#25ab82"/><stop offset="0.6812" stop-color="#25ab82"/><stop offset="0.7001" stop-color="#24aa83"/><stop offset="0.7398" stop-color="#23a983"/><stop offset="0.7617" stop-color="#23a983"/><stop offset="0.7637" stop-color="#23a983"/><stop offset="0.7646" stop-color="#23a983"/><stop offset="0.7825" stop-color="#21a685"/><stop offset="0.8103" stop-color="#20a486"/><stop offset="0.8312" stop-color="#20a386"/><stop offset="0.9414" stop-color="#1fa188"/><stop offset="0.9464" stop-color="#1fa287"/><stop offset="0.9732" stop-color="#1f9f88"/><stop offset="1.0000" stop-color="#1f998a"/></linearGradient><linearGradient id="r12" gradientUnits="userSpaceOnUse" x1="225.0" y1="0" x2="1232.0" y2="0"><stop offset="0.0000" stop-color="#69cd5b"/><stop offset="0.0139" stop-color="#69cd5b"/><stop offset="0.0149" stop-color="#69cd5b"/><stop offset="0.0159" stop-color="#67cc5c"/><stop offset="0.0248" stop-color="#67cc5c"/><stop offset="0.0268" stop-color="#67cc5c"/><stop offset="0.0278" stop-color="#60ca60"/><stop offset="0.0298" stop-color="#54c568"/><stop offset="0.0308" stop-color="#50c46a"/><stop offset="0.0338" stop-color="#50c46a"/><stop offset="0.0367" stop-color="#52c569"/><stop offset="0.0427" stop-color="#5cc863"/><stop offset="0.0467" stop-color="#52c569"/><stop offset="0.0497" stop-color="#56c667"/><stop offset="0.0546" stop-color="#5ac864"/><stop offset="0.0556" stop-color="#5ac864"/><stop offset="0.0576" stop-color="#56c667"/><stop offset="0.0596" stop-color="#54c568"/><stop offset="0.0616" stop-color="#52c569"/><stop offset="0.0636" stop-color="#56c667"/><stop offset="0.0665" stop-color="#5cc863"/><stop offset="0.0705" stop-color="#5ec962"/><stop offset="0.0745" stop-color="#5ec962"/><stop offset="0.0775" stop-color="#60ca60"/><stop offset="0.0844" stop-color="#63cb5f"/><stop offset="0.0943" stop-color="#63cb5f"/><stop offset="0.1341" stop-color="#60ca60"/><stop offset="0.1658" stop-color="#63cb5f"/><stop offset="0.1738" stop-color="#63cb5f"/><stop offset="0.1817" stop-color="#60ca60"/><stop offset="0.1897" stop-color="#60ca60"/><stop offset="0.1936" stop-color="#5ac864"/><stop offset="0.1986" stop-color="#52c569"/><stop offset="0.2001" stop-color="#42be71"/><stop offset="0.2006" stop-color="#42be71"/><stop offset="0.2036" stop-color="#3fbc73"/><stop offset="0.2085" stop-color="#3aba76"/><stop offset="0.2135" stop-color="#35b779"/><stop offset="0.2185" stop-color="#31b57b"/><stop offset="0.2234" stop-color="#2db27d"/><stop offset="0.2284" stop-color="#2ab07f"/><stop offset="0.2314" stop-color="#29af7f"/><stop offset="0.2344" stop-color="#29af7f"/><stop offset="0.2383" stop-color="#29af7f"/><stop offset="0.2393" stop-color="#29af7f"/><stop offset="0.2433" stop-color="#28ae80"/><stop offset="0.2453" stop-color="#29af7f"/><stop offset="0.2483" stop-color="#2ab07f"/><stop offset="0.2502" stop-color="#2db27d"/><stop offset="0.2532" stop-color="#2eb37c"/><stop offset="0.2582" stop-color="#2fb47c"/><stop offset="0.2622" stop-color="#31b57b"/><stop offset="0.2681" stop-color="#37b878"/><stop offset="0.2761" stop-color="#37b878"/><stop offset="0.2810" stop-color="#34b679"/><stop offset="0.2969" stop-color="#34b679"/><stop offset="0.3009" stop-color="#37b878"/><stop offset="0.3039" stop-color="#35b779"/><stop offset="0.3178" stop-color="#35b779"/><stop offset="0.3227" stop-color="#3aba76"/><stop offset="0.3247" stop-color="#3bbb75"/><stop offset="0.3287" stop-color="#3bbb75"/><stop offset="0.3406" stop-color="#3aba76"/><stop offset="0.3426" stop-color="#3aba76"/><stop offset="0.3476" stop-color="#3aba76"/><stop offset="0.3575" stop-color="#3aba76"/><stop offset="0.3615" stop-color="#37b878"/><stop offset="0.3644" stop-color="#34b679"/><stop offset="0.3823" stop-color="#32b67a"/><stop offset="0.3923" stop-color="#32b67a"/><stop offset="0.4071" stop-color="#31b57b"/><stop offset="0.4171" stop-color="#31b57b"/><stop offset="0.4220" stop-color="#2fb47c"/><stop offset="0.4369" stop-color="#2eb37c"/><stop offset="0.4568" stop-color="#31b57b"/><stop offset="0.4638" stop-color="#31b57b"/><stop offset="0.4717" stop-color="#31b57b"/><stop offset="0.4767" stop-color="#31b57b"/><stop offset="0.4836" stop-color="#32b67a"/><stop offset="0.4945" stop-color="#32b67a"/><stop offset="0.5065" stop-color="#34b679"/><stop offset="0.5114" stop-color="#35b779"/><stop offset="0.5164" stop-color="#35b779"/><stop offset="0.5293" stop-color="#38b977"/><stop offset="0.5313" stop-color="#38b977"/><stop offset="0.5482" stop-color="#38b977"/><stop offset="0.5561" stop-color="#38b977"/><stop offset="0.5611" stop-color="#38b977"/><stop offset="0.5660" stop-color="#37b878"/><stop offset="0.5710" stop-color="#32b67a"/><stop offset="0.5740" stop-color="#31b57b"/><stop offset="0.5780" stop-color="#2eb37c"/><stop offset="0.5809" stop-color="#2cb17e"/><stop offset="0.5829" stop-color="#2cb17e"/><stop offset="0.5859" stop-color="#29af7f"/><stop offset="0.5958" stop-color="#27ad81"/><stop offset="0.6008" stop-color="#26ad81"/><stop offset="0.6306" stop-color="#25ac82"/><stop offset="0.6336" stop-color="#25ab82"/><stop offset="0.6703" stop-color="#25ab82"/><stop offset="0.6802" stop-color="#25ab82"/><stop offset="0.6812" stop-color="#25ab82"/><stop offset="0.7001" stop-color="#24aa83"/><stop offset="0.7398" stop-color="#23a983"/><stop offset="0.7617" stop-color="#23a983"/><stop offset="0.7637" stop-color="#23a983"/><stop offset="0.7646" stop-color="#23a983"/><stop offset="0.7825" stop-color="#21a685"/><stop offset="0.8103" stop-color="#20a486"/><stop offset="0.8312" stop-color="#20a386"/><stop offset="0.9414" stop-color="#1fa188"/><stop offset="0.9464" stop-color="#1fa287"/><stop offset="0.9732" stop-color="#1f9f88"/><stop offset="1.0000" stop-color="#1f998a"/></linearGradient><linearGradient id="r13" gradientUnits="userSpaceOnUse" x1="225.0" y1="0" x2="1232.0" y2="0"><stop offset="0.0000" stop-color="#69cd5b"/><stop offset="0.0139" stop-color="#69cd5b"/><stop offset="0.0149" stop-color="#69cd5b"/><stop offset="0.0159" stop-color="#69cd5b"/><stop offset="0.0248" stop-color="#67cc5c"/><stop offset="0.0268" stop-color="#67cc5c"/><stop offset="0.0278" stop-color="#60ca60"/><stop offset="0.0298" stop-color="#58c765"/><stop offset="0.0308" stop-color="#52c569"/><stop offset="0.0338" stop-color="#54c568"/><stop offset="0.0367" stop-color="#56c667"/><stop offset="0.0427" stop-color="#5cc863"/><stop offset="0.0467" stop-color="#56c667"/><stop offset="0.0497" stop-color="#58c765"/><stop offset="0.0546" stop-color="#5cc863"/><stop offset="0.0556" stop-color="#5cc863"/><stop offset="0.0576" stop-color="#58c765"/><stop offset="0.0596" stop-color="#56c667"/><stop offset="0.0616" stop-color="#54c568"/><stop offset="0.0636" stop-color="#56c667"/><stop offset="0.0665" stop-color="#5cc863"/><stop offset="0.0705" stop-color="#5ec962"/><stop offset="0.0745" stop-color="#5ec962"/><stop offset="0.0775" stop-color="#60ca60"/><stop offset="0.0844" stop-color="#63cb5f"/><stop offset="0.0943" stop-color="#63cb5f"/><stop offset="0.1341" stop-color="#63cb5f"/><stop offset="0.1658" stop-color="#63cb5f"/><stop offset="0.1738" stop-color="#63cb5f"/><stop offset="0.1817" stop-color="#63cb5f"/><stop offset="0.1897" stop-color="#60ca60"/><stop offset="0.1936" stop-color="#5cc863"/><stop offset="0.1986" stop-color="#56c667"/><stop offset="0.2001" stop-color="#3fbc73"/><stop offset="0.2006" stop-color="#3fbc73"/><stop offset="0.2036" stop-color="#3bbb75"/><stop offset="0.2085" stop-color="#38b977"/><stop offset="0.2135" stop-color="#34b679"/><stop offset="0.2185" stop-color="#31b57b"/><stop offset="0.2234" stop-color="#2eb37c"/><stop offset="0.2284" stop-color="#2ab07f"/><stop offset="0.2314" stop-color="#2ab07f"/><stop offset="0.2344" stop-color="#2ab07f"/><stop offset="0.2383" stop-color="#2ab07f"/><stop offset="0.2393" stop-color="#29af7f"/><stop offset="0.2433" stop-color="#29af7f"/><stop offset="0.2453" stop-color="#29af7f"/><stop offset="0.2483" stop-color="#2ab07f"/><stop offset="0.2502" stop-color="#2db27d"/><stop offset="0.2532" stop-color="#2db27d"/><stop offset="0.2582" stop-color="#2fb47c"/><stop offset="0.2622" stop-color="#2fb47c"/><stop offset="0.2681" stop-color="#38b977"/><stop offset="0.2761" stop-color="#38b977"/><stop offset="0.2810" stop-color="#34b679"/><stop offset="0.2969" stop-color="#35b779"/><stop offset="0.3009" stop-color="#3aba76"/><stop offset="0.3039" stop-color="#37b878"/><stop offset="0.3178" stop-color="#37b878"/><stop offset="0.3227" stop-color="#3aba76"/><stop offset="0.3247" stop-color="#3bbb75"/><stop offset="0.3287" stop-color="#3aba76"/><stop offset="0.3406" stop-color="#3aba76"/><stop offset="0.3426" stop-color="#3aba76"/><stop offset="0.3476" stop-color="#3aba76"/><stop offset="0.3575" stop-color="#3aba76"/><stop offset="0.3615" stop-color="#37b878"/><stop offset="0.3644" stop-color="#34b679"/><stop offset="0.3823" stop-color="#32b67a"/><stop offset="0.3923" stop-color="#32b67a"/><stop offset="0.4071" stop-color="#31b57b"/><stop offset="0.4171" stop-color="#31b57b"/><stop offset="0.4220" stop-color="#31b57b"/><stop offset="0.4369" stop-color="#2fb47c"/><stop offset="0.4568" stop-color="#31b57b"/><stop offset="0.4638" stop-color="#31b57b"/><stop offset="0.4717" stop-color="#31b57b"/><stop offset="0.4767" stop-color="#31b57b"/><stop offset="0.4836" stop-color="#32b67a"/><stop offset="0.4945" stop-color="#32b67a"/><stop offset="0.5065" stop-color="#35b779"/><stop offset="0.5114" stop-color="#35b779"/><stop offset="0.5164" stop-color="#37b878"/><stop offset="0.5293" stop-color="#38b977"/><stop offset="0.5313" stop-color="#3aba76"/><stop offset="0.5482" stop-color="#3aba76"/><stop offset="0.5561" stop-color="#3aba76"/><stop offset="0.5611" stop-color="#3aba76"/><stop offset="0.5660" stop-color="#37b878"/><stop offset="0.5710" stop-color="#34b679"/><stop offset="0.5740" stop-color="#31b57b"/><stop offset="0.5780" stop-color="#2eb37c"/><stop offset="0.5809" stop-color="#2db27d"/><stop offset="0.5829" stop-color="#2cb17e"/><stop offset="0.5859" stop-color="#2ab07f"/><stop offset="0.5958" stop-color="#28ae80"/><stop offset="0.6008" stop-color="#27ad81"/><stop offset="0.6306" stop-color="#25ac82"/><stop offset="0.6336" stop-color="#25ac82"/><stop offset="0.6703" stop-color="#25ab82"/><stop offset="0.6802" stop-color="#25ab82"/><stop offset="0.6812" stop-color="#25ab82"/><stop offset="0.7001" stop-color="#24aa83"/><stop offset="0.7398" stop-color="#23a983"/><stop offset="0.7617" stop-color="#23a983"/><stop offset="0.7637" stop-color="#23a983"/><stop offset="0.7646" stop-color="#22a884"/><stop offset="0.7825" stop-color="#21a685"/><stop offset="0.8103" stop-color="#20a486"/><stop offset="0.8312" stop-color="#20a386"/><stop offset="0.9414" stop-color="#1fa188"/><stop offset="0.9464" stop-color="#1fa287"/><stop offset="0.9732" stop-color="#1f9f88"/><stop offset="1.0000" stop-color="#1f998a"/></linearGradient><linearGradient id="r14" gradientUnits="userSpaceOnUse" x1="225.0" y1="0" x2="1232.0" y2="0"><stop offset="0.0000" stop-color="#69cd5b"/><stop offset="0.0139" stop-color="#69cd5b"/><stop offset="0.0149" stop-color="#69cd5b"/><stop offset="0.0159" stop-color="#69cd5b"/><stop offset="0.0248" stop-color="#67cc5c"/><stop offset="0.0268" stop-color="#67cc5c"/><stop offset="0.0278" stop-color="#63cb5f"/><stop offset="0.0298" stop-color="#5ac864"/><stop offset="0.0308" stop-color="#56c667"/><stop offset="0.0338" stop-color="#58c765"/><stop offset="0.0367" stop-color="#58c765"/><stop offset="0.0427" stop-color="#5ec962"/><stop offset="0.0467" stop-color="#58c765"/><stop offset="0.0497" stop-color="#5ac864"/><stop offset="0.0546" stop-color="#5ec962"/><stop offset="0.0556" stop-color="#5cc863"/><stop offset="0.0576" stop-color="#5ac864"/><stop offset="0.0596" stop-color="#5ac864"/><stop offset="0.0616" stop-color="#56c667"/><stop offset="0.0636" stop-color="#58c765"/><stop offset="0.0665" stop-color="#5cc863"/><stop offset="0.0705" stop-color="#5cc863"/><stop offset="0.0745" stop-color="#5ec962"/><stop offset="0.0775" stop-color="#60ca60"/><stop offset="0.0844" stop-color="#63cb5f"/><stop offset="0.0943" stop-color="#63cb5f"/><stop offset="0.1341" stop-color="#63cb5f"/><stop offset="0.1658" stop-color="#63cb5f"/><stop offset="0.1738" stop-color="#63cb5f"/><stop offset="0.1817" stop-color="#63cb5f"/><stop offset="0.1897" stop-color="#60ca60"/><stop offset="0.1936" stop-color="#5cc863"/><stop offset="0.1986" stop-color="#58c765"/><stop offset="0.2001" stop-color="#3dbc74"/><stop offset="0.2006" stop-color="#3bbb75"/><stop offset="0.2036" stop-color="#3aba76"/><stop offset="0.2085" stop-color="#37b878"/><stop offset="0.2135" stop-color="#34b679"/><stop offset="0.2185" stop-color="#31b57b"/><stop offset="0.2234" stop-color="#2eb37c"/><stop offset="0.2284" stop-color="#2cb17e"/><stop offset="0.2314" stop-color="#2cb17e"/><stop offset="0.2344" stop-color="#2cb17e"/><stop offset="0.2383" stop-color="#2ab07f"/><stop offset="0.2393" stop-color="#2ab07f"/><stop offset="0.2433" stop-color="#29af7f"/><stop offset="0.2453" stop-color="#2ab07f"/><stop offset="0.2483" stop-color="#2ab07f"/><stop offset="0.2502" stop-color="#2cb17e"/><stop offset="0.2532" stop-color="#2db27d"/><stop offset="0.2582" stop-color="#2eb37c"/><stop offset="0.2622" stop-color="#2eb37c"/><stop offset="0.2681" stop-color="#3aba76"/><stop offset="0.2761" stop-color="#3aba76"/><stop offset="0.2810" stop-color="#35b779"/><stop offset="0.2969" stop-color="#35b779"/><stop offset="0.3009" stop-color="#3dbc74"/><stop offset="0.3039" stop-color="#37b878"/><stop offset="0.3178" stop-color="#37b878"/><stop offset="0.3227" stop-color="#3aba76"/><stop offset="0.3247" stop-color="#3bbb75"/><stop offset="0.3287" stop-color="#3aba76"/><stop offset="0.3406" stop-color="#3aba76"/><stop offset="0.3426" stop-color="#3aba76"/><stop offset="0.3476" stop-color="#3aba76"/><stop offset="0.3575" stop-color="#3aba76"/><stop offset="0.3615" stop-color="#37b878"/><stop offset="0.3644" stop-color="#35b779"/><stop offset="0.3823" stop-color="#34b679"/><stop offset="0.3923" stop-color="#32b67a"/><stop offset="0.4071" stop-color="#32b67a"/><stop offset="0.4171" stop-color="#31b57b"/><stop offset="0.4220" stop-color="#31b57b"/><stop offset="0.4369" stop-color="#2fb47c"/><stop offset="0.4568" stop-color="#31b57b"/><stop offset="0.4638" stop-color="#31b57b"/><stop offset="0.4717" stop-color="#31b57b"/><stop offset="0.4767" stop-color="#31b57b"/><stop offset="0.4836" stop-color="#32b67a"/><stop offset="0.4945" stop-color="#34b679"/><stop offset="0.5065" stop-color="#35b779"/><stop offset="0.5114" stop-color="#37b878"/><stop offset="0.5164" stop-color="#38b977"/><stop offset="0.5293" stop-color="#3aba76"/><stop offset="0.5313" stop-color="#3aba76"/><stop offset="0.5482" stop-color="#3aba76"/><stop offset="0.5561" stop-color="#3aba76"/><stop offset="0.5611" stop-color="#3aba76"/><stop offset="0.5660" stop-color="#38b977"/><stop offset="0.5710" stop-color="#34b679"/><stop offset="0.5740" stop-color="#32b67a"/><stop offset="0.5780" stop-color="#2fb47c"/><stop offset="0.5809" stop-color="#2db27d"/><stop offset="0.5829" stop-color="#2db27d"/><stop offset="0.5859" stop-color="#2ab07f"/><stop offset="0.5958" stop-color="#28ae80"/><stop offset="0.6008" stop-color="#27ad81"/><stop offset="0.6306" stop-color="#25ac82"/><stop offset="0.6336" stop-color="#25ac82"/><stop offset="0.6703" stop-color="#25ab82"/><stop offset="0.6802" stop-color="#25ab82"/><stop offset="0.6812" stop-color="#25ab82"/><stop offset="0.7001" stop-color="#24aa83"/><stop offset="0.7398" stop-color="#23a983"/><stop offset="0.7617" stop-color="#23a983"/><stop offset="0.7637" stop-color="#23a983"/><stop offset="0.7646" stop-color="#22a884"/><stop offset="0.7825" stop-color="#21a685"/><stop offset="0.8103" stop-color="#20a486"/><stop offset="0.8312" stop-color="#20a386"/><stop offset="0.9414" stop-color="#1fa188"/><stop offset="0.9464" stop-color="#1fa287"/><stop offset="0.9732" stop-color="#1f9f88"/><stop offset="1.0000" stop-color="#1f998a"/></linearGradient><linearGradient id="r15" gradientUnits="userSpaceOnUse" x1="225.0" y1="0" x2="1232.0" y2="0"><stop offset="0.0000" stop-color="#67cc5c"/><stop offset="0.0139" stop-color="#69cd5b"/><stop offset="0.0149" stop-color="#69cd5b"/><stop offset="0.0159" stop-color="#69cd5b"/><stop offset="0.0248" stop-color="#67cc5c"/><stop offset="0.0268" stop-color="#67cc5c"/><stop offset="0.0278" stop-color="#63cb5f"/><stop offset="0.0298" stop-color="#5ec962"/><stop offset="0.0308" stop-color="#5ac864"/><stop offset="0.0338" stop-color="#5cc863"/><stop offset="0.0367" stop-color="#5cc863"/><stop offset="0.0427" stop-color="#60ca60"/><stop offset="0.0467" stop-color="#5cc863"/><stop offset="0.0497" stop-color="#5cc863"/><stop offset="0.0546" stop-color="#5ec962"/><stop offset="0.0556" stop-color="#5ec962"/><stop offset="0.0576" stop-color="#5cc863"/><stop offset="0.0596" stop-color="#5cc863"/><stop offset="0.0616" stop-color="#58c765"/><stop offset="0.0636" stop-color="#5ac864"/><stop offset="0.0665" stop-color="#5ac864"/><stop offset="0.0705" stop-color="#5cc863"/><stop offset="0.0745" stop-color="#5ec962"/><stop offset="0.0775" stop-color="#5ec962"/><stop offset="0.0844" stop-color="#63cb5f"/><stop offset="0.0943" stop-color="#63cb5f"/><stop offset="0.1341" stop-color="#63cb5f"/><stop offset="0.1658" stop-color="#63cb5f"/><stop offset="0.1738" stop-color="#63cb5f"/><stop offset="0.1817" stop-color="#63cb5f"/><stop offset="0.1897" stop-color="#60ca60"/><stop offset="0.1936" stop-color="#5ec962"/><stop offset="0.1986" stop-color="#5ac864"/><stop offset="0.2001" stop-color="#3aba76"/><stop offset="0.2006" stop-color="#3aba76"/><stop offset="0.2036" stop-color="#37b878"/><stop offset="0.2085" stop-color="#35b779"/><stop offset="0.2135" stop-color="#32b67a"/><stop offset="0.2185" stop-color="#31b57b"/><stop offset="0.2234" stop-color="#2eb37c"/><stop offset="0.2284" stop-color="#2db27d"/><stop offset="0.2314" stop-color="#2db27d"/><stop offset="0.2344" stop-color="#2db27d"/><stop offset="0.2383" stop-color="#2cb17e"/><stop offset="0.2393" stop-color="#2cb17e"/><stop offset="0.2433" stop-color="#2ab07f"/><stop offset="0.2453" stop-color="#2ab07f"/><stop offset="0.2483" stop-color="#2ab07f"/><stop offset="0.2502" stop-color="#2cb17e"/><stop offset="0.2532" stop-color="#2db27d"/><stop offset="0.2582" stop-color="#2eb37c"/><stop offset="0.2622" stop-color="#2eb37c"/><stop offset="0.2681" stop-color="#3dbc74"/><stop offset="0.2761" stop-color="#3dbc74"/><stop offset="0.2810" stop-color="#35b779"/><stop offset="0.2969" stop-color="#37b878"/><stop offset="0.3009" stop-color="#3fbc73"/><stop offset="0.3039" stop-color="#38b977"/><stop offset="0.3178" stop-color="#38b977"/><stop offset="0.3227" stop-color="#3aba76"/><stop offset="0.3247" stop-color="#3bbb75"/><stop offset="0.3287" stop-color="#3aba76"/><stop offset="0.3406" stop-color="#3aba76"/><stop offset="0.3426" stop-color="#3aba76"/><stop offset="0.3476" stop-color="#3aba76"/><stop offset="0.3575" stop-color="#38b977"/><stop offset="0.3615" stop-color="#37b878"/><stop offset="0.3644" stop-color="#35b779"/><stop offset="0.3823" stop-color="#34b679"/><stop offset="0.3923" stop-color="#34b679"/><stop offset="0.4071" stop-color="#32b67a"/><stop offset="0.4171" stop-color="#32b67a"/><stop offset="0.4220" stop-color="#32b67a"/><stop offset="0.4369" stop-color="#31b57b"/><stop offset="0.4568" stop-color="#31b57b"/><stop offset="0.4638" stop-color="#31b57b"/><stop offset="0.4717" stop-color="#31b57b"/><stop offset="0.4767" stop-color="#31b57b"/><stop offset="0.4836" stop-color="#32b67a"/><stop offset="0.4945" stop-color="#34b679"/><stop offset="0.5065" stop-color="#35b779"/><stop offset="0.5114" stop-color="#37b878"/><stop offset="0.5164" stop-color="#38b977"/><stop offset="0.5293" stop-color="#3aba76"/><stop offset="0.5313" stop-color="#3aba76"/><stop offset="0.5482" stop-color="#3aba76"/><stop offset="0.5561" stop-color="#3aba76"/><stop offset="0.5611" stop-color="#3aba76"/><stop offset="0.5660" stop-color="#38b977"/><stop offset="0.5710" stop-color="#35b779"/><stop offset="0.5740" stop-color="#32b67a"/><stop offset="0.5780" stop-color="#2fb47c"/><stop offset="0.5809" stop-color="#2eb37c"/><stop offset="0.5829" stop-color="#2db27d"/><stop offset="0.5859" stop-color="#2cb17e"/><stop offset="0.5958" stop-color="#29af7f"/><stop offset="0.6008" stop-color="#28ae80"/><stop offset="0.6306" stop-color="#25ac82"/><stop offset="0.6336" stop-color="#25ac82"/><stop offset="0.6703" stop-color="#25ab82"/><stop offset="0.6802" stop-color="#25ab82"/><stop offset="0.6812" stop-color="#25ab82"/><stop offset="0.7001" stop-color="#24aa83"/><stop offset="0.7398" stop-color="#23a983"/><stop offset="0.7617" stop-color="#22a884"/><stop offset="0.7637" stop-color="#22a884"/><stop offset="0.7646" stop-color="#22a884"/><stop offset="0.7825" stop-color="#21a685"/><stop offset="0.8103" stop-color="#20a486"/><stop offset="0.8312" stop-color="#20a386"/><stop offset="0.9414" stop-color="#1fa188"/><stop offset="0.9464" stop-color="#1fa287"/><stop offset="0.9732" stop-color="#1f9f88"/><stop offset="1.0000" stop-color="#1f998a"/></linearGradient><linearGradient id="r16" gradientUnits="userSpaceOnUse" x1="225.0" y1="0" x2="1232.0" y2="0"><stop offset="0.0000" stop-color="#67cc5c"/><stop offset="0.0139" stop-color="#69cd5b"/><stop offset="0.0149" stop-color="#69cd5b"/><stop offset="0.0159" stop-color="#69cd5b"/><stop offset="0.0248" stop-color="#67cc5c"/><stop offset="0.0268" stop-color="#67cc5c"/><stop offset="0.0278" stop-color="#65cb5e"/><stop offset="0.0298" stop-color="#60ca60"/><stop offset="0.0308" stop-color="#5ec962"/><stop offset="0.0338" stop-color="#5ec962"/><stop offset="0.0367" stop-color="#5ec962"/><stop offset="0.0427" stop-color="#63cb5f"/><stop offset="0.0467" stop-color="#5ec962"/><stop offset="0.0497" stop-color="#5ec962"/><stop offset="0.0546" stop-color="#60ca60"/><stop offset="0.0556" stop-color="#60ca60"/><stop offset="0.0576" stop-color="#5ec962"/><stop offset="0.0596" stop-color="#5ec962"/><stop offset="0.0616" stop-color="#5ac864"/><stop offset="0.0636" stop-color="#5ac864"/><stop offset="0.0665" stop-color="#5ac864"/><stop offset="0.0705" stop-color="#5ac864"/><stop offset="0.0745" stop-color="#5cc863"/><stop offset="0.0775" stop-color="#5ec962"/><stop offset="0.0844" stop-color="#63cb5f"/><stop offset="0.0943" stop-color="#63cb5f"/><stop offset="0.1341" stop-color="#63cb5f"/><stop offset="0.1658" stop-color="#63cb5f"/><stop offset="0.1738" stop-color="#63cb5f"/><stop offset="0.1817" stop-color="#63cb5f"/><stop offset="0.1897" stop-color="#63cb5f"/><stop offset="0.1936" stop-color="#60ca60"/><stop offset="0.1986" stop-color="#5ec962"/><stop offset="0.2001" stop-color="#37b878"/><stop offset="0.2006" stop-color="#37b878"/><stop offset="0.2036" stop-color="#35b779"/><stop offset="0.2085" stop-color="#34b679"/><stop offset="0.2135" stop-color="#32b67a"/><stop offset="0.2185" stop-color="#31b57b"/><stop offset="0.2234" stop-color="#2fb47c"/><stop offset="0.2284" stop-color="#2eb37c"/><stop offset="0.2314" stop-color="#2eb37c"/><stop offset="0.2344" stop-color="#2db27d"/><stop offset="0.2383" stop-color="#2db27d"/><stop offset="0.2393" stop-color="#2db27d"/><stop offset="0.2433" stop-color="#2cb17e"/><stop offset="0.2453" stop-color="#2cb17e"/><stop offset="0.2483" stop-color="#2ab07f"/><stop offset="0.2502" stop-color="#2cb17e"/><stop offset="0.2532" stop-color="#2cb17e"/><stop offset="0.2582" stop-color="#2db27d"/><stop offset="0.2622" stop-color="#2db27d"/><stop offset="0.2681" stop-color="#3fbc73"/><stop offset="0.2761" stop-color="#3fbc73"/><stop offset="0.2810" stop-color="#37b878"/><stop offset="0.2969" stop-color="#37b878"/><stop offset="0.3009" stop-color="#42be71"/><stop offset="0.3039" stop-color="#3aba76"/><stop offset="0.3178" stop-color="#3aba76"/><stop offset="0.3227" stop-color="#3aba76"/><stop offset="0.3247" stop-color="#3bbb75"/><stop offset="0.3287" stop-color="#3aba76"/><stop offset="0.3406" stop-color="#3aba76"/><stop offset="0.3426" stop-color="#3aba76"/><stop offset="0.3476" stop-color="#3aba76"/><stop offset="0.3575" stop-color="#38b977"/><stop offset="0.3615" stop-color="#37b878"/><stop offset="0.3644" stop-color="#35b779"/><stop offset="0.3823" stop-color="#34b679"/><stop offset="0.3923" stop-color="#34b679"/><stop offset="0.4071" stop-color="#34b679"/><stop offset="0.4171" stop-color="#32b67a"/><stop offset="0.4220" stop-color="#32b67a"/><stop offset="0.4369" stop-color="#31b57b"/><stop offset="0.4568" stop-color="#31b57b"/><stop offset="0.4638" stop-color="#31b57b"/><stop offset="0.4717" stop-color="#31b57b"/><stop offset="0.4767" stop-color="#31b57b"/><stop offset="0.4836" stop-color="#32b67a"/><stop offset="0.4945" stop-color="#34b679"/><stop offset="0.5065" stop-color="#37b878"/><stop offset="0.5114" stop-color="#38b977"/><stop offset="0.5164" stop-color="#3aba76"/><stop offset="0.5293" stop-color="#3aba76"/><stop offset="0.5313" stop-color="#3aba76"/><stop offset="0.5482" stop-color="#3aba76"/><stop offset="0.5561" stop-color="#3aba76"/><stop offset="0.5611" stop-color="#3aba76"/><stop offset="0.5660" stop-color="#3aba76"/><stop offset="0.5710" stop-color="#35b779"/><stop offset="0.5740" stop-color="#34b679"/><stop offset="0.5780" stop-color="#31b57b"/><stop offset="0.5809" stop-color="#2eb37c"/><stop offset="0.5829" stop-color="#2eb37c"/><stop offset="0.5859" stop-color="#2db27d"/><stop offset="0.5958" stop-color="#2ab07f"/><stop offset="0.6008" stop-color="#28ae80"/><stop offset="0.6306" stop-color="#25ac82"/><stop offset="0.6336" stop-color="#25ac82"/><stop offset="0.6703" stop-color="#25ab82"/><stop offset="0.6802" stop-color="#25ab82"/><stop offset="0.6812" stop-color="#25ab82"/><stop offset="0.7001" stop-color="#25ab82"/><stop offset="0.7398" stop-color="#23a983"/><stop offset="0.7617" stop-color="#22a884"/><stop offset="0.7637" stop-color="#22a884"/><stop offset="0.7646" stop-color="#22a884"/><stop offset="0.7825" stop-color="#21a685"/><stop offset="0.8103" stop-color="#20a486"/><stop offset="0.8312" stop-color="#20a386"/><stop offset="0.9414" stop-color="#1fa188"/><stop offset="0.9464" stop-color="#1fa287"/><stop offset="0.9732" stop-color="#1f9f88"/><stop offset="1.0000" stop-color="#1f998a"/></linearGradient><linearGradient id="r17" gradientUnits="userSpaceOnUse" x1="225.0" y1="0" x2="1232.0" y2="0"><stop offset="0.0000" stop-color="#67cc5c"/><stop offset="0.0139" stop-color="#69cd5b"/><stop offset="0.0149" stop-color="#69cd5b"/><stop offset="0.0159" stop-color="#69cd5b"/><stop offset="0.0248" stop-color="#67cc5c"/><stop offset="0.0268" stop-color="#67cc5c"/><stop offset="0.0278" stop-color="#65cb5e"/><stop offset="0.0298" stop-color="#63cb5f"/><stop offset="0.0308" stop-color="#63cb5f"/><stop offset="0.0338" stop-color="#63cb5f"/><stop offset="0.0367" stop-color="#63cb5f"/><stop offset="0.0427" stop-color="#63cb5f"/><stop offset="0.0467" stop-color="#60ca60"/><stop offset="0.0497" stop-color="#63cb5f"/><stop offset="0.0546" stop-color="#63cb5f"/><stop offset="0.0556" stop-color="#63cb5f"/><stop offset="0.0576" stop-color="#60ca60"/><stop offset="0.0596" stop-color="#60ca60"/><stop offset="0.0616" stop-color="#5ec962"/><stop offset="0.0636" stop-color="#5cc863"/><stop offset="0.0665" stop-color="#58c765"/><stop offset="0.0705" stop-color="#5ac864"/><stop offset="0.0745" stop-color="#5cc863"/><stop offset="0.0775" stop-color="#5ec962"/><stop offset="0.0844" stop-color="#63cb5f"/><stop offset="0.0943" stop-color="#63cb5f"/><stop offset="0.1341" stop-color="#63cb5f"/><stop offset="0.1658" stop-color="#63cb5f"/><stop offset="0.1738" stop-color="#63cb5f"/><stop offset="0.1817" stop-color="#63cb5f"/><stop offset="0.1897" stop-color="#63cb5f"/><stop offset="0.1936" stop-color="#60ca60"/><stop offset="0.1986" stop-color="#60ca60"/><stop offset="0.2001" stop-color="#34b679"/><stop offset="0.2006" stop-color="#34b679"/><stop offset="0.2036" stop-color="#34b679"/><stop offset="0.2085" stop-color="#32b67a"/><stop offset="0.2135" stop-color="#31b57b"/><stop offset="0.2185" stop-color="#31b57b"/><stop offset="0.2234" stop-color="#2fb47c"/><stop offset="0.2284" stop-color="#2fb47c"/><stop offset="0.2314" stop-color="#2eb37c"/><stop offset="0.2344" stop-color="#2eb37c"/><stop offset="0.2383" stop-color="#2eb37c"/><stop offset="0.2393" stop-color="#2eb37c"/><stop offset="0.2433" stop-color="#2db27d"/><stop offset="0.2453" stop-color="#2cb17e"/><stop offset="0.2483" stop-color="#2ab07f"/><stop offset="0.2502" stop-color="#2cb17e"/><stop offset="0.2532" stop-color="#2cb17e"/><stop offset="0.2582" stop-color="#2db27d"/><stop offset="0.2622" stop-color="#2db27d"/><stop offset="0.2681" stop-color="#40bd72"/><stop offset="0.2761" stop-color="#40bd72"/><stop offset="0.2810" stop-color="#37b878"/><stop offset="0.2969" stop-color="#37b878"/><stop offset="0.3009" stop-color="#44bf70"/><stop offset="0.3039" stop-color="#3bbb75"/><stop offset="0.3178" stop-color="#3aba76"/><stop offset="0.3227" stop-color="#3aba76"/><stop offset="0.3247" stop-color="#3bbb75"/><stop offset="0.3287" stop-color="#3aba76"/><stop offset="0.3406" stop-color="#3aba76"/><stop offset="0.3426" stop-color="#3aba76"/><stop offset="0.3476" stop-color="#3aba76"/><stop offset="0.3575" stop-color="#38b977"/><stop offset="0.3615" stop-color="#37b878"/><stop offset="0.3644" stop-color="#37b878"/><stop offset="0.3823" stop-color="#35b779"/><stop offset="0.3923" stop-color="#34b679"/><stop offset="0.4071" stop-color="#34b679"/><stop offset="0.4171" stop-color="#34b679"/><stop offset="0.4220" stop-color="#32b67a"/><stop offset="0.4369" stop-color="#32b67a"/><stop offset="0.4568" stop-color="#31b57b"/><stop offset="0.4638" stop-color="#31b57b"/><stop offset="0.4717" stop-color="#31b57b"/><stop offset="0.4767" stop-color="#31b57b"/><stop offset="0.4836" stop-color="#32b67a"/><stop offset="0.4945" stop-color="#34b679"/><stop offset="0.5065" stop-color="#37b878"/><stop offset="0.5114" stop-color="#38b977"/><stop offset="0.5164" stop-color="#3aba76"/><stop offset="0.5293" stop-color="#3aba76"/><stop offset="0.5313" stop-color="#3aba76"/><stop offset="0.5482" stop-color="#3aba76"/><stop offset="0.5561" stop-color="#3aba76"/><stop offset="0.5611" stop-color="#3aba76"/><stop offset="0.5660" stop-color="#3aba76"/><stop offset="0.5710" stop-color="#37b878"/><stop offset="0.5740" stop-color="#34b679"/><stop offset="0.5780" stop-color="#31b57b"/><stop offset="0.5809" stop-color="#2fb47c"/><stop offset="0.5829" stop-color="#2eb37c"/><stop offset="0.5859" stop-color="#2db27d"/><stop offset="0.5958" stop-color="#2ab07f"/><stop offset="0.6008" stop-color="#29af7f"/><stop offset="0.6306" stop-color="#26ad81"/><stop offset="0.6336" stop-color="#25ac82"/><stop offset="0.6703" stop-color="#25ab82"/><stop offset="0.6802" stop-color="#25ab82"/><stop offset="0.6812" stop-color="#25ab82"/><stop offset="0.7001" stop-color="#25ab82"/><stop offset="0.7398" stop-color="#23a983"/><stop offset="0.7617" stop-color="#22a884"/><stop offset="0.7637" stop-color="#22a884"/><stop offset="0.7646" stop-color="#22a884"/><stop offset="0.7825" stop-color="#21a685"/><stop offset="0.8103" stop-color="#20a486"/><stop offset="0.8312" stop-color="#20a386"/><stop offset="0.9414" stop-color="#1fa188"/><stop offset="0.9464" stop-color="#1fa287"/><stop offset="0.9732" stop-color="#1f9f88"/><stop offset="1.0000" stop-color="#1f998a"/></linearGradient><linearGradient id="r18" gradientUnits="userSpaceOnUse" x1="225.0" y1="0" x2="1232.0" y2="0"><stop offset="0.0000" stop-color="#67cc5c"/><stop offset="0.0139" stop-color="#69cd5b"/><stop offset="0.0149" stop-color="#69cd5b"/><stop offset="0.0159" stop-color="#69cd5b"/><stop offset="0.0248" stop-color="#67cc5c"/><stop offset="0.0268" stop-color="#67cc5c"/><stop offset="0.0278" stop-color="#67cc5c"/><stop offset="0.0298" stop-color="#67cc5c"/><stop offset="0.0308" stop-color="#67cc5c"/><stop offset="0.0338" stop-color="#67cc5c"/><stop offset="0.0367" stop-color="#65cb5e"/><stop offset="0.0427" stop-color="#65cb5e"/><stop offset="0.0467" stop-color="#65cb5e"/><stop offset="0.0497" stop-color="#65cb5e"/><stop offset="0.0546" stop-color="#63cb5f"/><stop offset="0.0556" stop-color="#63cb5f"/><stop offset="0.0576" stop-color="#63cb5f"/><stop offset="0.0596" stop-color="#63cb5f"/><stop offset="0.0616" stop-color="#60ca60"/><stop offset="0.0636" stop-color="#5cc863"/><stop offset="0.0665" stop-color="#58c765"/><stop offset="0.0705" stop-color="#5ac864"/><stop offset="0.0745" stop-color="#5cc863"/><stop offset="0.0775" stop-color="#5ec962"/><stop offset="0.0844" stop-color="#63cb5f"/><stop offset="0.0943" stop-color="#63cb5f"/><stop offset="0.1341" stop-color="#63cb5f"/><stop offset="0.1658" stop-color="#63cb5f"/><stop offset="0.1738" stop-color="#63cb5f"/><stop offset="0.1817" stop-color="#63cb5f"/><stop offset="0.1897" stop-color="#63cb5f"/><stop offset="0.1936" stop-color="#63cb5f"/><stop offset="0.1986" stop-color="#63cb5f"/><stop offset="0.2001" stop-color="#32b67a"/><stop offset="0.2006" stop-color="#32b67a"/><stop offset="0.2036" stop-color="#31b57b"/><stop offset="0.2085" stop-color="#31b57b"/><stop offset="0.2135" stop-color="#31b57b"/><stop offset="0.2185" stop-color="#31b57b"/><stop offset="0.2234" stop-color="#2fb47c"/><stop offset="0.2284" stop-color="#2fb47c"/><stop offset="0.2314" stop-color="#2fb47c"/><stop offset="0.2344" stop-color="#2fb47c"/><stop offset="0.2383" stop-color="#2fb47c"/><stop offset="0.2393" stop-color="#2fb47c"/><stop offset="0.2433" stop-color="#2db27d"/><stop offset="0.2453" stop-color="#2db27d"/><stop offset="0.2483" stop-color="#2cb17e"/><stop offset="0.2502" stop-color="#2cb17e"/><stop offset="0.2532" stop-color="#2cb17e"/><stop offset="0.2582" stop-color="#2cb17e"/><stop offset="0.2622" stop-color="#2db27d"/><stop offset="0.2681" stop-color="#44bf70"/><stop offset="0.2761" stop-color="#44bf70"/><stop offset="0.2810" stop-color="#38b977"/><stop offset="0.2969" stop-color="#38b977"/><stop offset="0.3009" stop-color="#46c06f"/><stop offset="0.3039" stop-color="#3dbc74"/><stop offset="0.3178" stop-color="#3bbb75"/><stop offset="0.3227" stop-color="#3bbb75"/><stop offset="0.3247" stop-color="#3bbb75"/><stop offset="0.3287" stop-color="#3aba76"/><stop offset="0.3406" stop-color="#3aba76"/><stop offset="0.3426" stop-color="#3aba76"/><stop offset="0.3476" stop-color="#38b977"/><stop offset="0.3575" stop-color="#38b977"/><stop offset="0.3615" stop-color="#38b977"/><stop offset="0.3644" stop-color="#37b878"/><stop offset="0.3823" stop-color="#35b779"/><stop offset="0.3923" stop-color="#35b779"/><stop offset="0.4071" stop-color="#34b679"/><stop offset="0.4171" stop-color="#34b679"/><stop offset="0.4220" stop-color="#34b679"/><stop offset="0.4369" stop-color="#32b67a"/><stop offset="0.4568" stop-color="#31b57b"/><stop offset="0.4638" stop-color="#31b57b"/><stop offset="0.4717" stop-color="#31b57b"/><stop offset="0.4767" stop-color="#31b57b"/><stop offset="0.4836" stop-color="#32b67a"/><stop offset="0.4945" stop-color="#34b679"/><stop offset="0.5065" stop-color="#38b977"/><stop offset="0.5114" stop-color="#3aba76"/><stop offset="0.5164" stop-color="#3bbb75"/><stop offset="0.5293" stop-color="#3bbb75"/><stop offset="0.5313" stop-color="#3bbb75"/><stop offset="0.5482" stop-color="#3bbb75"/><stop offset="0.5561" stop-color="#3bbb75"/><stop offset="0.5611" stop-color="#3bbb75"/><stop offset="0.5660" stop-color="#3bbb75"/><stop offset="0.5710" stop-color="#37b878"/><stop offset="0.5740" stop-color="#34b679"/><stop offset="0.5780" stop-color="#31b57b"/><stop offset="0.5809" stop-color="#2fb47c"/><stop offset="0.5829" stop-color="#2fb47c"/><stop offset="0.5859" stop-color="#2eb37c"/><stop offset="0.5958" stop-color="#2cb17e"/><stop offset="0.6008" stop-color="#2ab07f"/><stop offset="0.6306" stop-color="#26ad81"/><stop offset="0.6336" stop-color="#25ac82"/><stop offset="0.6703" stop-color="#25ab82"/><stop offset="0.6802" stop-color="#25ab82"/><stop offset="0.6812" stop-color="#25ab82"/><stop offset="0.7001" stop-color="#25ab82"/><stop offset="0.7398" stop-color="#23a983"/><stop offset="0.7617" stop-color="#22a884"/><stop offset="0.7637" stop-color="#22a884"/><stop offset="0.7646" stop-color="#22a884"/><stop offset="0.7825" stop-color="#21a685"/><stop offset="0.8103" stop-color="#20a486"/><stop offset="0.8312" stop-color="#20a386"/><stop offset="0.9414" stop-color="#1fa188"/><stop offset="0.9464" stop-color="#1fa287"/><stop offset="0.9732" stop-color="#1f9f88"/><stop offset="1.0000" stop-color="#1f998a"/></linearGradient><linearGradient id="r19" gradientUnits="userSpaceOnUse" x1="225.0" y1="0" x2="1232.0" y2="0"><stop offset="0.0000" stop-color="#67cc5c"/><stop offset="0.0139" stop-color="#69cd5b"/><stop offset="0.0149" stop-color="#69cd5b"/><stop offset="0.0159" stop-color="#69cd5b"/><stop offset="0.0248" stop-color="#67cc5c"/><stop offset="0.0268" stop-color="#67cc5c"/><stop offset="0.0278" stop-color="#67cc5c"/><stop offset="0.0298" stop-color="#67cc5c"/><stop offset="0.0308" stop-color="#67cc5c"/><stop offset="0.0338" stop-color="#67cc5c"/><stop offset="0.0367" stop-color="#67cc5c"/><stop offset="0.0427" stop-color="#65cb5e"/><stop offset="0.0467" stop-color="#65cb5e"/><stop offset="0.0497" stop-color="#65cb5e"/><stop offset="0.0546" stop-color="#65cb5e"/><stop offset="0.0556" stop-color="#65cb5e"/><stop offset="0.0576" stop-color="#65cb5e"/><stop offset="0.0596" stop-color="#65cb5e"/><stop offset="0.0616" stop-color="#63cb5f"/><stop offset="0.0636" stop-color="#5ec962"/><stop offset="0.0665" stop-color="#5cc863"/><stop offset="0.0705" stop-color="#5ac864"/><stop offset="0.0745" stop-color="#5cc863"/><stop offset="0.0775" stop-color="#5ec962"/><stop offset="0.0844" stop-color="#63cb5f"/><stop offset="0.0943" stop-color="#63cb5f"/><stop offset="0.1341" stop-color="#63cb5f"/><stop offset="0.1658" stop-color="#63cb5f"/><stop offset="0.1738" stop-color="#63cb5f"/><stop offset="0.1817" stop-color="#63cb5f"/><stop offset="0.1897" stop-color="#63cb5f"/><stop offset="0.1936" stop-color="#63cb5f"/><stop offset="0.1986" stop-color="#63cb5f"/><stop offset="0.2001" stop-color="#34b679"/><stop offset="0.2006" stop-color="#32b67a"/><stop offset="0.2036" stop-color="#32b67a"/><stop offset="0.2085" stop-color="#32b67a"/><stop offset="0.2135" stop-color="#32b67a"/><stop offset="0.2185" stop-color="#31b57b"/><stop offset="0.2234" stop-color="#31b57b"/><stop offset="0.2284" stop-color="#31b57b"/><stop offset="0.2314" stop-color="#32b67a"/><stop offset="0.2344" stop-color="#32b67a"/><stop offset="0.2383" stop-color="#34b679"/><stop offset="0.2393" stop-color="#32b67a"/><stop offset="0.2433" stop-color="#32b67a"/><stop offset="0.2453" stop-color="#31b57b"/><stop offset="0.2483" stop-color="#2fb47c"/><stop offset="0.2502" stop-color="#2fb47c"/><stop offset="0.2532" stop-color="#2fb47c"/><stop offset="0.2582" stop-color="#31b57b"/><stop offset="0.2622" stop-color="#31b57b"/><stop offset="0.2681" stop-color="#46c06f"/><stop offset="0.2761" stop-color="#46c06f"/><stop offset="0.2810" stop-color="#3bbb75"/><stop offset="0.2969" stop-color="#3bbb75"/><stop offset="0.3009" stop-color="#48c16e"/><stop offset="0.3039" stop-color="#3fbc73"/><stop offset="0.3178" stop-color="#3fbc73"/><stop offset="0.3227" stop-color="#3fbc73"/><stop offset="0.3247" stop-color="#3dbc74"/><stop offset="0.3287" stop-color="#3bbb75"/><stop offset="0.3406" stop-color="#3aba76"/><stop offset="0.3426" stop-color="#3aba76"/><stop offset="0.3476" stop-color="#3aba76"/><stop offset="0.3575" stop-color="#38b977"/><stop offset="0.3615" stop-color="#38b977"/><stop offset="0.3644" stop-color="#38b977"/><stop offset="0.3823" stop-color="#35b779"/><stop offset="0.3923" stop-color="#35b779"/><stop offset="0.4071" stop-color="#35b779"/><stop offset="0.4171" stop-color="#34b679"/><stop offset="0.4220" stop-color="#32b67a"/><stop offset="0.4369" stop-color="#32b67a"/><stop offset="0.4568" stop-color="#31b57b"/><stop offset="0.4638" stop-color="#31b57b"/><stop offset="0.4717" stop-color="#31b57b"/><stop offset="0.4767" stop-color="#32b67a"/><stop offset="0.4836" stop-color="#34b679"/><stop offset="0.4945" stop-color="#35b779"/><stop offset="0.5065" stop-color="#38b977"/><stop offset="0.5114" stop-color="#3aba76"/><stop offset="0.5164" stop-color="#3bbb75"/><stop offset="0.5293" stop-color="#3bbb75"/><stop offset="0.5313" stop-color="#3bbb75"/><stop offset="0.5482" stop-color="#3aba76"/><stop offset="0.5561" stop-color="#3aba76"/><stop offset="0.5611" stop-color="#3aba76"/><stop offset="0.5660" stop-color="#3aba76"/><stop offset="0.5710" stop-color="#37b878"/><stop offset="0.5740" stop-color="#35b779"/><stop offset="0.5780" stop-color="#32b67a"/><stop offset="0.5809" stop-color="#2fb47c"/><stop offset="0.5829" stop-color="#2fb47c"/><stop offset="0.5859" stop-color="#2eb37c"/><stop offset="0.5958" stop-color="#2cb17e"/><stop offset="0.6008" stop-color="#2ab07f"/><stop offset="0.6306" stop-color="#26ad81"/><stop offset="0.6336" stop-color="#26ad81"/><stop offset="0.6703" stop-color="#25ac82"/><stop offset="0.6802" stop-color="#25ab82"/><stop offset="0.6812" stop-color="#25ab82"/><stop offset="0.7001" stop-color="#25ab82"/><stop offset="0.7398" stop-color="#23a983"/><stop offset="0.7617" stop-color="#22a884"/><stop offset="0.7637" stop-color="#22a884"/><stop offset="0.7646" stop-color="#22a884"/><stop offset="0.7825" stop-color="#21a685"/><stop offset="0.8103" stop-color="#20a486"/><stop offset="0.8312" stop-color="#20a386"/><stop offset="0.9414" stop-color="#1fa188"/><stop offset="0.9464" stop-color="#1fa287"/><stop offset="0.9732" stop-color="#1f9f88"/><stop offset="1.0000" stop-color="#1f998a"/></linearGradient><linearGradient id="r20" gradientUnits="userSpaceOnUse" x1="225.0" y1="0" x2="1232.0" y2="0"><stop offset="0.0000" stop-color="#67cc5c"/><stop offset="0.0139" stop-color="#69cd5b"/><stop offset="0.0149" stop-color="#69cd5b"/><stop offset="0.0159" stop-color="#69cd5b"/><stop offset="0.0248" stop-color="#67cc5c"/><stop offset="0.0268" stop-color="#67cc5c"/><stop offset="0.0278" stop-color="#67cc5c"/><stop offset="0.0298" stop-color="#67cc5c"/><stop offset="0.0308" stop-color="#67cc5c"/><stop offset="0.0338" stop-color="#67cc5c"/><stop offset="0.0367" stop-color="#67cc5c"/><stop offset="0.0427" stop-color="#67cc5c"/><stop offset="0.0467" stop-color="#67cc5c"/><stop offset="0.0497" stop-color="#67cc5c"/><stop offset="0.0546" stop-color="#65cb5e"/><stop offset="0.0556" stop-color="#65cb5e"/><stop offset="0.0576" stop-color="#65cb5e"/><stop offset="0.0596" stop-color="#65cb5e"/><stop offset="0.0616" stop-color="#63cb5f"/><stop offset="0.0636" stop-color="#60ca60"/><stop offset="0.0665" stop-color="#5ec962"/><stop offset="0.0705" stop-color="#5ac864"/><stop offset="0.0745" stop-color="#5cc863"/><stop offset="0.0775" stop-color="#5ec962"/><stop offset="0.0844" stop-color="#63cb5f"/><stop offset="0.0943" stop-color="#63cb5f"/><stop offset="0.1341" stop-color="#63cb5f"/><stop offset="0.1658" stop-color="#63cb5f"/><stop offset="0.1738" stop-color="#63cb5f"/><stop offset="0.1817" stop-color="#63cb5f"/><stop offset="0.1897" stop-color="#63cb5f"/><stop offset="0.1936" stop-color="#63cb5f"/><stop offset="0.1986" stop-color="#63cb5f"/><stop offset="0.2001" stop-color="#35b779"/><stop offset="0.2006" stop-color="#34b679"/><stop offset="0.2036" stop-color="#34b679"/><stop offset="0.2085" stop-color="#34b679"/><stop offset="0.2135" stop-color="#32b67a"/><stop offset="0.2185" stop-color="#32b67a"/><stop offset="0.2234" stop-color="#31b57b"/><stop offset="0.2284" stop-color="#32b67a"/><stop offset="0.2314" stop-color="#34b679"/><stop offset="0.2344" stop-color="#37b878"/><stop offset="0.2383" stop-color="#37b878"/><stop offset="0.2393" stop-color="#37b878"/><stop offset="0.2433" stop-color="#37b878"/><stop offset="0.2453" stop-color="#35b779"/><stop offset="0.2483" stop-color="#34b679"/><stop offset="0.2502" stop-color="#34b679"/><stop offset="0.2532" stop-color="#35b779"/><stop offset="0.2582" stop-color="#35b779"/><stop offset="0.2622" stop-color="#35b779"/><stop offset="0.2681" stop-color="#48c16e"/><stop offset="0.2761" stop-color="#48c16e"/><stop offset="0.2810" stop-color="#3fbc73"/><stop offset="0.2969" stop-color="#3fbc73"/><stop offset="0.3009" stop-color="#4ac16d"/><stop offset="0.3039" stop-color="#42be71"/><stop offset="0.3178" stop-color="#42be71"/><stop offset="0.3227" stop-color="#40bd72"/><stop offset="0.3247" stop-color="#3fbc73"/><stop offset="0.3287" stop-color="#3bbb75"/><stop offset="0.3406" stop-color="#3aba76"/><stop offset="0.3426" stop-color="#3aba76"/><stop offset="0.3476" stop-color="#3aba76"/><stop offset="0.3575" stop-color="#38b977"/><stop offset="0.3615" stop-color="#38b977"/><stop offset="0.3644" stop-color="#38b977"/><stop offset="0.3823" stop-color="#37b878"/><stop offset="0.3923" stop-color="#35b779"/><stop offset="0.4071" stop-color="#35b779"/><stop offset="0.4171" stop-color="#34b679"/><stop offset="0.4220" stop-color="#32b67a"/><stop offset="0.4369" stop-color="#32b67a"/><stop offset="0.4568" stop-color="#31b57b"/><stop offset="0.4638" stop-color="#31b57b"/><stop offset="0.4717" stop-color="#31b57b"/><stop offset="0.4767" stop-color="#32b67a"/><stop offset="0.4836" stop-color="#34b679"/><stop offset="0.4945" stop-color="#37b878"/><stop offset="0.5065" stop-color="#38b977"/><stop offset="0.5114" stop-color="#3aba76"/><stop offset="0.5164" stop-color="#3bbb75"/><stop offset="0.5293" stop-color="#3bbb75"/><stop offset="0.5313" stop-color="#3bbb75"/><stop offset="0.5482" stop-color="#3aba76"/><stop offset="0.5561" stop-color="#3aba76"/><stop offset="0.5611" stop-color="#3aba76"/><stop offset="0.5660" stop-color="#3aba76"/><stop offset="0.5710" stop-color="#37b878"/><stop offset="0.5740" stop-color="#35b779"/><stop offset="0.5780" stop-color="#32b67a"/><stop offset="0.5809" stop-color="#31b57b"/><stop offset="0.5829" stop-color="#2fb47c"/><stop offset="0.5859" stop-color="#2fb47c"/><stop offset="0.5958" stop-color="#2db27d"/><stop offset="0.6008" stop-color="#2cb17e"/><stop offset="0.6306" stop-color="#27ad81"/><stop offset="0.6336" stop-color="#26ad81"/><stop offset="0.6703" stop-color="#25ac82"/><stop offset="0.6802" stop-color="#25ac82"/><stop offset="0.6812" stop-color="#25ab82"/><stop offset="0.7001" stop-color="#25ab82"/><stop offset="0.7398" stop-color="#23a983"/><stop offset="0.7617" stop-color="#23a983"/><stop offset="0.7637" stop-color="#22a884"/><stop offset="0.7646" stop-color="#22a884"/><stop offset="0.7825" stop-color="#21a685"/><stop offset="0.8103" stop-color="#20a486"/><stop offset="0.8312" stop-color="#20a386"/><stop offset="0.9414" stop-color="#1fa188"/><stop offset="0.9464" stop-color="#1fa287"/><stop offset="0.9732" stop-color="#1f9f88"/><stop offset="1.0000" stop-color="#1f998a"/></linearGradient><linearGradient id="r21" gradientUnits="userSpaceOnUse" x1="225.0" y1="0" x2="1232.0" y2="0"><stop offset="0.0000" stop-color="#67cc5c"/><stop offset="0.0139" stop-color="#67cc5c"/><stop offset="0.0149" stop-color="#69cd5b"/><stop offset="0.0159" stop-color="#69cd5b"/><stop offset="0.0248" stop-color="#67cc5c"/><stop offset="0.0268" stop-color="#67cc5c"/><stop offset="0.0278" stop-color="#67cc5c"/><stop offset="0.0298" stop-color="#67cc5c"/><stop offset="0.0308" stop-color="#67cc5c"/><stop offset="0.0338" stop-color="#67cc5c"/><stop offset="0.0367" stop-color="#67cc5c"/><stop offset="0.0427" stop-color="#67cc5c"/><stop offset="0.0467" stop-color="#67cc5c"/><stop offset="0.0497" stop-color="#67cc5c"/><stop offset="0.0546" stop-color="#67cc5c"/><stop offset="0.0556" stop-color="#67cc5c"/><stop offset="0.0576" stop-color="#67cc5c"/><stop offset="0.0596" stop-color="#67cc5c"/><stop offset="0.0616" stop-color="#65cb5e"/><stop offset="0.0636" stop-color="#65cb5e"/><stop offset="0.0665" stop-color="#60ca60"/><stop offset="0.0705" stop-color="#5ac864"/><stop offset="0.0745" stop-color="#5cc863"/><stop offset="0.0775" stop-color="#5ec962"/><stop offset="0.0844" stop-color="#63cb5f"/><stop offset="0.0943" stop-color="#63cb5f"/><stop offset="0.1341" stop-color="#60ca60"/><stop offset="0.1658" stop-color="#60ca60"/><stop offset="0.1738" stop-color="#60ca60"/><stop offset="0.1817" stop-color="#60ca60"/><stop offset="0.1897" stop-color="#60ca60"/><stop offset="0.1936" stop-color="#60ca60"/><stop offset="0.1986" stop-color="#60ca60"/><stop offset="0.2001" stop-color="#37b878"/><stop offset="0.2006" stop-color="#34b679"/><stop offset="0.2036" stop-color="#34b679"/><stop offset="0.2085" stop-color="#34b679"/><stop offset="0.2135" stop-color="#34b679"/><stop offset="0.2185" stop-color="#34b679"/><stop offset="0.2234" stop-color="#31b57b"/><stop offset="0.2284" stop-color="#34b679"/><stop offset="0.2314" stop-color="#37b878"/><stop offset="0.2344" stop-color="#3aba76"/><stop offset="0.2383" stop-color="#3bbb75"/><stop offset="0.2393" stop-color="#3bbb75"/><stop offset="0.2433" stop-color="#3bbb75"/><stop offset="0.2453" stop-color="#3aba76"/><stop offset="0.2483" stop-color="#3aba76"/><stop offset="0.2502" stop-color="#3aba76"/><stop offset="0.2532" stop-color="#3aba76"/><stop offset="0.2582" stop-color="#3aba76"/><stop offset="0.2622" stop-color="#3aba76"/><stop offset="0.2681" stop-color="#4ac16d"/><stop offset="0.2761" stop-color="#4ac16d"/><stop offset="0.2810" stop-color="#42be71"/><stop offset="0.2969" stop-color="#42be71"/><stop offset="0.3009" stop-color="#4cc26c"/><stop offset="0.3039" stop-color="#46c06f"/><stop offset="0.3178" stop-color="#44bf70"/><stop offset="0.3227" stop-color="#44bf70"/><stop offset="0.3247" stop-color="#42be71"/><stop offset="0.3287" stop-color="#3bbb75"/><stop offset="0.3406" stop-color="#3bbb75"/><stop offset="0.3426" stop-color="#3bbb75"/><stop offset="0.3476" stop-color="#3aba76"/><stop offset="0.3575" stop-color="#38b977"/><stop offset="0.3615" stop-color="#38b977"/><stop offset="0.3644" stop-color="#38b977"/><stop offset="0.3823" stop-color="#37b878"/><stop offset="0.3923" stop-color="#37b878"/><stop offset="0.4071" stop-color="#35b779"/><stop offset="0.4171" stop-color="#35b779"/><stop offset="0.4220" stop-color="#32b67a"/><stop offset="0.4369" stop-color="#31b57b"/><stop offset="0.4568" stop-color="#31b57b"/><stop offset="0.4638" stop-color="#31b57b"/><stop offset="0.4717" stop-color="#32b67a"/><stop offset="0.4767" stop-color="#34b679"/><stop offset="0.4836" stop-color="#35b779"/><stop offset="0.4945" stop-color="#37b878"/><stop offset="0.5065" stop-color="#3aba76"/><stop offset="0.5114" stop-color="#3bbb75"/><stop offset="0.5164" stop-color="#3bbb75"/><stop offset="0.5293" stop-color="#3bbb75"/><stop offset="0.5313" stop-color="#3bbb75"/><stop offset="0.5482" stop-color="#3aba76"/><stop offset="0.5561" stop-color="#3aba76"/><stop offset="0.5611" stop-color="#38b977"/><stop offset="0.5660" stop-color="#38b977"/><stop offset="0.5710" stop-color="#37b878"/><stop offset="0.5740" stop-color="#35b779"/><stop offset="0.5780" stop-color="#32b67a"/><stop offset="0.5809" stop-color="#31b57b"/><stop offset="0.5829" stop-color="#31b57b"/><stop offset="0.5859" stop-color="#2fb47c"/><stop offset="0.5958" stop-color="#2db27d"/><stop offset="0.6008" stop-color="#2cb17e"/><stop offset="0.6306" stop-color="#27ad81"/><stop offset="0.6336" stop-color="#27ad81"/><stop offset="0.6703" stop-color="#25ac82"/><stop offset="0.6802" stop-color="#25ac82"/><stop offset="0.6812" stop-color="#25ac82"/><stop offset="0.7001" stop-color="#25ab82"/><stop offset="0.7398" stop-color="#24aa83"/><stop offset="0.7617" stop-color="#23a983"/><stop offset="0.7637" stop-color="#23a983"/><stop offset="0.7646" stop-color="#23a983"/><stop offset="0.7825" stop-color="#21a685"/><stop offset="0.8103" stop-color="#20a486"/><stop offset="0.8312" stop-color="#20a386"/><stop offset="0.9414" stop-color="#1fa188"/><stop offset="0.9464" stop-color="#1fa287"/><stop offset="0.9732" stop-color="#1f9f88"/><stop offset="1.0000" stop-color="#1f998a"/></linearGradient><linearGradient id="r22" gradientUnits="userSpaceOnUse" x1="225.0" y1="0" x2="1232.0" y2="0"><stop offset="0.0000" stop-color="#67cc5c"/><stop offset="0.0139" stop-color="#67cc5c"/><stop offset="0.0149" stop-color="#69cd5b"/><stop offset="0.0159" stop-color="#69cd5b"/><stop offset="0.0248" stop-color="#67cc5c"/><stop offset="0.0268" stop-color="#67cc5c"/><stop offset="0.0278" stop-color="#67cc5c"/><stop offset="0.0298" stop-color="#67cc5c"/><stop offset="0.0308" stop-color="#67cc5c"/><stop offset="0.0338" stop-color="#67cc5c"/><stop offset="0.0367" stop-color="#67cc5c"/><stop offset="0.0427" stop-color="#67cc5c"/><stop offset="0.0467" stop-color="#67cc5c"/><stop offset="0.0497" stop-color="#67cc5c"/><stop offset="0.0546" stop-color="#67cc5c"/><stop offset="0.0556" stop-color="#67cc5c"/><stop offset="0.0576" stop-color="#67cc5c"/><stop offset="0.0596" stop-color="#69cd5b"/><stop offset="0.0616" stop-color="#67cc5c"/><stop offset="0.0636" stop-color="#67cc5c"/><stop offset="0.0665" stop-color="#65cb5e"/><stop offset="0.0705" stop-color="#5ac864"/><stop offset="0.0745" stop-color="#5cc863"/><stop offset="0.0775" stop-color="#5ec962"/><stop offset="0.0844" stop-color="#63cb5f"/><stop offset="0.0943" stop-color="#65cb5e"/><stop offset="0.1341" stop-color="#60ca60"/><stop offset="0.1658" stop-color="#60ca60"/><stop offset="0.1738" stop-color="#60ca60"/><stop offset="0.1817" stop-color="#60ca60"/><stop offset="0.1897" stop-color="#60ca60"/><stop offset="0.1936" stop-color="#60ca60"/><stop offset="0.1986" stop-color="#60ca60"/><stop offset="0.2001" stop-color="#3aba76"/><stop offset="0.2006" stop-color="#35b779"/><stop offset="0.2036" stop-color="#35b779"/><stop offset="0.2085" stop-color="#35b779"/><stop offset="0.2135" stop-color="#35b779"/><stop offset="0.2185" stop-color="#35b779"/><stop offset="0.2234" stop-color="#31b57b"/><stop offset="0.2284" stop-color="#34b679"/><stop offset="0.2314" stop-color="#38b977"/><stop offset="0.2344" stop-color="#3dbc74"/><stop offset="0.2383" stop-color="#3fbc73"/><stop offset="0.2393" stop-color="#3fbc73"/><stop offset="0.2433" stop-color="#40bd72"/><stop offset="0.2453" stop-color="#3fbc73"/><stop offset="0.2483" stop-color="#3fbc73"/><stop offset="0.2502" stop-color="#3fbc73"/><stop offset="0.2532" stop-color="#3fbc73"/><stop offset="0.2582" stop-color="#3fbc73"/><stop offset="0.2622" stop-color="#3fbc73"/><stop offset="0.2681" stop-color="#4cc26c"/><stop offset="0.2761" stop-color="#4cc26c"/><stop offset="0.2810" stop-color="#46c06f"/><stop offset="0.2969" stop-color="#46c06f"/><stop offset="0.3009" stop-color="#4ec36b"/><stop offset="0.3039" stop-color="#48c16e"/><stop offset="0.3178" stop-color="#48c16e"/><stop offset="0.3227" stop-color="#48c16e"/><stop offset="0.3247" stop-color="#44bf70"/><stop offset="0.3287" stop-color="#3dbc74"/><stop offset="0.3406" stop-color="#3bbb75"/><stop offset="0.3426" stop-color="#3bbb75"/><stop offset="0.3476" stop-color="#3aba76"/><stop offset="0.3575" stop-color="#3aba76"/><stop offset="0.3615" stop-color="#38b977"/><stop offset="0.3644" stop-color="#38b977"/><stop offset="0.3823" stop-color="#37b878"/><stop offset="0.3923" stop-color="#37b878"/><stop offset="0.4071" stop-color="#35b779"/><stop offset="0.4171" stop-color="#35b779"/><stop offset="0.4220" stop-color="#32b67a"/><stop offset="0.4369" stop-color="#31b57b"/><stop offset="0.4568" stop-color="#31b57b"/><stop offset="0.4638" stop-color="#2fb47c"/><stop offset="0.4717" stop-color="#32b67a"/><stop offset="0.4767" stop-color="#34b679"/><stop offset="0.4836" stop-color="#35b779"/><stop offset="0.4945" stop-color="#38b977"/><stop offset="0.5065" stop-color="#3aba76"/><stop offset="0.5114" stop-color="#3bbb75"/><stop offset="0.5164" stop-color="#3bbb75"/><stop offset="0.5293" stop-color="#3dbc74"/><stop offset="0.5313" stop-color="#3bbb75"/><stop offset="0.5482" stop-color="#3aba76"/><stop offset="0.5561" stop-color="#38b977"/><stop offset="0.5611" stop-color="#38b977"/><stop offset="0.5660" stop-color="#38b977"/><stop offset="0.5710" stop-color="#35b779"/><stop offset="0.5740" stop-color="#35b779"/><stop offset="0.5780" stop-color="#32b67a"/><stop offset="0.5809" stop-color="#31b57b"/><stop offset="0.5829" stop-color="#31b57b"/><stop offset="0.5859" stop-color="#31b57b"/><stop offset="0.5958" stop-color="#2eb37c"/><stop offset="0.6008" stop-color="#2db27d"/><stop offset="0.6306" stop-color="#27ad81"/><stop offset="0.6336" stop-color="#27ad81"/><stop offset="0.6703" stop-color="#25ac82"/><stop offset="0.6802" stop-color="#25ac82"/><stop offset="0.6812" stop-color="#25ac82"/><stop offset="0.7001" stop-color="#25ab82"/><stop offset="0.7398" stop-color="#24aa83"/><stop offset="0.7617" stop-color="#23a983"/><stop offset="0.7637" stop-color="#23a983"/><stop offset="0.7646" stop-color="#23a983"/><stop offset="0.7825" stop-color="#21a685"/><stop offset="0.8103" stop-color="#20a486"/><stop offset="0.8312" stop-color="#20a386"/><stop offset="0.9414" stop-color="#1fa188"/><stop offset="0.9464" stop-color="#1fa287"/><stop offset="0.9732" stop-color="#1f9f88"/><stop offset="1.0000" stop-color="#1f998a"/></linearGradient><linearGradient id="r23" gradientUnits="userSpaceOnUse" x1="225.0" y1="0" x2="1232.0" y2="0"><stop offset="0.0000" stop-color="#67cc5c"/><stop offset="0.0139" stop-color="#67cc5c"/><stop offset="0.0149" stop-color="#67cc5c"/><stop offset="0.0159" stop-color="#69cd5b"/><stop offset="0.0248" stop-color="#69cd5b"/><stop offset="0.0268" stop-color="#69cd5b"/><stop offset="0.0278" stop-color="#69cd5b"/><stop offset="0.0298" stop-color="#69cd5b"/><stop offset="0.0308" stop-color="#69cd5b"/><stop offset="0.0338" stop-color="#69cd5b"/><stop offset="0.0367" stop-color="#69cd5b"/><stop offset="0.0427" stop-color="#69cd5b"/><stop offset="0.0467" stop-color="#69cd5b"/><stop offset="0.0497" stop-color="#69cd5b"/><stop offset="0.0546" stop-color="#69cd5b"/><stop offset="0.0556" stop-color="#69cd5b"/><stop offset="0.0576" stop-color="#69cd5b"/><stop offset="0.0596" stop-color="#69cd5b"/><stop offset="0.0616" stop-color="#69cd5b"/><stop offset="0.0636" stop-color="#69cd5b"/><stop offset="0.0665" stop-color="#67cc5c"/><stop offset="0.0705" stop-color="#5ac864"/><stop offset="0.0745" stop-color="#5cc863"/><stop offset="0.0775" stop-color="#5ec962"/><stop offset="0.0844" stop-color="#63cb5f"/><stop offset="0.0943" stop-color="#65cb5e"/><stop offset="0.1341" stop-color="#60ca60"/><stop offset="0.1658" stop-color="#60ca60"/><stop offset="0.1738" stop-color="#60ca60"/><stop offset="0.1817" stop-color="#60ca60"/><stop offset="0.1897" stop-color="#60ca60"/><stop offset="0.1936" stop-color="#60ca60"/><stop offset="0.1986" stop-color="#60ca60"/><stop offset="0.2001" stop-color="#3bbb75"/><stop offset="0.2006" stop-color="#35b779"/><stop offset="0.2036" stop-color="#37b878"/><stop offset="0.2085" stop-color="#37b878"/><stop offset="0.2135" stop-color="#37b878"/><stop offset="0.2185" stop-color="#37b878"/><stop offset="0.2234" stop-color="#31b57b"/><stop offset="0.2284" stop-color="#35b779"/><stop offset="0.2314" stop-color="#3bbb75"/><stop offset="0.2344" stop-color="#40bd72"/><stop offset="0.2383" stop-color="#44bf70"/><stop offset="0.2393" stop-color="#44bf70"/><stop offset="0.2433" stop-color="#46c06f"/><stop offset="0.2453" stop-color="#46c06f"/><stop offset="0.2483" stop-color="#44bf70"/><stop offset="0.2502" stop-color="#44bf70"/><stop offset="0.2532" stop-color="#44bf70"/><stop offset="0.2582" stop-color="#44bf70"/><stop offset="0.2622" stop-color="#44bf70"/><stop offset="0.2681" stop-color="#4ec36b"/><stop offset="0.2761" stop-color="#4ec36b"/><stop offset="0.2810" stop-color="#4ac16d"/><stop offset="0.2969" stop-color="#4ac16d"/><stop offset="0.3009" stop-color="#50c46a"/><stop offset="0.3039" stop-color="#4cc26c"/><stop offset="0.3178" stop-color="#4cc26c"/><stop offset="0.3227" stop-color="#4cc26c"/><stop offset="0.3247" stop-color="#46c06f"/><stop offset="0.3287" stop-color="#3dbc74"/><stop offset="0.3406" stop-color="#3bbb75"/><stop offset="0.3426" stop-color="#3bbb75"/><stop offset="0.3476" stop-color="#3bbb75"/><stop offset="0.3575" stop-color="#3aba76"/><stop offset="0.3615" stop-color="#38b977"/><stop offset="0.3644" stop-color="#38b977"/><stop offset="0.3823" stop-color="#37b878"/><stop offset="0.3923" stop-color="#37b878"/><stop offset="0.4071" stop-color="#37b878"/><stop offset="0.4171" stop-color="#35b779"/><stop offset="0.4220" stop-color="#31b57b"/><stop offset="0.4369" stop-color="#31b57b"/><stop offset="0.4568" stop-color="#2fb47c"/><stop offset="0.4638" stop-color="#2fb47c"/><stop offset="0.4717" stop-color="#32b67a"/><stop offset="0.4767" stop-color="#34b679"/><stop offset="0.4836" stop-color="#37b878"/><stop offset="0.4945" stop-color="#3aba76"/><stop offset="0.5065" stop-color="#3bbb75"/><stop offset="0.5114" stop-color="#3bbb75"/><stop offset="0.5164" stop-color="#3dbc74"/><stop offset="0.5293" stop-color="#3dbc74"/><stop offset="0.5313" stop-color="#3bbb75"/><stop offset="0.5482" stop-color="#38b977"/><stop offset="0.5561" stop-color="#38b977"/><stop offset="0.5611" stop-color="#38b977"/><stop offset="0.5660" stop-color="#37b878"/><stop offset="0.5710" stop-color="#35b779"/><stop offset="0.5740" stop-color="#35b779"/><stop offset="0.5780" stop-color="#34b679"/><stop offset="0.5809" stop-color="#32b67a"/><stop offset="0.5829" stop-color="#32b67a"/><stop offset="0.5859" stop-color="#31b57b"/><stop offset="0.5958" stop-color="#2eb37c"/><stop offset="0.6008" stop-color="#2db27d"/><stop offset="0.6306" stop-color="#28ae80"/><stop offset="0.6336" stop-color="#28ae80"/><stop offset="0.6703" stop-color="#26ad81"/><stop offset="0.6802" stop-color="#25ac82"/><stop offset="0.6812" stop-color="#25ac82"/><stop offset="0.7001" stop-color="#25ab82"/><stop offset="0.7398" stop-color="#24aa83"/><stop offset="0.7617" stop-color="#23a983"/><stop offset="0.7637" stop-color="#23a983"/><stop offset="0.7646" stop-color="#23a983"/><stop offset="0.7825" stop-color="#21a685"/><stop offset="0.8103" stop-color="#20a486"/><stop offset="0.8312" stop-color="#20a386"/><stop offset="0.9414" stop-color="#1fa188"/><stop offset="0.9464" stop-color="#1fa287"/><stop offset="0.9732" stop-color="#1f9f88"/><stop offset="1.0000" stop-color="#1f998a"/></linearGradient><linearGradient id="r24" gradientUnits="userSpaceOnUse" x1="225.0" y1="0" x2="1232.0" y2="0"><stop offset="0.0000" stop-color="#67cc5c"/><stop offset="0.0139" stop-color="#67cc5c"/><stop offset="0.0149" stop-color="#67cc5c"/><stop offset="0.0159" stop-color="#67cc5c"/><stop offset="0.0248" stop-color="#69cd5b"/><stop offset="0.0268" stop-color="#69cd5b"/><stop offset="0.0278" stop-color="#69cd5b"/><stop offset="0.0298" stop-color="#69cd5b"/><stop offset="0.0308" stop-color="#69cd5b"/><stop offset="0.0338" stop-color="#69cd5b"/><stop offset="0.0367" stop-color="#69cd5b"/><stop offset="0.0427" stop-color="#69cd5b"/><stop offset="0.0467" stop-color="#69cd5b"/><stop offset="0.0497" stop-color="#69cd5b"/><stop offset="0.0546" stop-color="#69cd5b"/><stop offset="0.0556" stop-color="#69cd5b"/><stop offset="0.0576" stop-color="#6ccd5a"/><stop offset="0.0596" stop-color="#6ccd5a"/><stop offset="0.0616" stop-color="#6ccd5a"/><stop offset="0.0636" stop-color="#6ccd5a"/><stop offset="0.0665" stop-color="#6ccd5a"/><stop offset="0.0705" stop-color="#5ac864"/><stop offset="0.0745" stop-color="#5cc863"/><stop offset="0.0775" stop-color="#5ec962"/><stop offset="0.0844" stop-color="#63cb5f"/><stop offset="0.0943" stop-color="#65cb5e"/><stop offset="0.1341" stop-color="#60ca60"/><stop offset="0.1658" stop-color="#60ca60"/><stop offset="0.1738" stop-color="#60ca60"/><stop offset="0.1817" stop-color="#60ca60"/><stop offset="0.1897" stop-color="#60ca60"/><stop offset="0.1936" stop-color="#60ca60"/><stop offset="0.1986" stop-color="#60ca60"/><stop offset="0.2001" stop-color="#3dbc74"/><stop offset="0.2006" stop-color="#37b878"/><stop offset="0.2036" stop-color="#37b878"/><stop offset="0.2085" stop-color="#37b878"/><stop offset="0.2135" stop-color="#37b878"/><stop offset="0.2185" stop-color="#38b977"/><stop offset="0.2234" stop-color="#31b57b"/><stop offset="0.2284" stop-color="#37b878"/><stop offset="0.2314" stop-color="#3dbc74"/><stop offset="0.2344" stop-color="#46c06f"/><stop offset="0.2383" stop-color="#48c16e"/><stop offset="0.2393" stop-color="#4ac16d"/><stop offset="0.2433" stop-color="#4cc26c"/><stop offset="0.2453" stop-color="#4cc26c"/><stop offset="0.2483" stop-color="#4ac16d"/><stop offset="0.2502" stop-color="#4ac16d"/><stop offset="0.2532" stop-color="#4cc26c"/><stop offset="0.2582" stop-color="#4cc26c"/><stop offset="0.2622" stop-color="#4cc26c"/><stop offset="0.2681" stop-color="#52c569"/><stop offset="0.2761" stop-color="#52c569"/><stop offset="0.2810" stop-color="#4ec36b"/><stop offset="0.2969" stop-color="#4ec36b"/><stop offset="0.3009" stop-color="#52c569"/><stop offset="0.3039" stop-color="#50c46a"/><stop offset="0.3178" stop-color="#50c46a"/><stop offset="0.3227" stop-color="#50c46a"/><stop offset="0.3247" stop-color="#4ac16d"/><stop offset="0.3287" stop-color="#3fbc73"/><stop offset="0.3406" stop-color="#3bbb75"/><stop offset="0.3426" stop-color="#3bbb75"/><stop offset="0.3476" stop-color="#3bbb75"/><stop offset="0.3575" stop-color="#3aba76"/><stop offset="0.3615" stop-color="#38b977"/><stop offset="0.3644" stop-color="#38b977"/><stop offset="0.3823" stop-color="#38b977"/><stop offset="0.3923" stop-color="#37b878"/><stop offset="0.4071" stop-color="#37b878"/><stop offset="0.4171" stop-color="#37b878"/><stop offset="0.4220" stop-color="#31b57b"/><stop offset="0.4369" stop-color="#31b57b"/><stop offset="0.4568" stop-color="#2fb47c"/><stop offset="0.4638" stop-color="#2fb47c"/><stop offset="0.4717" stop-color="#34b679"/><stop offset="0.4767" stop-color="#35b779"/><stop offset="0.4836" stop-color="#37b878"/><stop offset="0.4945" stop-color="#3aba76"/><stop offset="0.5065" stop-color="#3bbb75"/><stop offset="0.5114" stop-color="#3bbb75"/><stop offset="0.5164" stop-color="#3dbc74"/><stop offset="0.5293" stop-color="#3dbc74"/><stop offset="0.5313" stop-color="#3dbc74"/><stop offset="0.5482" stop-color="#38b977"/><stop offset="0.5561" stop-color="#38b977"/><stop offset="0.5611" stop-color="#37b878"/><stop offset="0.5660" stop-color="#37b878"/><stop offset="0.5710" stop-color="#35b779"/><stop offset="0.5740" stop-color="#35b779"/><stop offset="0.5780" stop-color="#34b679"/><stop offset="0.5809" stop-color="#32b67a"/><stop offset="0.5829" stop-color="#32b67a"/><stop offset="0.5859" stop-color="#31b57b"/><stop offset="0.5958" stop-color="#2fb47c"/><stop offset="0.6008" stop-color="#2eb37c"/><stop offset="0.6306" stop-color="#28ae80"/><stop offset="0.6336" stop-color="#28ae80"/><stop offset="0.6703" stop-color="#26ad81"/><stop offset="0.6802" stop-color="#25ac82"/><stop offset="0.6812" stop-color="#25ac82"/><stop offset="0.7001" stop-color="#25ac82"/><stop offset="0.7398" stop-color="#24aa83"/><stop offset="0.7617" stop-color="#23a983"/><stop offset="0.7637" stop-color="#23a983"/><stop offset="0.7646" stop-color="#23a983"/><stop offset="0.7825" stop-color="#21a685"/><stop offset="0.8103" stop-color="#20a486"/><stop offset="0.8312" stop-color="#20a386"/><stop offset="0.9414" stop-color="#1fa188"/><stop offset="0.9464" stop-color="#1fa287"/><stop offset="0.9732" stop-color="#1f9f88"/><stop offset="1.0000" stop-color="#1f998a"/></linearGradient><linearGradient id="r25" gradientUnits="userSpaceOnUse" x1="225.0" y1="0" x2="1232.0" y2="0"><stop offset="0.0000" stop-color="#67cc5c"/><stop offset="0.0139" stop-color="#67cc5c"/><stop offset="0.0149" stop-color="#67cc5c"/><stop offset="0.0159" stop-color="#67cc5c"/><stop offset="0.0248" stop-color="#69cd5b"/><stop offset="0.0268" stop-color="#69cd5b"/><stop offset="0.0278" stop-color="#69cd5b"/><stop offset="0.0298" stop-color="#69cd5b"/><stop offset="0.0308" stop-color="#69cd5b"/><stop offset="0.0338" stop-color="#69cd5b"/><stop offset="0.0367" stop-color="#69cd5b"/><stop offset="0.0427" stop-color="#6ccd5a"/><stop offset="0.0467" stop-color="#6ccd5a"/><stop offset="0.0497" stop-color="#6ccd5a"/><stop offset="0.0546" stop-color="#6ccd5a"/><stop offset="0.0556" stop-color="#6ccd5a"/><stop offset="0.0576" stop-color="#6ccd5a"/><stop offset="0.0596" stop-color="#6ccd5a"/><stop offset="0.0616" stop-color="#6ece58"/><stop offset="0.0636" stop-color="#6ece58"/><stop offset="0.0665" stop-color="#6ece58"/><stop offset="0.0705" stop-color="#5cc863"/><stop offset="0.0745" stop-color="#5ec962"/><stop offset="0.0775" stop-color="#5ec962"/><stop offset="0.0844" stop-color="#60ca60"/><stop offset="0.0943" stop-color="#65cb5e"/><stop offset="0.1341" stop-color="#5ec962"/><stop offset="0.1658" stop-color="#5ec962"/><stop offset="0.1738" stop-color="#5ec962"/><stop offset="0.1817" stop-color="#5ec962"/><stop offset="0.1897" stop-color="#5ec962"/><stop offset="0.1936" stop-color="#5ec962"/><stop offset="0.1986" stop-color="#5ec962"/><stop offset="0.2001" stop-color="#3fbc73"/><stop offset="0.2006" stop-color="#38b977"/><stop offset="0.2036" stop-color="#38b977"/><stop offset="0.2085" stop-color="#38b977"/><stop offset="0.2135" stop-color="#38b977"/><stop offset="0.2185" stop-color="#38b977"/><stop offset="0.2234" stop-color="#32b67a"/><stop offset="0.2284" stop-color="#38b977"/><stop offset="0.2314" stop-color="#40bd72"/><stop offset="0.2344" stop-color="#4ac16d"/><stop offset="0.2383" stop-color="#4ec36b"/><stop offset="0.2393" stop-color="#4ec36b"/><stop offset="0.2433" stop-color="#52c569"/><stop offset="0.2453" stop-color="#52c569"/><stop offset="0.2483" stop-color="#52c569"/><stop offset="0.2502" stop-color="#52c569"/><stop offset="0.2532" stop-color="#52c569"/><stop offset="0.2582" stop-color="#52c569"/><stop offset="0.2622" stop-color="#52c569"/><stop offset="0.2681" stop-color="#54c568"/><stop offset="0.2761" stop-color="#54c568"/><stop offset="0.2810" stop-color="#52c569"/><stop offset="0.2969" stop-color="#52c569"/><stop offset="0.3009" stop-color="#54c568"/><stop offset="0.3039" stop-color="#52c569"/><stop offset="0.3178" stop-color="#52c569"/><stop offset="0.3227" stop-color="#52c569"/><stop offset="0.3247" stop-color="#4cc26c"/><stop offset="0.3287" stop-color="#3fbc73"/><stop offset="0.3406" stop-color="#3dbc74"/><stop offset="0.3426" stop-color="#3dbc74"/><stop offset="0.3476" stop-color="#3bbb75"/><stop offset="0.3575" stop-color="#3aba76"/><stop offset="0.3615" stop-color="#3aba76"/><stop offset="0.3644" stop-color="#3aba76"/><stop offset="0.3823" stop-color="#38b977"/><stop offset="0.3923" stop-color="#38b977"/><stop offset="0.4071" stop-color="#37b878"/><stop offset="0.4171" stop-color="#37b878"/><stop offset="0.4220" stop-color="#31b57b"/><stop offset="0.4369" stop-color="#31b57b"/><stop offset="0.4568" stop-color="#2fb47c"/><stop offset="0.4638" stop-color="#2fb47c"/><stop offset="0.4717" stop-color="#34b679"/><stop offset="0.4767" stop-color="#35b779"/><stop offset="0.4836" stop-color="#38b977"/><stop offset="0.4945" stop-color="#3bbb75"/><stop offset="0.5065" stop-color="#3dbc74"/><stop offset="0.5114" stop-color="#3dbc74"/><stop offset="0.5164" stop-color="#3dbc74"/><stop offset="0.5293" stop-color="#3dbc74"/><stop offset="0.5313" stop-color="#3dbc74"/><stop offset="0.5482" stop-color="#38b977"/><stop offset="0.5561" stop-color="#37b878"/><stop offset="0.5611" stop-color="#37b878"/><stop offset="0.5660" stop-color="#37b878"/><stop offset="0.5710" stop-color="#35b779"/><stop offset="0.5740" stop-color="#35b779"/><stop offset="0.5780" stop-color="#34b679"/><stop offset="0.5809" stop-color="#34b679"/><stop offset="0.5829" stop-color="#32b67a"/><stop offset="0.5859" stop-color="#32b67a"/><stop offset="0.5958" stop-color="#2fb47c"/><stop offset="0.6008" stop-color="#2eb37c"/><stop offset="0.6306" stop-color="#29af7f"/><stop offset="0.6336" stop-color="#28ae80"/><stop offset="0.6703" stop-color="#26ad81"/><stop offset="0.6802" stop-color="#25ac82"/><stop offset="0.6812" stop-color="#25ac82"/><stop offset="0.7001" stop-color="#25ac82"/><stop offset="0.7398" stop-color="#24aa83"/><stop offset="0.7617" stop-color="#24aa83"/><stop offset="0.7637" stop-color="#23a983"/><stop offset="0.7646" stop-color="#23a983"/><stop offset="0.7825" stop-color="#21a685"/><stop offset="0.8103" stop-color="#20a486"/><stop offset="0.8312" stop-color="#20a386"/><stop offset="0.9414" stop-color="#1fa188"/><stop offset="0.9464" stop-color="#1fa287"/><stop offset="0.9732" stop-color="#1f9f88"/><stop offset="1.0000" stop-color="#1f998a"/></linearGradient><linearGradient id="r26" gradientUnits="userSpaceOnUse" x1="225.0" y1="0" x2="1232.0" y2="0"><stop offset="0.0000" stop-color="#67cc5c"/><stop offset="0.0139" stop-color="#67cc5c"/><stop offset="0.0149" stop-color="#67cc5c"/><stop offset="0.0159" stop-color="#67cc5c"/><stop offset="0.0248" stop-color="#69cd5b"/><stop offset="0.0268" stop-color="#69cd5b"/><stop offset="0.0278" stop-color="#69cd5b"/><stop offset="0.0298" stop-color="#69cd5b"/><stop offset="0.0308" stop-color="#69cd5b"/><stop offset="0.0338" stop-color="#69cd5b"/><stop offset="0.0367" stop-color="#69cd5b"/><stop offset="0.0427" stop-color="#6ccd5a"/><stop offset="0.0467" stop-color="#6ccd5a"/><stop offset="0.0497" stop-color="#6ccd5a"/><stop offset="0.0546" stop-color="#6ccd5a"/><stop offset="0.0556" stop-color="#6ccd5a"/><stop offset="0.0576" stop-color="#6ccd5a"/><stop offset="0.0596" stop-color="#6ece58"/><stop offset="0.0616" stop-color="#6ece58"/><stop offset="0.0636" stop-color="#6ece58"/><stop offset="0.0665" stop-color="#70cf57"/><stop offset="0.0705" stop-color="#5cc863"/><stop offset="0.0745" stop-color="#5ec962"/><stop offset="0.0775" stop-color="#5ec962"/><stop offset="0.0844" stop-color="#60ca60"/><stop offset="0.0943" stop-color="#65cb5e"/><stop offset="0.1341" stop-color="#5ec962"/><stop offset="0.1658" stop-color="#5ec962"/><stop offset="0.1738" stop-color="#5ec962"/><stop offset="0.1817" stop-color="#5ec962"/><stop offset="0.1897" stop-color="#5ec962"/><stop offset="0.1936" stop-color="#5ec962"/><stop offset="0.1986" stop-color="#5ec962"/><stop offset="0.2001" stop-color="#40bd72"/><stop offset="0.2006" stop-color="#38b977"/><stop offset="0.2036" stop-color="#38b977"/><stop offset="0.2085" stop-color="#38b977"/><stop offset="0.2135" stop-color="#38b977"/><stop offset="0.2185" stop-color="#3aba76"/><stop offset="0.2234" stop-color="#32b67a"/><stop offset="0.2284" stop-color="#38b977"/><stop offset="0.2314" stop-color="#40bd72"/><stop offset="0.2344" stop-color="#4cc26c"/><stop offset="0.2383" stop-color="#50c46a"/><stop offset="0.2393" stop-color="#50c46a"/><stop offset="0.2433" stop-color="#54c568"/><stop offset="0.2453" stop-color="#54c568"/><stop offset="0.2483" stop-color="#54c568"/><stop offset="0.2502" stop-color="#54c568"/><stop offset="0.2532" stop-color="#54c568"/><stop offset="0.2582" stop-color="#54c568"/><stop offset="0.2622" stop-color="#54c568"/><stop offset="0.2681" stop-color="#54c568"/><stop offset="0.2761" stop-color="#54c568"/><stop offset="0.2810" stop-color="#54c568"/><stop offset="0.2969" stop-color="#54c568"/><stop offset="0.3009" stop-color="#54c568"/><stop offset="0.3039" stop-color="#54c568"/><stop offset="0.3178" stop-color="#54c568"/><stop offset="0.3227" stop-color="#54c568"/><stop offset="0.3247" stop-color="#4ec36b"/><stop offset="0.3287" stop-color="#3fbc73"/><stop offset="0.3406" stop-color="#3dbc74"/><stop offset="0.3426" stop-color="#3dbc74"/><stop offset="0.3476" stop-color="#3bbb75"/><stop offset="0.3575" stop-color="#3aba76"/><stop offset="0.3615" stop-color="#3aba76"/><stop offset="0.3644" stop-color="#3aba76"/><stop offset="0.3823" stop-color="#38b977"/><stop offset="0.3923" stop-color="#38b977"/><stop offset="0.4071" stop-color="#37b878"/><stop offset="0.4171" stop-color="#37b878"/><stop offset="0.4220" stop-color="#31b57b"/><stop offset="0.4369" stop-color="#2fb47c"/><stop offset="0.4568" stop-color="#2fb47c"/><stop offset="0.4638" stop-color="#2fb47c"/><stop offset="0.4717" stop-color="#34b679"/><stop offset="0.4767" stop-color="#35b779"/><stop offset="0.4836" stop-color="#38b977"/><stop offset="0.4945" stop-color="#3bbb75"/><stop offset="0.5065" stop-color="#3dbc74"/><stop offset="0.5114" stop-color="#3dbc74"/><stop offset="0.5164" stop-color="#3dbc74"/><stop offset="0.5293" stop-color="#3dbc74"/><stop offset="0.5313" stop-color="#3dbc74"/><stop offset="0.5482" stop-color="#38b977"/><stop offset="0.5561" stop-color="#37b878"/><stop offset="0.5611" stop-color="#37b878"/><stop offset="0.5660" stop-color="#35b779"/><stop offset="0.5710" stop-color="#35b779"/><stop offset="0.5740" stop-color="#35b779"/><stop offset="0.5780" stop-color="#34b679"/><stop offset="0.5809" stop-color="#34b679"/><stop offset="0.5829" stop-color="#34b679"/><stop offset="0.5859" stop-color="#32b67a"/><stop offset="0.5958" stop-color="#2fb47c"/><stop offset="0.6008" stop-color="#2fb47c"/><stop offset="0.6306" stop-color="#29af7f"/><stop offset="0.6336" stop-color="#29af7f"/><stop offset="0.6703" stop-color="#26ad81"/><stop offset="0.6802" stop-color="#25ac82"/><stop offset="0.6812" stop-color="#25ac82"/><stop offset="0.7001" stop-color="#25ac82"/><stop offset="0.7398" stop-color="#24aa83"/><stop offset="0.7617" stop-color="#24aa83"/><stop offset="0.7637" stop-color="#23a983"/><stop offset="0.7646" stop-color="#23a983"/><stop offset="0.7825" stop-color="#21a685"/><stop offset="0.8103" stop-color="#20a486"/><stop offset="0.8312" stop-color="#20a386"/><stop offset="0.9414" stop-color="#1fa188"/><stop offset="0.9464" stop-color="#1fa287"/><stop offset="0.9732" stop-color="#1f9f88"/><stop offset="1.0000" stop-color="#1f998a"/></linearGradient><linearGradient id="r27" gradientUnits="userSpaceOnUse" x1="225.0" y1="0" x2="1232.0" y2="0"><stop offset="0.0000" stop-color="#67cc5c"/><stop offset="0.0139" stop-color="#67cc5c"/><stop offset="0.0149" stop-color="#67cc5c"/><stop offset="0.0159" stop-color="#67cc5c"/><stop offset="0.0248" stop-color="#69cd5b"/><stop offset="0.0268" stop-color="#69cd5b"/><stop offset="0.0278" stop-color="#69cd5b"/><stop offset="0.0298" stop-color="#69cd5b"/><stop offset="0.0308" stop-color="#69cd5b"/><stop offset="0.0338" stop-color="#69cd5b"/><stop offset="0.0367" stop-color="#69cd5b"/><stop offset="0.0427" stop-color="#6ccd5a"/><stop offset="0.0467" stop-color="#6ccd5a"/><stop offset="0.0497" stop-color="#6ccd5a"/><stop offset="0.0546" stop-color="#6ccd5a"/><stop offset="0.0556" stop-color="#6ccd5a"/><stop offset="0.0576" stop-color="#6ccd5a"/><stop offset="0.0596" stop-color="#6ece58"/><stop offset="0.0616" stop-color="#6ece58"/><stop offset="0.0636" stop-color="#6ece58"/><stop offset="0.0665" stop-color="#70cf57"/><stop offset="0.0705" stop-color="#5cc863"/><stop offset="0.0745" stop-color="#5ec962"/><stop offset="0.0775" stop-color="#5ec962"/><stop offset="0.0844" stop-color="#60ca60"/><stop offset="0.0943" stop-color="#65cb5e"/><stop offset="0.1341" stop-color="#5ec962"/><stop offset="0.1658" stop-color="#5ec962"/><stop offset="0.1738" stop-color="#5ec962"/><stop offset="0.1817" stop-color="#5ec962"/><stop offset="0.1897" stop-color="#5ec962"/><stop offset="0.1936" stop-color="#5ec962"/><stop offset="0.1986" stop-color="#5ec962"/><stop offset="0.2001" stop-color="#40bd72"/><stop offset="0.2006" stop-color="#38b977"/><stop offset="0.2036" stop-color="#38b977"/><stop offset="0.2085" stop-color="#38b977"/><stop offset="0.2135" stop-color="#38b977"/><stop offset="0.2185" stop-color="#3aba76"/><stop offset="0.2234" stop-color="#32b67a"/><stop offset="0.2284" stop-color="#38b977"/><stop offset="0.2314" stop-color="#40bd72"/><stop offset="0.2344" stop-color="#4cc26c"/><stop offset="0.2383" stop-color="#50c46a"/><stop offset="0.2393" stop-color="#50c46a"/><stop offset="0.2433" stop-color="#54c568"/><stop offset="0.2453" stop-color="#54c568"/><stop offset="0.2483" stop-color="#54c568"/><stop offset="0.2502" stop-color="#54c568"/><stop offset="0.2532" stop-color="#54c568"/><stop offset="0.2582" stop-color="#54c568"/><stop offset="0.2622" stop-color="#54c568"/><stop offset="0.2681" stop-color="#54c568"/><stop offset="0.2761" stop-color="#54c568"/><stop offset="0.2810" stop-color="#54c568"/><stop offset="0.2969" stop-color="#54c568"/><stop offset="0.3009" stop-color="#54c568"/><stop offset="0.3039" stop-color="#54c568"/><stop offset="0.3178" stop-color="#54c568"/><stop offset="0.3227" stop-color="#54c568"/><stop offset="0.3247" stop-color="#4ec36b"/><stop offset="0.3287" stop-color="#3fbc73"/><stop offset="0.3406" stop-color="#3dbc74"/><stop offset="0.3426" stop-color="#3dbc74"/><stop offset="0.3476" stop-color="#3bbb75"/><stop offset="0.3575" stop-color="#3aba76"/><stop offset="0.3615" stop-color="#3aba76"/><stop offset="0.3644" stop-color="#3aba76"/><stop offset="0.3823" stop-color="#38b977"/><stop offset="0.3923" stop-color="#38b977"/><stop offset="0.4071" stop-color="#37b878"/><stop offset="0.4171" stop-color="#37b878"/><stop offset="0.4220" stop-color="#31b57b"/><stop offset="0.4369" stop-color="#2fb47c"/><stop offset="0.4568" stop-color="#2fb47c"/><stop offset="0.4638" stop-color="#2fb47c"/><stop offset="0.4717" stop-color="#34b679"/><stop offset="0.4767" stop-color="#35b779"/><stop offset="0.4836" stop-color="#38b977"/><stop offset="0.4945" stop-color="#3bbb75"/><stop offset="0.5065" stop-color="#3dbc74"/><stop offset="0.5114" stop-color="#3dbc74"/><stop offset="0.5164" stop-color="#3dbc74"/><stop offset="0.5293" stop-color="#3dbc74"/><stop offset="0.5313" stop-color="#3dbc74"/><stop offset="0.5482" stop-color="#38b977"/><stop offset="0.5561" stop-color="#37b878"/><stop offset="0.5611" stop-color="#37b878"/><stop offset="0.5660" stop-color="#35b779"/><stop offset="0.5710" stop-color="#35b779"/><stop offset="0.5740" stop-color="#35b779"/><stop offset="0.5780" stop-color="#34b679"/><stop offset="0.5809" stop-color="#34b679"/><stop offset="0.5829" stop-color="#34b679"/><stop offset="0.5859" stop-color="#32b67a"/><stop offset="0.5958" stop-color="#2fb47c"/><stop offset="0.6008" stop-color="#2fb47c"/><stop offset="0.6306" stop-color="#29af7f"/><stop offset="0.6336" stop-color="#29af7f"/><stop offset="0.6703" stop-color="#26ad81"/><stop offset="0.6802" stop-color="#25ac82"/><stop offset="0.6812" stop-color="#25ac82"/><stop offset="0.7001" stop-color="#25ac82"/><stop offset="0.7398" stop-color="#24aa83"/><stop offset="0.7617" stop-color="#24aa83"/><stop offset="0.7637" stop-color="#23a983"/><stop offset="0.7646" stop-color="#23a983"/><stop offset="0.7825" stop-color="#21a685"/><stop offset="0.8103" stop-color="#20a486"/><stop offset="0.8312" stop-color="#20a386"/><stop offset="0.9414" stop-color="#1fa188"/><stop offset="0.9464" stop-color="#1fa287"/><stop offset="0.9732" stop-color="#1f9f88"/><stop offset="1.0000" stop-color="#1f998a"/></linearGradient><linearGradient id="r28" gradientUnits="userSpaceOnUse" x1="225.0" y1="0" x2="1232.0" y2="0"><stop offset="0.0000" stop-color="#67cc5c"/><stop offset="0.0139" stop-color="#67cc5c"/><stop offset="0.0149" stop-color="#67cc5c"/><stop offset="0.0159" stop-color="#67cc5c"/><stop offset="0.0248" stop-color="#69cd5b"/><stop offset="0.0268" stop-color="#69cd5b"/><stop offset="0.0278" stop-color="#69cd5b"/><stop offset="0.0298" stop-color="#69cd5b"/><stop offset="0.0308" stop-color="#69cd5b"/><stop offset="0.0338" stop-color="#69cd5b"/><stop offset="0.0367" stop-color="#69cd5b"/><stop offset="0.0427" stop-color="#6ccd5a"/><stop offset="0.0467" stop-color="#6ccd5a"/><stop offset="0.0497" stop-color="#6ccd5a"/><stop offset="0.0546" stop-color="#6ccd5a"/><stop offset="0.0556" stop-color="#6ccd5a"/><stop offset="0.0576" stop-color="#6ccd5a"/><stop offset="0.0596" stop-color="#6ece58"/><stop offset="0.0616" stop-color="#6ece58"/><stop offset="0.0636" stop-color="#6ece58"/><stop offset="0.0665" stop-color="#70cf57"/><stop offset="0.0705" stop-color="#5cc863"/><stop offset="0.0745" stop-color="#5ec962"/><stop offset="0.0775" stop-color="#5ec962"/><stop offset="0.0844" stop-color="#60ca60"/><stop offset="0.0943" stop-color="#65cb5e"/><stop offset="0.1341" stop-color="#5ec962"/><stop offset="0.1658" stop-color="#5ec962"/><stop offset="0.1738" stop-color="#5ec962"/><stop offset="0.1817" stop-color="#5ec962"/><stop offset="0.1897" stop-color="#5ec962"/><stop offset="0.1936" stop-color="#5ec962"/><stop offset="0.1986" stop-color="#5ec962"/><stop offset="0.2001" stop-color="#40bd72"/><stop offset="0.2006" stop-color="#38b977"/><stop offset="0.2036" stop-color="#38b977"/><stop offset="0.2085" stop-color="#38b977"/><stop offset="0.2135" stop-color="#38b977"/><stop offset="0.2185" stop-color="#3aba76"/><stop offset="0.2234" stop-color="#32b67a"/><stop offset="0.2284" stop-color="#38b977"/><stop offset="0.2314" stop-color="#40bd72"/><stop offset="0.2344" stop-color="#4cc26c"/><stop offset="0.2383" stop-color="#50c46a"/><stop offset="0.2393" stop-color="#50c46a"/><stop offset="0.2433" stop-color="#54c568"/><stop offset="0.2453" stop-color="#54c568"/><stop offset="0.2483" stop-color="#54c568"/><stop offset="0.2502" stop-color="#54c568"/><stop offset="0.2532" stop-color="#54c568"/><stop offset="0.2582" stop-color="#54c568"/><stop offset="0.2622" stop-color="#54c568"/><stop offset="0.2681" stop-color="#54c568"/><stop offset="0.2761" stop-color="#54c568"/><stop offset="0.2810" stop-color="#54c568"/><stop offset="0.2969" stop-color="#54c568"/><stop offset="0.3009" stop-color="#54c568"/><stop offset="0.3039" stop-color="#54c568"/><stop offset="0.3178" stop-color="#54c568"/><stop offset="0.3227" stop-color="#54c568"/><stop offset="0.3247" stop-color="#4ec36b"/><stop offset="0.3287" stop-color="#3fbc73"/><stop offset="0.3406" stop-color="#3dbc74"/><stop offset="0.3426" stop-color="#3dbc74"/><stop offset="0.3476" stop-color="#3bbb75"/><stop offset="0.3575" stop-color="#3aba76"/><stop offset="0.3615" stop-color="#3aba76"/><stop offset="0.3644" stop-color="#3aba76"/><stop offset="0.3823" stop-color="#38b977"/><stop offset="0.3923" stop-color="#38b977"/><stop offset="0.4071" stop-color="#37b878"/><stop offset="0.4171" stop-color="#37b878"/><stop offset="0.4220" stop-color="#31b57b"/><stop offset="0.4369" stop-color="#2fb47c"/><stop offset="0.4568" stop-color="#2fb47c"/><stop offset="0.4638" stop-color="#2fb47c"/><stop offset="0.4717" stop-color="#34b679"/><stop offset="0.4767" stop-color="#35b779"/><stop offset="0.4836" stop-color="#38b977"/><stop offset="0.4945" stop-color="#3bbb75"/><stop offset="0.5065" stop-color="#3dbc74"/><stop offset="0.5114" stop-color="#3dbc74"/><stop offset="0.5164" stop-color="#3dbc74"/><stop offset="0.5293" stop-color="#3dbc74"/><stop offset="0.5313" stop-color="#3dbc74"/><stop offset="0.5482" stop-color="#38b977"/><stop offset="0.5561" stop-color="#37b878"/><stop offset="0.5611" stop-color="#37b878"/><stop offset="0.5660" stop-color="#35b779"/><stop offset="0.5710" stop-color="#35b779"/><stop offset="0.5740" stop-color="#35b779"/><stop offset="0.5780" stop-color="#34b679"/><stop offset="0.5809" stop-color="#34b679"/><stop offset="0.5829" stop-color="#34b679"/><stop offset="0.5859" stop-color="#32b67a"/><stop offset="0.5958" stop-color="#2fb47c"/><stop offset="0.6008" stop-color="#2fb47c"/><stop offset="0.6306" stop-color="#29af7f"/><stop offset="0.6336" stop-color="#29af7f"/><stop offset="0.6703" stop-color="#26ad81"/><stop offset="0.6802" stop-color="#25ac82"/><stop offset="0.6812" stop-color="#25ac82"/><stop offset="0.7001" stop-color="#25ac82"/><stop offset="0.7398" stop-color="#24aa83"/><stop offset="0.7617" stop-color="#24aa83"/><stop offset="0.7637" stop-color="#23a983"/><stop offset="0.7646" stop-color="#23a983"/><stop offset="0.7825" stop-color="#21a685"/><stop offset="0.8103" stop-color="#20a486"/><stop offset="0.8312" stop-color="#20a386"/><stop offset="0.9414" stop-color="#1fa188"/><stop offset="0.9464" stop-color="#1fa287"/><stop offset="0.9732" stop-color="#1f9f88"/><stop offset="1.0000" stop-color="#1f998a"/></linearGradient><linearGradient id="r29" gradientUnits="userSpaceOnUse" x1="225.0" y1="0" x2="1232.0" y2="0"><stop offset="0.0000" stop-color="#67cc5c"/><stop offset="0.0139" stop-color="#67cc5c"/><stop offset="0.0149" stop-color="#67cc5c"/><stop offset="0.0159" stop-color="#67cc5c"/><stop offset="0.0248" stop-color="#69cd5b"/><stop offset="0.0268" stop-color="#69cd5b"/><stop offset="0.0278" stop-color="#69cd5b"/><stop offset="0.0298" stop-color="#69cd5b"/><stop offset="0.0308" stop-color="#69cd5b"/><stop offset="0.0338" stop-color="#69cd5b"/><stop offset="0.0367" stop-color="#69cd5b"/><stop offset="0.0427" stop-color="#6ccd5a"/><stop offset="0.0467" stop-color="#6ccd5a"/><stop offset="0.0497" stop-color="#6ccd5a"/><stop offset="0.0546" stop-color="#6ccd5a"/><stop offset="0.0556" stop-color="#6ccd5a"/><stop offset="0.0576" stop-color="#6ccd5a"/><stop offset="0.0596" stop-color="#6ece58"/><stop offset="0.0616" stop-color="#6ece58"/><stop offset="0.0636" stop-color="#6ece58"/><stop offset="0.0665" stop-color="#70cf57"/><stop offset="0.0705" stop-color="#5cc863"/><stop offset="0.0745" stop-color="#5ec962"/><stop offset="0.0775" stop-color="#5ec962"/><stop offset="0.0844" stop-color="#60ca60"/><stop offset="0.0943" stop-color="#65cb5e"/><stop offset="0.1341" stop-color="#5ec962"/><stop offset="0.1658" stop-color="#5ec962"/><stop offset="0.1738" stop-color="#5ec962"/><stop offset="0.1817" stop-color="#5ec962"/><stop offset="0.1897" stop-color="#5ec962"/><stop offset="0.1936" stop-color="#5ec962"/><stop offset="0.1986" stop-color="#5ec962"/><stop offset="0.2001" stop-color="#40bd72"/><stop offset="0.2006" stop-color="#38b977"/><stop offset="0.2036" stop-color="#38b977"/><stop offset="0.2085" stop-color="#38b977"/><stop offset="0.2135" stop-color="#38b977"/><stop offset="0.2185" stop-color="#3aba76"/><stop offset="0.2234" stop-color="#32b67a"/><stop offset="0.2284" stop-color="#38b977"/><stop offset="0.2314" stop-color="#40bd72"/><stop offset="0.2344" stop-color="#4cc26c"/><stop offset="0.2383" stop-color="#50c46a"/><stop offset="0.2393" stop-color="#50c46a"/><stop offset="0.2433" stop-color="#54c568"/><stop offset="0.2453" stop-color="#54c568"/><stop offset="0.2483" stop-color="#54c568"/><stop offset="0.2502" stop-color="#54c568"/><stop offset="0.2532" stop-color="#54c568"/><stop offset="0.2582" stop-color="#54c568"/><stop offset="0.2622" stop-color="#54c568"/><stop offset="0.2681" stop-color="#54c568"/><stop offset="0.2761" stop-color="#54c568"/><stop offset="0.2810" stop-color="#54c568"/><stop offset="0.2969" stop-color="#54c568"/><stop offset="0.3009" stop-color="#54c568"/><stop offset="0.3039" stop-color="#54c568"/><stop offset="0.3178" stop-color="#54c568"/><stop offset="0.3227" stop-color="#54c568"/><stop offset="0.3247" stop-color="#4ec36b"/><stop offset="0.3287" stop-color="#3fbc73"/><stop offset="0.3406" stop-color="#3dbc74"/><stop offset="0.3426" stop-color="#3dbc74"/><stop offset="0.3476" stop-color="#3bbb75"/><stop offset="0.3575" stop-color="#3aba76"/><stop offset="0.3615" stop-color="#3aba76"/><stop offset="0.3644" stop-color="#3aba76"/><stop offset="0.3823" stop-color="#38b977"/><stop offset="0.3923" stop-color="#38b977"/><stop offset="0.4071" stop-color="#37b878"/><stop offset="0.4171" stop-color="#37b878"/><stop offset="0.4220" stop-color="#31b57b"/><stop offset="0.4369" stop-color="#2fb47c"/><stop offset="0.4568" stop-color="#2fb47c"/><stop offset="0.4638" stop-color="#2fb47c"/><stop offset="0.4717" stop-color="#34b679"/><stop offset="0.4767" stop-color="#35b779"/><stop offset="0.4836" stop-color="#38b977"/><stop offset="0.4945" stop-color="#3bbb75"/><stop offset="0.5065" stop-color="#3dbc74"/><stop offset="0.5114" stop-color="#3dbc74"/><stop offset="0.5164" stop-color="#3dbc74"/><stop offset="0.5293" stop-color="#3dbc74"/><stop offset="0.5313" stop-color="#3dbc74"/><stop offset="0.5482" stop-color="#38b977"/><stop offset="0.5561" stop-color="#37b878"/><stop offset="0.5611" stop-color="#37b878"/><stop offset="0.5660" stop-color="#35b779"/><stop offset="0.5710" stop-color="#35b779"/><stop offset="0.5740" stop-color="#35b779"/><stop offset="0.5780" stop-color="#34b679"/><stop offset="0.5809" stop-color="#34b679"/><stop offset="0.5829" stop-color="#34b679"/><stop offset="0.5859" stop-color="#32b67a"/><stop offset="0.5958" stop-color="#2fb47c"/><stop offset="0.6008" stop-color="#2fb47c"/><stop offset="0.6306" stop-color="#29af7f"/><stop offset="0.6336" stop-color="#29af7f"/><stop offset="0.6703" stop-color="#26ad81"/><stop offset="0.6802" stop-color="#25ac82"/><stop offset="0.6812" stop-color="#25ac82"/><stop offset="0.7001" stop-color="#25ac82"/><stop offset="0.7398" stop-color="#24aa83"/><stop offset="0.7617" stop-color="#24aa83"/><stop offset="0.7637" stop-color="#23a983"/><stop offset="0.7646" stop-color="#23a983"/><stop offset="0.7825" stop-color="#21a685"/><stop offset="0.8103" stop-color="#20a486"/><stop offset="0.8312" stop-color="#20a386"/><stop offset="0.9414" stop-color="#1fa188"/><stop offset="0.9464" stop-color="#1fa287"/><stop offset="0.9732" stop-color="#1f9f88"/><stop offset="1.0000" stop-color="#1f998a"/></linearGradient></defs><g clip-path="url(#cseg)">
<rect x="225.0" y="149" width="1007.0" height="13" fill="url(#r0)"/>
<rect x="225.0" y="162" width="1007.0" height="13" fill="url(#r1)"/>
<rect x="225.0" y="175" width="1007.0" height="13" fill="url(#r2)"/>
<rect x="225.0" y="188" width="1007.0" height="12" fill="url(#r3)"/>
<rect x="225.0" y="200" width="1007.0" height="13" fill="url(#r4)"/>
<rect x="225.0" y="213" width="1007.0" height="13" fill="url(#r5)"/>
<rect x="225.0" y="226" width="1007.0" height="13" fill="url(#r6)"/>
<rect x="225.0" y="239" width="1007.0" height="13" fill="url(#r7)"/>
<rect x="225.0" y="252" width="1007.0" height="13" fill="url(#r8)"/>
<rect x="225.0" y="265" width="1007.0" height="13" fill="url(#r9)"/>
<rect x="225.0" y="278" width="1007.0" height="13" fill="url(#r10)"/>
<rect x="225.0" y="291" width="1007.0" height="12" fill="url(#r11)"/>
<rect x="225.0" y="303" width="1007.0" height="13" fill="url(#r12)"/>
<rect x="225.0" y="316" width="1007.0" height="13" fill="url(#r13)"/>
<rect x="225.0" y="329" width="1007.0" height="13" fill="url(#r14)"/>
<rect x="225.0" y="342" width="1007.0" height="13" fill="url(#r15)"/>
<rect x="225.0" y="355" width="1007.0" height="13" fill="url(#r16)"/>
<rect x="225.0" y="368" width="1007.0" height="13" fill="url(#r17)"/>
<rect x="225.0" y="381" width="1007.0" height="12" fill="url(#r18)"/>
<rect x="225.0" y="393" width="1007.0" height="13" fill="url(#r19)"/>
<rect x="225.0" y="406" width="1007.0" height="13" fill="url(#r20)"/>
<rect x="225.0" y="419" width="1007.0" height="13" fill="url(#r21)"/>
<rect x="225.0" y="432" width="1007.0" height="13" fill="url(#r22)"/>
<rect x="225.0" y="445" width="1007.0" height="13" fill="url(#r23)"/>
<rect x="225.0" y="458" width="1007.0" height="13" fill="url(#r24)"/>
<rect x="225.0" y="471" width="1007.0" height="13" fill="url(#r25)"/>
<rect x="225.0" y="484" width="1007.0" height="12" fill="url(#r26)"/>
<rect x="225.0" y="496" width="1007.0" height="13" fill="url(#r27)"/>
<rect x="225.0" y="509" width="1007.0" height="13" fill="url(#r28)"/>
<rect x="225.0" y="522" width="1007.0" height="13" fill="url(#r29)"/>
</g>
<rect x="232.9" y="534.5" width="0.9" height="26.5" fill="#67cc5c"/>
<rect x="237.2" y="534.5" width="2.8" height="26.5" fill="#67cc5c"/>
<rect x="242.0" y="534.5" width="6.0" height="26.5" fill="#69cd5b"/>
<rect x="279.0" y="534.5" width="3.0" height="26.5" fill="#6ccd5a"/>
<rect x="283.3" y="534.5" width="1.1" height="26.5" fill="#6ccd5a"/>
<rect x="308.0" y="534.5" width="1.0" height="26.5" fill="#60ca60"/>
<rect x="312.0" y="534.5" width="6.0" height="26.5" fill="#63cb5f"/>
<rect x="323.0" y="534.5" width="1.0" height="26.5" fill="#65cb5e"/>
<rect x="327.0" y="534.5" width="3.0" height="26.5" fill="#63cb5f"/>
<rect x="345.0" y="534.5" width="15.0" height="26.5" fill="#60ca60"/>
<rect x="362.4" y="534.5" width="6.6" height="26.5" fill="#5ec962"/>
<rect x="371.0" y="534.5" width="21.0" height="26.5" fill="#5ec962"/>
<rect x="393.4" y="534.5" width="7.6" height="26.5" fill="#5ec962"/>
<rect x="402.5" y="534.5" width="17.5" height="26.5" fill="#5ec962"/>
<rect x="422.0" y="534.5" width="4.0" height="26.5" fill="#5ec962"/>
<rect x="429.0" y="534.5" width="24.0" height="26.5" fill="#3aba76"/>
<rect x="456.0" y="534.5" width="3.0" height="26.5" fill="#3fbc73"/>
<rect x="461.0" y="534.5" width="16.0" height="26.5" fill="#54c568"/>
<rect x="479.0" y="534.5" width="1.0" height="26.5" fill="#54c568"/>
<rect x="483.0" y="534.5" width="8.0" height="26.5" fill="#54c568"/>
<rect x="492.0" y="534.5" width="3.0" height="26.5" fill="#54c568"/>
<rect x="496.6" y="534.5" width="0.8" height="26.5" fill="#54c568"/>
<rect x="499.0" y="534.5" width="1.7" height="26.5" fill="#54c568"/>
<rect x="503.0" y="534.5" width="9.0" height="26.5" fill="#54c568"/>
<rect x="515.0" y="534.5" width="1.0" height="26.5" fill="#54c568"/>
<rect x="519.0" y="534.5" width="6.0" height="26.5" fill="#54c568"/>
<rect x="527.0" y="534.5" width="6.0" height="26.5" fill="#54c568"/>
<rect x="534.4" y="534.5" width="1.4" height="26.5" fill="#54c568"/>
<rect x="543.0" y="534.5" width="5.0" height="26.5" fill="#54c568"/>
<rect x="555.0" y="534.5" width="12.0" height="26.5" fill="#3fbc73"/>
<rect x="567.8" y="534.5" width="0.7" height="26.5" fill="#3dbc74"/>
<rect x="569.2" y="534.5" width="0.7" height="26.5" fill="#3dbc74"/>
<rect x="579.0" y="534.5" width="3.0" height="26.5" fill="#3bbb75"/>
<rect x="584.0" y="534.5" width="4.0" height="26.5" fill="#3aba76"/>
<rect x="590.0" y="534.5" width="6.0" height="26.5" fill="#3aba76"/>
<rect x="600.0" y="534.5" width="1.7" height="26.5" fill="#38b977"/>
<rect x="604.6" y="534.5" width="0.8" height="26.5" fill="#38b977"/>
<rect x="609.0" y="534.5" width="35.0" height="26.5" fill="#38b977"/>
<rect x="654.0" y="534.5" width="2.0" height="26.5" fill="#31b57b"/>
<rect x="665.0" y="534.5" width="16.0" height="26.5" fill="#2fb47c"/>
<rect x="698.0" y="534.5" width="22.0" height="26.5" fill="#37b878"/>
<rect x="728.0" y="534.5" width="1.0" height="26.5" fill="#3dbc74"/>
<rect x="731.0" y="534.5" width="2.0" height="26.5" fill="#3dbc74"/>
<rect x="734.4" y="534.5" width="1.0" height="26.5" fill="#3dbc74"/>
<rect x="737.0" y="534.5" width="1.0" height="26.5" fill="#3dbc74"/>
<rect x="740.0" y="534.5" width="3.0" height="26.5" fill="#3dbc74"/>
<rect x="744.4" y="534.5" width="5.6" height="26.5" fill="#3dbc74"/>
<rect x="752.0" y="534.5" width="3.0" height="26.5" fill="#3dbc74"/>
<rect x="756.7" y="534.5" width="1.3" height="26.5" fill="#3dbc74"/>
<rect x="759.0" y="534.5" width="3.0" height="26.5" fill="#3dbc74"/>
<rect x="764.0" y="534.5" width="1.0" height="26.5" fill="#3bbb75"/>
<rect x="766.7" y="534.5" width="3.0" height="26.5" fill="#3aba76"/>
<rect x="771.0" y="534.5" width="6.0" height="26.5" fill="#38b977"/>
<rect x="779.0" y="534.5" width="3.0" height="26.5" fill="#38b977"/>
<rect x="783.0" y="534.5" width="3.0" height="26.5" fill="#37b878"/>
<rect x="788.0" y="534.5" width="10.0" height="26.5" fill="#37b878"/>
<rect x="803.0" y="534.5" width="4.0" height="26.5" fill="#34b679"/>
<rect x="818.0" y="534.5" width="1.0" height="26.5" fill="#31b57b"/>
<rect x="821.0" y="534.5" width="3.0" height="26.5" fill="#31b57b"/>
<rect x="828.0" y="534.5" width="8.0" height="26.5" fill="#2eb37c"/>
<rect x="837.0" y="534.5" width="5.0" height="26.5" fill="#2db27d"/>
<rect x="843.0" y="534.5" width="2.5" height="26.5" fill="#2cb17e"/>
<rect x="850.6" y="534.5" width="0.8" height="26.5" fill="#2ab07f"/>
<rect x="854.0" y="534.5" width="3.0" height="26.5" fill="#2ab07f"/>
<rect x="858.0" y="534.5" width="51.0" height="26.5" fill="#27ad81"/>
<rect x="915.0" y="534.5" width="29.0" height="26.5" fill="#25ac82"/>
<rect x="950.0" y="534.5" width="28.0" height="26.5" fill="#25ab82"/>
<rect x="980.0" y="534.5" width="1.0" height="26.5" fill="#24aa83"/>
<rect x="984.0" y="534.5" width="2.0" height="26.5" fill="#24aa83"/>
<rect x="990.0" y="534.5" width="2.0" height="26.5" fill="#24aa83"/>
<rect x="1013.0" y="534.5" width="18.0" height="26.5" fill="#21a685"/>
<rect x="1032.0" y="534.5" width="1.0" height="26.5" fill="#21a585"/>
<rect x="1035.0" y="534.5" width="1.0" height="26.5" fill="#20a486"/>
<rect x="1037.6" y="534.5" width="2.9" height="26.5" fill="#20a486"/>
<rect x="1062.0" y="534.5" width="12.0" height="26.5" fill="#20a386"/>
<rect x="1075.7" y="534.5" width="1.3" height="26.5" fill="#20a386"/>
<rect x="1083.0" y="534.5" width="6.0" height="26.5" fill="#1fa287"/>
<rect x="1092.0" y="534.5" width="17.0" height="26.5" fill="#1fa287"/>
<rect x="1122.0" y="534.5" width="3.0" height="26.5" fill="#1fa187"/>
<rect x="1128.0" y="534.5" width="6.0" height="26.5" fill="#1fa187"/>
<rect x="1136.0" y="534.5" width="6.0" height="26.5" fill="#1fa187"/>
<rect x="1161.0" y="534.5" width="2.0" height="26.5" fill="#1fa188"/>
<rect x="1166.5" y="534.5" width="2.5" height="26.5" fill="#1fa188"/>
<rect x="1178.0" y="534.5" width="2.0" height="26.5" fill="#1fa287"/>
<rect x="1194.5" y="534.5" width="1.5" height="26.5" fill="#1fa088"/>
<rect x="1199.0" y="534.5" width="1.0" height="26.5" fill="#1fa088"/>
<rect x="1209.0" y="534.5" width="2.0" height="26.5" fill="#1f9e89"/>
<rect x="1215.0" y="534.5" width="9.0" height="26.5" fill="#1e9c89"/>
<rect x="1225.0" y="534.5" width="2.0" height="26.5" fill="#1f9a8a"/>
<rect x="360" y="140" width="2.4" height="430" fill="#fff"/>
<rect x="392" y="140" width="1.4" height="430" fill="#fff"/>
<rect x="238.9" y="142.2" width="1.4" height="7" fill="#58c765"/>
<rect x="250.8" y="142.2" width="1.4" height="7" fill="#42be71"/>
<rect x="261.2" y="142.2" width="2.6" height="7" fill="#4ac16d"/>
<rect x="291.2" y="142.2" width="1.4" height="7" fill="#58c765"/>
<rect x="319.8" y="142.2" width="1.4" height="7" fill="#5ac864"/>
<rect x="350.3" y="142.2" width="1.4" height="7" fill="#5ac864"/>
<rect x="354.0" y="142.2" width="1.4" height="7" fill="#5ac864"/>
<rect x="372.3" y="142.2" width="1.4" height="7" fill="#5ac864"/>
<rect x="376.3" y="142.2" width="1.4" height="7" fill="#5ac864"/>
<rect x="393.3" y="142.2" width="1.4" height="7" fill="#5ac864"/>
<rect x="421.9" y="142.2" width="1.4" height="7" fill="#3bbb75"/>
<rect x="455.1" y="142.2" width="2.6" height="7" fill="#24aa83"/>
<rect x="489.5" y="142.2" width="1.4" height="7" fill="#2cb17e"/>
<rect x="501.5" y="142.2" width="1.4" height="7" fill="#2cb17e"/>
<rect x="516.1" y="142.2" width="1.4" height="7" fill="#2cb17e"/>
<rect x="529.6" y="142.2" width="1.4" height="7" fill="#2cb17e"/>
<rect x="532.4" y="142.2" width="1.4" height="7" fill="#2cb17e"/>
<rect x="597.5" y="142.2" width="1.4" height="7" fill="#2cb17e"/>
<rect x="600.3" y="142.2" width="1.4" height="7" fill="#2cb17e"/>
<rect x="603.7" y="142.2" width="1.4" height="7" fill="#2cb17e"/>
<rect x="607.3" y="142.2" width="1.4" height="7" fill="#2cb17e"/>
<rect x="615.7" y="142.2" width="1.4" height="7" fill="#2cb17e"/>
<rect x="638.2" y="142.2" width="1.4" height="7" fill="#29af7f"/>
<rect x="673.8" y="142.2" width="1.4" height="7" fill="#2ab07f"/>
<rect x="695.1" y="142.2" width="1.4" height="7" fill="#2ab07f"/>
<rect x="744.0" y="142.2" width="1.4" height="7" fill="#2cb17e"/>
<rect x="786.0" y="142.2" width="1.4" height="7" fill="#2eb37c"/>
<rect x="813.2" y="142.2" width="1.4" height="7" fill="#24aa83"/>
<rect x="828.5" y="142.2" width="1.4" height="7" fill="#22a785"/>
<rect x="832.7" y="142.2" width="1.4" height="7" fill="#22a785"/>
<rect x="890.0" y="142.2" width="1.4" height="7" fill="#21a685"/>
<rect x="962.2" y="142.2" width="1.4" height="7" fill="#22a785"/>
<rect x="969.6" y="142.2" width="1.4" height="7" fill="#22a785"/>
<rect x="987.1" y="142.2" width="2.6" height="7" fill="#22a785"/>
<rect x="1036.2" y="142.2" width="1.4" height="7" fill="#1fa088"/>
<rect x="1038.7" y="142.2" width="1.4" height="7" fill="#1fa088"/>
<rect x="1071.6" y="142.2" width="1.4" height="7" fill="#1f9e89"/>
<rect x="1079.3" y="142.2" width="1.4" height="7" fill="#1f9e89"/>
<rect x="1101.1" y="142.2" width="1.4" height="7" fill="#1e9d89"/>
<rect x="1106.2" y="142.2" width="1.4" height="7" fill="#1e9d89"/>
<rect x="1141.6" y="142.2" width="1.4" height="7" fill="#1e9d89"/>
<rect x="1157.2" y="142.2" width="1.4" height="7" fill="#1e9d89"/>
<rect x="1161.4" y="142.2" width="1.4" height="7" fill="#1e9c89"/>
<rect x="1165.7" y="142.2" width="1.4" height="7" fill="#1e9c89"/>
<rect x="1171.3" y="142.2" width="1.4" height="7" fill="#1e9c89"/>
<rect x="1203.3" y="142.2" width="1.4" height="7" fill="#1e9b8a"/>
<rect x="1215.3" y="142.2" width="1.4" height="7" fill="#1f988b"/>
<rect x="425.6" y="364" width="1.6" height="171" fill="#228c8d"/>
<rect x="807.5" y="149" width="1" height="120" fill="#1f988b" opacity="0.35"/>
<g fill="none" stroke="#000" stroke-opacity="0.4" stroke-width="2.2" stroke-linejoin="round"><polyline points="226,171.6 229,171.9 232,171.6 235,171.6 238,171.4 241,171.6 244,172.1 247,171.9 250,172.1 253,171.8 256,171.8 259,171.8 262,171.1 265,172.0 268,171.9 271,171.9 274,171.1 277,171.1 280,171.4 283,171.5 286,171.8 289,171.7 292,171.9 295,171.5 298,171.8 301,171.8 304,171.5 307,172.3 310,171.9 313,172.1 316,171.5 319,171.5 322,171.6 325,171.7 328,171.9 331,171.8 334,171.6 337,171.4 340,171.5 343,172.1 346,171.4 349,171.8 352,171.9 355,171.2 358,171.7"/><polyline points="363,172.2 366,171.0 369,171.6 372,171.7 375,171.4 378,171.9 381,171.7 384,171.2 387,172.0 390,171.9"/><polyline points="394,172.0 397,172.2 400,171.8 403,171.8 406,171.3 409,171.9 412,171.5 415,171.6 418,171.3 421,171.4 424,171.5 427,172.2 430,171.0 433,171.2 436,171.8 439,172.2 442,171.9 445,171.0 448,170.8 451,171.8 454,171.5 457,171.3 460,172.1 463,172.1 466,171.8 469,171.8 472,171.9 475,172.3 478,171.9 481,171.9 484,171.9 487,171.2 490,172.2 493,172.0 496,171.9 499,171.0 502,171.5 505,172.0 508,171.1 511,171.6 514,172.1 517,171.3 520,172.3 523,171.9 526,171.7 529,171.8 532,171.9 535,171.8 538,172.1 541,171.5 544,171.6 547,172.1 550,171.7 553,171.4 556,172.0 559,172.2 562,171.6 565,171.2 568,171.7 571,171.7 574,171.6 577,172.2 580,171.4 583,172.2 586,171.3 589,171.4 592,171.9 595,172.1 598,172.0 601,171.8 604,171.8 607,171.8 610,171.9 613,171.6 616,171.8 619,171.9 622,171.7 625,172.0 628,171.9 631,172.4 634,171.8 637,171.6 640,171.6 643,171.7 646,172.0 649,171.6 652,171.8 655,172.4 658,170.8 661,171.3 664,171.8 667,171.8 670,171.8 673,171.6 676,171.9 679,171.8 682,171.5 685,172.6 688,171.8 691,171.5 694,171.7 697,171.6 700,171.7 703,170.8 706,171.5 709,172.1 712,171.3 715,171.7 718,172.0 721,172.0 724,172.2 727,171.1 730,171.6 733,171.6 736,171.9 739,172.1 742,170.8 745,172.1 748,171.2 751,171.9 754,171.2 757,171.8 760,172.1 763,171.7 766,171.8 769,172.0 772,171.8 775,171.7 778,172.2 781,172.1 784,171.6 787,172.7 790,171.3 793,172.0 796,171.6 799,171.8 802,172.0 805,171.8 808,171.9 811,171.2 814,171.2 817,171.9 820,171.4 823,171.4 826,171.2 829,172.2 832,172.0 835,172.2 838,171.4 841,171.7 844,171.3 847,172.0 850,172.3 853,171.4 856,172.3 859,172.1 862,171.6 865,171.0 868,172.2 871,171.7 874,171.5 877,171.8 880,171.9 883,172.2 886,171.4 889,172.1 892,172.2 895,172.2 898,171.6 901,171.4 904,172.1 907,171.8 910,171.8 913,172.2 916,171.6 919,170.9 922,171.6 925,171.1 928,172.0 931,171.8 934,171.5 937,171.7 940,172.0 943,171.7 946,172.2 949,171.7 952,172.1 955,172.2 958,172.3 961,171.5 964,172.0 967,171.1 970,171.3 973,171.0 976,172.1 979,171.3 982,171.7 985,171.6 988,171.7 991,171.5 994,171.8"/><polyline points="1014,172.3 1017,171.7 1020,171.9 1023,172.1 1026,171.6 1029,171.3 1032,171.5 1035,172.1 1038,171.1"/><polyline points="1063,171.5 1066,172.1 1069,172.0 1072,171.7 1075,172.0 1078,171.8 1081,171.3 1084,171.2 1087,171.5 1090,172.0 1093,171.5 1096,171.4 1099,171.4 1102,171.2 1105,171.7 1108,171.3 1111,171.8 1114,170.9 1117,171.8 1120,171.5 1123,171.0 1126,172.0 1129,171.6 1132,170.9 1135,171.4 1138,171.8 1141,171.5 1144,172.0 1147,172.0 1150,171.9 1153,171.8 1156,172.2 1159,171.9 1162,171.9 1165,171.0 1168,172.0 1171,172.2"/><polyline points="1179,171.6 1182,171.5 1185,172.4 1188,171.1 1191,171.9 1194,172.6 1197,171.4 1200,172.0 1203,172.4 1206,171.7 1209,171.9 1212,172.0 1215,171.4 1218,171.7 1221,171.8 1224,172.0 1227,171.7 1230,171.6"/><polyline points="226,197.5 229,197.8 232,198.2 235,197.9 238,197.6 241,197.6 244,198.8 247,198.3 250,198.1 253,197.0 256,198.1 259,198.0 262,198.5 265,198.0 268,197.9 271,198.1 274,197.2 277,198.2 280,198.0 283,197.6 286,198.3 289,198.5 292,197.4 295,197.6 298,198.0 301,197.9 304,197.7 307,197.5 310,198.6 313,198.2 316,197.5 319,197.4 322,198.5 325,198.2 328,198.5 331,198.2 334,197.6 337,198.0 340,197.1 343,197.6 346,197.9 349,198.1 352,197.6 355,197.8 358,198.0"/><polyline points="363,198.0 366,198.1 369,198.0 372,197.8 375,198.2 378,197.9 381,197.6 384,197.7 387,197.9 390,197.8"/><polyline points="394,197.9 397,197.9 400,197.9 403,197.8 406,197.4 409,198.0 412,198.2 415,198.0 418,197.8 421,198.0 424,197.5 427,197.2 430,197.9 433,197.6 436,198.1 439,197.5 442,197.0 445,197.5 448,198.4 451,197.7 454,197.4 457,197.6 460,198.1 463,198.1 466,197.9 469,198.4 472,198.1 475,197.9 478,198.1 481,198.5 484,198.2 487,198.2 490,197.5 493,197.8 496,198.1 499,197.8 502,198.3 505,198.1 508,198.2 511,197.8 514,198.8 517,198.3 520,197.8 523,197.9 526,198.8 529,197.8 532,198.2 535,198.2 538,197.9 541,197.5 544,197.9 547,198.0 550,198.3 553,198.2 556,197.9 559,198.2 562,198.1 565,198.0 568,197.9 571,197.8 574,198.1 577,197.5 580,197.7 583,197.9 586,197.4 589,197.7 592,197.2 595,197.6 598,198.1 601,198.1 604,197.9 607,197.8 610,197.4 613,198.5 616,198.1 619,198.3 622,197.6 625,197.8 628,197.2 631,198.2 634,198.2 637,197.2 640,197.9 643,198.1 646,197.3 649,197.2 652,197.5 655,197.7 658,197.4 661,197.9 664,198.0 667,198.1 670,198.1 673,198.4 676,198.3 679,197.4 682,197.7 685,197.5 688,197.5 691,197.9 694,197.9 697,198.1 700,197.3 703,197.4 706,197.9 709,197.8 712,197.8 715,197.9 718,197.6 721,198.1 724,198.0 727,197.8 730,197.6 733,197.8 736,196.9 739,197.5 742,197.9 745,197.4 748,197.9 751,197.9 754,197.4 757,197.8 760,197.8 763,198.0 766,198.1 769,197.9 772,197.6 775,197.8 778,197.9 781,198.1 784,198.0 787,197.6 790,197.4 793,197.7 796,197.6 799,197.5 802,197.8 805,197.7 808,197.9 811,198.1 814,197.7 817,198.7 820,197.8 823,198.3 826,197.9 829,198.3 832,197.0 835,197.6 838,198.0 841,198.1 844,198.7 847,198.0 850,198.3 853,198.1 856,198.2 859,198.1 862,197.8 865,198.1 868,197.5 871,198.3 874,197.5 877,198.0 880,198.6 883,197.8 886,197.9 889,198.3 892,197.9 895,197.6 898,198.0 901,198.1 904,198.1 907,197.6 910,198.5 913,198.5 916,197.9 919,198.0 922,197.7 925,198.4 928,197.6 931,198.1 934,197.7 937,197.6 940,198.1 943,198.3 946,197.9 949,197.6 952,198.2 955,197.9 958,198.0 961,198.4 964,198.3 967,197.7 970,198.7 973,197.9 976,198.2 979,197.7 982,197.9 985,197.3 988,198.5 991,198.4 994,197.5"/><polyline points="1014,197.4 1017,197.3 1020,198.3 1023,197.7 1026,197.9 1029,197.8 1032,197.8 1035,197.5 1038,197.9"/><polyline points="1063,197.4 1066,197.9 1069,198.0 1072,198.0 1075,197.8 1078,197.6 1081,197.9 1084,197.7 1087,198.4 1090,198.1 1093,197.8 1096,197.7 1099,197.6 1102,197.6 1105,197.8 1108,198.0 1111,198.1 1114,198.1 1117,198.6 1120,197.6 1123,197.9 1126,198.9 1129,197.2 1132,197.7 1135,197.9 1138,197.9 1141,198.0 1144,197.8 1147,198.0 1150,197.9 1153,198.1 1156,197.2 1159,197.6 1162,197.9 1165,197.5 1168,197.5 1171,198.1"/><polyline points="1179,197.7 1182,198.1 1185,198.1 1188,198.0 1191,198.1 1194,197.8 1197,197.4 1200,197.9 1203,198.0 1206,197.7 1209,197.8 1212,198.1 1215,197.6 1218,198.1 1221,198.5 1224,197.7 1227,197.9 1230,197.8"/><polyline points="226,224.6 229,224.2 232,224.4 235,223.8 238,224.0 241,224.0 244,223.4 247,224.6 250,224.4 253,223.4 256,224.3 259,224.0 262,224.2 265,224.2 268,223.5 271,224.0 274,224.6 277,223.8 280,223.7 283,223.6 286,223.6 289,224.2 292,224.6 295,224.2 298,224.1 301,224.8 304,223.9 307,223.8 310,224.2 313,224.2 316,223.7 319,223.6 322,224.2 325,224.1 328,223.6 331,224.0 334,223.9 337,224.2 340,224.0 343,224.0 346,223.9 349,224.4 352,224.5 355,223.9 358,224.3"/><polyline points="363,223.8 366,224.1 369,224.3 372,224.6 375,223.9 378,224.0 381,224.1 384,223.5 387,224.1 390,223.8"/><polyline points="394,224.2 397,223.7 400,223.4 403,224.1 406,224.1 409,223.9 412,224.4 415,224.0 418,223.8 421,224.2 424,223.5 427,223.8 430,224.0 433,224.3 436,224.0 439,224.2 442,223.8 445,224.2 448,224.6 451,223.8 454,224.9 457,223.8 460,224.1 463,224.1 466,224.4 469,223.6 472,223.3 475,224.3 478,224.3 481,224.3 484,225.0 487,224.1 490,224.1 493,224.4 496,224.2 499,224.6 502,223.6 505,223.9 508,222.8 511,224.3 514,223.9 517,224.4 520,224.8 523,224.0 526,224.0 529,223.9 532,223.8 535,223.8 538,224.3 541,224.1 544,224.1 547,224.0 550,224.4 553,224.2 556,224.0 559,224.3 562,224.0 565,223.6 568,224.6 571,224.2 574,223.7 577,224.4 580,224.2 583,223.5 586,224.6 589,224.2 592,224.4 595,224.1 598,224.0 601,223.5 604,224.4 607,224.1 610,223.9 613,224.2 616,224.1 619,224.3 622,223.9 625,224.0 628,223.3 631,223.9 634,224.3 637,224.5 640,223.9 643,224.0 646,224.6 649,223.9 652,224.3 655,224.6 658,224.1 661,224.5 664,223.8 667,224.1 670,224.0 673,224.1 676,224.4 679,224.9 682,223.8 685,223.8 688,224.2 691,223.7 694,224.2 697,224.3 700,224.0 703,224.2 706,223.5 709,224.3 712,223.5 715,223.8 718,223.9 721,223.9 724,224.4 727,224.1 730,223.9 733,224.2 736,224.6 739,224.1 742,224.2 745,224.5 748,224.1 751,223.6 754,224.9 757,224.8 760,223.4 763,224.0 766,224.2 769,224.4 772,224.3 775,224.0 778,223.7 781,224.1 784,224.4 787,223.7 790,223.7 793,224.0 796,223.4 799,224.0 802,223.9 805,224.2 808,223.8 811,223.7 814,223.9 817,224.0 820,223.8 823,224.1 826,224.3 829,224.5 832,224.6 835,223.8 838,223.9 841,223.2 844,224.7 847,223.8 850,224.0 853,224.2 856,223.6 859,224.2 862,224.0 865,223.4 868,224.2 871,224.5 874,223.4 877,224.3 880,224.1 883,224.2 886,224.2 889,224.5 892,224.0 895,224.4 898,223.9 901,224.3 904,223.8 907,224.0 910,224.7 913,224.2 916,224.0 919,223.6 922,223.8 925,224.1 928,224.4 931,224.2 934,224.2 937,224.0 940,224.5 943,223.9 946,223.9 949,224.4 952,224.1 955,224.0 958,223.8 961,224.0 964,224.3 967,224.2 970,223.6 973,224.2 976,224.1 979,223.7 982,224.3 985,224.0 988,223.9 991,224.3 994,224.5"/><polyline points="1014,223.8 1017,224.2 1020,223.7 1023,224.9 1026,223.9 1029,224.5 1032,223.8 1035,224.3 1038,224.8"/><polyline points="1063,223.2 1066,223.9 1069,224.2 1072,224.0 1075,223.8 1078,224.8 1081,224.1 1084,223.5 1087,224.3 1090,223.4 1093,224.5 1096,223.8 1099,224.1 1102,224.5 1105,224.1 1108,223.6 1111,223.5 1114,224.5 1117,224.3 1120,223.8 1123,224.4 1126,224.2 1129,224.3 1132,223.3 1135,223.9 1138,224.4 1141,224.3 1144,224.4 1147,223.2 1150,224.1 1153,224.2 1156,224.9 1159,223.7 1162,223.9 1165,224.1 1168,224.4 1171,223.9"/><polyline points="1179,224.5 1182,223.8 1185,224.1 1188,223.9 1191,224.1 1194,223.8 1197,223.5 1200,224.4 1203,224.2 1206,223.9 1209,224.1 1212,224.4 1215,223.7 1218,224.0 1221,224.2 1224,224.2 1227,223.9 1230,223.3"/><polyline points="226,250.7 229,250.3 232,250.2 235,250.1 238,250.3 241,250.1 244,249.9 247,250.0 250,250.0 253,250.0 256,249.8 259,250.4 262,249.8 265,250.5 268,249.9 271,250.3 274,250.7 277,250.3 280,250.0 283,250.2 286,250.3 289,249.6 292,250.0 295,250.3 298,250.1 301,250.2 304,250.5 307,250.5 310,250.5 313,250.4 316,250.1 319,250.2 322,250.1 325,250.1 328,250.2 331,249.6 334,250.1 337,250.2 340,249.9 343,250.2 346,250.4 349,250.2 352,250.9 355,249.3 358,250.1"/><polyline points="363,249.6 366,250.6 369,251.1 372,249.3 375,250.3 378,250.4 381,250.1 384,250.4 387,249.4 390,250.5"/><polyline points="394,250.4 397,250.2 400,250.0 403,250.4 406,250.1 409,250.3 412,250.0 415,249.4 418,250.2 421,250.3 424,250.5 427,249.9 430,250.2 433,250.4 436,250.3 439,250.7 442,250.9 445,249.9 448,249.5 451,250.5 454,250.8 457,250.5 460,250.5 463,250.0 466,250.0 469,250.5 472,249.9 475,249.6 478,249.9 481,251.1 484,250.9 487,250.0 490,250.0 493,250.3 496,250.0 499,250.7 502,250.2 505,249.8 508,250.7 511,250.0 514,250.3 517,250.2 520,250.1 523,250.3 526,250.0 529,249.6 532,249.4 535,249.8 538,250.0 541,250.2 544,250.2 547,250.4 550,250.3 553,249.9 556,250.0 559,249.5 562,250.2 565,250.4 568,250.4 571,250.2 574,250.2 577,250.5 580,250.2 583,250.5 586,250.4 589,250.3 592,250.7 595,250.0 598,250.1 601,249.9 604,249.9 607,250.8 610,250.8 613,250.2 616,250.4 619,250.6 622,250.5 625,250.6 628,249.8 631,250.0 634,250.4 637,250.7 640,250.3 643,249.9 646,250.1 649,250.0 652,249.9 655,250.7 658,250.0 661,250.2 664,251.0 667,250.6 670,250.3 673,250.0 676,250.4 679,250.8 682,250.4 685,250.7 688,250.3 691,250.4 694,250.1 697,250.4 700,250.7 703,249.7 706,250.2 709,250.3 712,250.0 715,250.1 718,250.5 721,250.9 724,250.4 727,250.3 730,249.7 733,250.9 736,250.2 739,250.2 742,249.8 745,250.2 748,249.8 751,250.2 754,250.4 757,250.2 760,250.3 763,249.9 766,250.7 769,250.0 772,249.6 775,250.2 778,250.0 781,249.9 784,250.1 787,250.3 790,249.8 793,250.2 796,250.7 799,250.5 802,250.2 805,250.3 808,250.2 811,250.2 814,250.5 817,250.2 820,249.4 823,250.2 826,249.9 829,250.4 832,250.0 835,250.3 838,251.0 841,249.9 844,249.8 847,249.7 850,249.4 853,249.6 856,250.3 859,250.0 862,249.6 865,249.7 868,250.4 871,249.9 874,250.1 877,250.3 880,250.7 883,250.9 886,250.6 889,250.3 892,250.3 895,250.9 898,250.7 901,250.1 904,250.4 907,250.3 910,250.2 913,250.0 916,249.8 919,250.0 922,249.7 925,250.6 928,250.4 931,249.8 934,250.7 937,250.5 940,249.6 943,250.9 946,250.5 949,250.9 952,249.8 955,250.4 958,250.4 961,250.3 964,250.3 967,250.6 970,249.7 973,249.8 976,249.7 979,250.0 982,250.0 985,250.3 988,250.3 991,250.2 994,250.0"/><polyline points="1014,250.1 1017,250.6 1020,250.5 1023,250.3 1026,250.1 1029,250.8 1032,250.0 1035,250.4 1038,250.6"/><polyline points="1063,250.1 1066,250.5 1069,249.8 1072,250.6 1075,250.3 1078,249.7 1081,250.5 1084,249.9 1087,250.7 1090,250.0 1093,250.2 1096,250.3 1099,250.1 1102,250.3 1105,250.0 1108,250.5 1111,250.2 1114,250.3 1117,249.3 1120,250.6 1123,250.2 1126,249.6 1129,250.3 1132,250.4 1135,250.6 1138,249.8 1141,250.8 1144,250.2 1147,251.1 1150,250.2 1153,250.5 1156,250.1 1159,249.8 1162,250.6 1165,250.5 1168,250.8 1171,250.5"/><polyline points="1179,250.0 1182,249.6 1185,250.0 1188,250.0 1191,249.9 1194,250.4 1197,250.3 1200,250.1 1203,250.3 1206,250.2 1209,250.3 1212,250.5 1215,250.6 1218,250.0 1221,249.7 1224,250.7 1227,250.3 1230,250.6"/><polyline points="226,275.8 229,276.3 232,276.4 235,275.9 238,276.2 241,276.6 244,276.8 247,276.9 250,276.1 253,275.9 256,276.6 259,276.7 262,276.5 265,275.9 268,276.7 271,276.7 274,276.6 277,276.2 280,276.5 283,276.7 286,276.2 289,275.7 292,276.5 295,276.6 298,276.4 301,276.7 304,276.2 307,276.4 310,276.3 313,276.6 316,276.9 319,276.3 322,277.1 325,276.9 328,276.7 331,276.6 334,277.0 337,276.3 340,276.4 343,276.0 346,276.6 349,276.9 352,276.6 355,276.5 358,276.3"/><polyline points="363,276.4 366,275.9 369,276.8 372,276.2 375,276.0 378,276.1 381,276.1 384,276.7 387,276.8 390,275.9"/><polyline points="394,276.7 397,276.7 400,276.2 403,275.9 406,276.1 409,276.2 412,276.5 415,276.3 418,275.7 421,276.5 424,275.9 427,276.7 430,276.0 433,276.1 436,276.1 439,276.2 442,276.8 445,276.7 448,276.6 451,276.5 454,275.8 457,276.2 460,276.2 463,276.0 466,276.6 469,276.1 472,276.1 475,276.0 478,275.7 481,276.6 484,276.9 487,276.5 490,276.0 493,275.4 496,276.5 499,276.8 502,276.5 505,276.7 508,276.9 511,276.8 514,276.2 517,276.8 520,276.7 523,275.9 526,276.2 529,275.9 532,276.4 535,276.6 538,276.0 541,275.7 544,276.8 547,276.5 550,276.9 553,275.9 556,276.8 559,277.1 562,277.1 565,276.3 568,276.5 571,276.3 574,276.7 577,276.8 580,276.4 583,275.9 586,276.6 589,276.2 592,276.6 595,276.5 598,277.0 601,276.8 604,276.2 607,276.5 610,277.0 613,276.2 616,276.5 619,276.8 622,276.8 625,276.6 628,275.9 631,275.9 634,276.5 637,276.5 640,277.3 643,276.1 646,276.8 649,276.7 652,275.8 655,276.1 658,276.4 661,276.2 664,276.3 667,276.6 670,276.1 673,276.6 676,276.2 679,276.2 682,276.6 685,276.2 688,276.5 691,276.9 694,276.4 697,276.3 700,276.6 703,276.3 706,276.8 709,275.9 712,276.6 715,276.2 718,276.1 721,277.0 724,276.1 727,277.0 730,276.6 733,276.9 736,276.0 739,276.8 742,276.9 745,276.3 748,276.3 751,277.2 754,276.5 757,276.2 760,276.2 763,276.5 766,276.5 769,276.5 772,277.0 775,276.3 778,276.6 781,276.9 784,276.0 787,276.8 790,277.0 793,275.9 796,276.0 799,276.0 802,275.7 805,276.5 808,275.7 811,276.6 814,276.9 817,275.8 820,276.3 823,275.7 826,276.7 829,276.1 832,276.3 835,276.4 838,276.6 841,276.3 844,276.4 847,276.2 850,276.4 853,276.0 856,276.4 859,275.7 862,276.2 865,277.1 868,276.4 871,275.9 874,276.5 877,276.0 880,275.8 883,276.1 886,276.6 889,276.5 892,276.4 895,276.1 898,276.0 901,276.9 904,276.5 907,276.1 910,275.7 913,275.9 916,277.3 919,276.0 922,276.4 925,276.5 928,276.3 931,276.3 934,275.9 937,276.0 940,277.0 943,276.1 946,276.7 949,275.8 952,276.3 955,276.5 958,276.8 961,276.0 964,276.6 967,276.5 970,276.1 973,276.6 976,276.1 979,276.1 982,276.4 985,275.4 988,276.4 991,276.0 994,275.9"/><polyline points="1014,276.2 1017,276.7 1020,276.2 1023,276.8 1026,276.0 1029,275.9 1032,276.9 1035,276.5 1038,276.7"/><polyline points="1063,276.1 1066,276.7 1069,276.5 1072,276.6 1075,276.4 1078,276.8 1081,276.2 1084,276.1 1087,275.9 1090,276.8 1093,276.1 1096,276.0 1099,276.1 1102,276.2 1105,275.9 1108,276.3 1111,276.2 1114,276.2 1117,276.1 1120,276.4 1123,276.2 1126,276.4 1129,276.5 1132,276.5 1135,275.6 1138,276.2 1141,276.1 1144,276.7 1147,275.8 1150,276.1 1153,276.3 1156,276.3 1159,276.7 1162,276.2 1165,276.7 1168,275.9 1171,275.8"/><polyline points="1179,276.8 1182,276.5 1185,276.6 1188,276.4 1191,276.6 1194,276.0 1197,276.7 1200,276.2 1203,276.7 1206,276.4 1209,275.7 1212,275.9 1215,276.8 1218,276.3 1221,276.3 1224,276.5 1227,276.2 1230,276.2"/><polyline points="226,302.6 229,302.6 232,303.1 235,302.6 238,303.2 241,303.2 244,303.2 247,302.9 250,302.6 253,302.6 256,302.5 259,302.3 262,302.5 265,302.3 268,303.1 271,302.7 274,302.4 277,301.9 280,302.5 283,302.4 286,302.2 289,302.2 292,301.8 295,302.8 298,302.5 301,303.5 304,302.5 307,302.5 310,303.1 313,302.6 316,302.6 319,302.4 322,302.3 325,303.1 328,302.9 331,303.2 334,302.4 337,302.6 340,302.3 343,302.9 346,302.1 349,302.8 352,302.9 355,303.1 358,302.2"/><polyline points="363,302.9 366,302.3 369,302.3 372,302.1 375,303.0 378,303.1 381,302.4 384,302.3 387,302.4 390,303.4"/><polyline points="394,302.9 397,302.4 400,301.9 403,302.3 406,303.0 409,303.2 412,302.5 415,302.3 418,302.4 421,301.9 424,302.9 427,302.2 430,302.9 433,302.0 436,302.1 439,302.7 442,302.3 445,302.8 448,302.6 451,302.1 454,302.8 457,302.9 460,301.9 463,303.2 466,302.7 469,302.8 472,301.9 475,302.3 478,302.4 481,302.9 484,302.0 487,302.3 490,301.8 493,302.5 496,302.7 499,302.0 502,302.4 505,302.7 508,303.1 511,302.8 514,302.5 517,302.1 520,302.2 523,302.3 526,302.6 529,302.5 532,303.1 535,302.7 538,302.2 541,303.1 544,302.9 547,302.6 550,302.3 553,301.9 556,302.2 559,302.9 562,302.3 565,302.1 568,302.6 571,302.6 574,302.8 577,302.8 580,303.1 583,302.3 586,302.9 589,302.2 592,302.8 595,302.6 598,302.6 601,302.9 604,302.6 607,302.9 610,302.9 613,302.6 616,302.4 619,302.3 622,302.4 625,302.5 628,302.6 631,303.6 634,302.8 637,302.8 640,302.3 643,302.3 646,302.4 649,302.6 652,302.2 655,303.1 658,302.4 661,302.9 664,301.7 667,302.6 670,302.7 673,302.6 676,302.8 679,302.7 682,302.6 685,301.9 688,302.3 691,301.7 694,302.8 697,302.7 700,302.5 703,302.3 706,302.4 709,303.2 712,303.2 715,302.5 718,303.0 721,302.0 724,301.9 727,302.4 730,302.3 733,302.4 736,302.6 739,303.6 742,302.3 745,302.6 748,302.7 751,302.5 754,302.9 757,303.2 760,302.1 763,302.6 766,302.5 769,302.7 772,302.0 775,301.9 778,301.7 781,302.7 784,302.6 787,302.6 790,301.7 793,302.4 796,302.3 799,302.1 802,302.2 805,302.8 808,302.8 811,302.6 814,302.7 817,302.3 820,302.6 823,302.6 826,302.8 829,302.5 832,302.5 835,302.5 838,302.3 841,303.3 844,302.7 847,302.7 850,303.4 853,303.1 856,302.0 859,302.8 862,302.9 865,303.2 868,303.0 871,302.8 874,302.1 877,302.3 880,302.7 883,302.7 886,302.2 889,302.4 892,302.4 895,302.6 898,302.7 901,302.5 904,302.1 907,303.0 910,303.1 913,302.5 916,302.9 919,302.7 922,302.8 925,302.7 928,302.3 931,302.8 934,302.9 937,302.2 940,303.2 943,303.3 946,303.2 949,303.3 952,302.8 955,302.4 958,302.4 961,302.3 964,302.6 967,302.5 970,302.8 973,301.9 976,303.4 979,303.4 982,302.6 985,302.8 988,302.7 991,302.7 994,302.5"/><polyline points="1014,302.5 1017,302.3 1020,302.6 1023,302.6 1026,302.7 1029,302.3 1032,302.6 1035,302.6 1038,302.8"/><polyline points="1063,302.2 1066,302.7 1069,302.9 1072,302.8 1075,302.4 1078,302.4 1081,302.5 1084,302.8 1087,303.1 1090,302.5 1093,302.3 1096,302.7 1099,302.6 1102,302.2 1105,302.3 1108,302.5 1111,302.8 1114,302.1 1117,302.2 1120,302.7 1123,302.1 1126,302.6 1129,302.7 1132,302.5 1135,302.2 1138,302.5 1141,302.4 1144,302.7 1147,302.3 1150,302.9 1153,302.0 1156,302.5 1159,302.6 1162,302.9 1165,302.3 1168,302.8 1171,302.4"/><polyline points="1179,302.8 1182,303.2 1185,302.4 1188,302.7 1191,302.2 1194,302.9 1197,303.0 1200,302.6 1203,302.2 1206,302.7 1209,303.0 1212,302.9 1215,302.8 1218,301.9 1221,302.3 1224,303.1 1227,302.1 1230,303.0"/><polyline points="226,329.4 229,329.0 232,329.1 235,328.6 238,328.3 241,328.7 244,328.7 247,328.7 250,329.0 253,328.7 256,328.8 259,328.9 262,328.7 265,329.4 268,328.9 271,328.8 274,328.7 277,328.5 280,329.2 283,328.8 286,328.4 289,328.5 292,328.7 295,328.6 298,329.1 301,328.3 304,328.9 307,328.8 310,328.3 313,328.7 316,328.7 319,328.9 322,328.6 325,328.8 328,328.1 331,328.4 334,329.0 337,329.1 340,328.7 343,328.5 346,329.1 349,328.0 352,328.5 355,329.0 358,329.0"/><polyline points="363,328.4 366,328.1 369,329.2 372,328.8 375,328.4 378,328.7 381,329.0 384,327.8 387,329.1 390,329.0"/><polyline points="394,328.0 397,329.0 400,328.1 403,329.1 406,328.9 409,329.5 412,328.5 415,328.7 418,329.1 421,328.5 424,328.5 427,328.6 430,328.7 433,328.4 436,328.9 439,328.9 442,328.8 445,329.3 448,328.6 451,329.2 454,328.5 457,329.0 460,328.1 463,328.8 466,328.7 469,328.6 472,328.5 475,328.6 478,328.5 481,328.0 484,328.5 487,328.5 490,328.5 493,328.4 496,328.7 499,329.0 502,328.6 505,328.6 508,329.2 511,329.1 514,329.1 517,329.1 520,328.6 523,328.7 526,329.1 529,328.5 532,328.7 535,328.9 538,328.9 541,328.6 544,329.1 547,328.7 550,329.0 553,329.1 556,329.0 559,329.0 562,328.3 565,328.3 568,328.5 571,328.9 574,329.3 577,328.3 580,328.8 583,328.4 586,328.5 589,328.6 592,329.0 595,328.8 598,329.1 601,328.4 604,329.0 607,329.1 610,328.8 613,328.9 616,328.5 619,328.3 622,328.6 625,328.5 628,329.7 631,328.6 634,329.3 637,328.8 640,328.8 643,329.0 646,328.5 649,329.1 652,328.9 655,328.2 658,328.9 661,328.9 664,328.9 667,329.3 670,328.6 673,328.9 676,329.0 679,328.4 682,329.1 685,328.2 688,328.3 691,328.9 694,328.3 697,328.7 700,328.2 703,328.8 706,328.3 709,328.8 712,328.2 715,328.9 718,328.6 721,328.8 724,328.7 727,328.8 730,328.3 733,327.8 736,328.7 739,328.4 742,328.6 745,328.9 748,328.0 751,328.5 754,328.5 757,328.4 760,328.8 763,328.7 766,328.4 769,328.4 772,329.0 775,328.5 778,328.9 781,328.9 784,328.1 787,328.4 790,328.7 793,328.8 796,329.0 799,329.0 802,329.1 805,328.6 808,328.7 811,329.0 814,328.6 817,329.1 820,328.2 823,329.0 826,328.7 829,328.0 832,329.1 835,328.8 838,328.7 841,328.4 844,328.6 847,329.3 850,328.4 853,327.5 856,328.4 859,328.3 862,328.7 865,328.6 868,328.4 871,328.4 874,329.1 877,328.2 880,329.4 883,328.5 886,328.3 889,329.0 892,328.9 895,328.4 898,329.0 901,328.1 904,328.4 907,329.1 910,328.6 913,328.3 916,328.9 919,329.1 922,328.7 925,328.1 928,328.6 931,328.9 934,329.0 937,329.4 940,328.6 943,328.6 946,328.7 949,329.2 952,328.4 955,329.2 958,327.8 961,329.0 964,328.5 967,328.9 970,329.0 973,328.3 976,328.7 979,328.8 982,328.9 985,328.4 988,328.4 991,328.1 994,329.6"/><polyline points="1014,328.7 1017,328.7 1020,328.2 1023,329.1 1026,328.5 1029,329.2 1032,329.0 1035,328.7 1038,329.0"/><polyline points="1063,328.3 1066,328.6 1069,328.5 1072,328.3 1075,328.7 1078,328.7 1081,329.2 1084,327.6 1087,328.5 1090,328.4 1093,328.6 1096,328.9 1099,328.9 1102,328.7 1105,328.6 1108,328.9 1111,328.9 1114,328.1 1117,328.6 1120,328.2 1123,328.3 1126,328.8 1129,328.8 1132,328.8 1135,328.4 1138,328.7 1141,328.4 1144,328.9 1147,329.0 1150,329.3 1153,329.2 1156,328.4 1159,328.6 1162,328.4 1165,328.8 1168,329.4 1171,329.0"/><polyline points="1179,328.0 1182,328.3 1185,328.3 1188,328.9 1191,328.7 1194,328.8 1197,329.4 1200,328.4 1203,328.4 1206,329.4 1209,328.8 1212,328.5 1215,328.0 1218,328.2 1221,327.9 1224,328.8 1227,328.7 1230,329.1"/><polyline points="226,354.9 229,354.7 232,354.6 235,355.6 238,354.3 241,355.0 244,354.9 247,355.1 250,354.8 253,355.1 256,355.2 259,354.8 262,354.7 265,354.8 268,354.6 271,354.8 274,354.8 277,355.0 280,355.4 283,355.4 286,354.7 289,355.1 292,355.0 295,355.2 298,354.9 301,355.0 304,354.7 307,354.6 310,355.2 313,355.4 316,355.1 319,355.1 322,355.0 325,354.7 328,354.3 331,355.1 334,355.0 337,354.7 340,354.6 343,355.3 346,354.3 349,355.5 352,355.1 355,355.7 358,354.6"/><polyline points="363,354.9 366,354.7 369,355.0 372,354.8 375,354.6 378,355.3 381,354.6 384,354.7 387,355.1 390,354.7"/><polyline points="394,354.7 397,355.0 400,354.8 403,354.5 406,354.9 409,354.8 412,355.5 415,354.5 418,355.2 421,354.6 424,354.8 427,354.8 430,355.0 433,355.2 436,355.5 439,354.7 442,355.4 445,355.2 448,355.2 451,354.6 454,355.2 457,354.9 460,355.0 463,354.8 466,355.1 469,355.3 472,355.3 475,354.8 478,355.2 481,355.4 484,354.6 487,355.4 490,354.4 493,355.1 496,355.1 499,355.4 502,355.0 505,354.7 508,354.6 511,354.5 514,355.2 517,354.8 520,354.6 523,355.1 526,354.6 529,354.7 532,354.7 535,355.5 538,355.4 541,354.8 544,354.4 547,355.0 550,354.9 553,355.0 556,355.1 559,354.8 562,355.2 565,355.2 568,355.0 571,354.8 574,354.7 577,355.1 580,354.5 583,354.8 586,354.6 589,354.4 592,355.1 595,354.9 598,354.9 601,355.2 604,354.4 607,354.9 610,355.0 613,355.2 616,354.5 619,355.2 622,355.0 625,355.4 628,355.3 631,355.1 634,355.7 637,354.9 640,354.8 643,354.8 646,354.6 649,354.9 652,354.2 655,354.9 658,355.0 661,355.2 664,354.8 667,355.4 670,354.7 673,354.9 676,354.2 679,354.6 682,354.6 685,355.4 688,355.1 691,354.5 694,355.1 697,355.1 700,354.8 703,354.9 706,354.8 709,354.7 712,354.3 715,354.9 718,355.3 721,355.4 724,354.8 727,354.6 730,354.8 733,355.2 736,355.0 739,354.7 742,355.0 745,354.8 748,355.1 751,354.8 754,354.4 757,354.9 760,355.2 763,354.5 766,354.9 769,355.2 772,354.8 775,354.7 778,355.6 781,355.2 784,355.3 787,354.6 790,355.5 793,354.3 796,354.7 799,355.2 802,355.4 805,354.6 808,354.7 811,355.0 814,354.2 817,355.1 820,355.1 823,354.7 826,355.1 829,355.2 832,355.0 835,355.1 838,355.4 841,354.7 844,355.0 847,354.7 850,355.3 853,354.8 856,355.1 859,354.9 862,354.9 865,355.5 868,354.9 871,355.4 874,355.2 877,355.3 880,354.8 883,355.2 886,355.2 889,354.7 892,355.0 895,354.9 898,354.9 901,355.3 904,354.7 907,354.3 910,354.3 913,354.7 916,354.7 919,354.9 922,355.1 925,355.5 928,355.0 931,355.1 934,354.7 937,355.1 940,355.4 943,355.4 946,354.2 949,355.2 952,355.4 955,355.2 958,354.4 961,354.8 964,355.1 967,355.0 970,354.6 973,354.6 976,355.2 979,354.5 982,355.4 985,354.9 988,355.0 991,354.5 994,354.7"/><polyline points="1014,355.1 1017,354.4 1020,355.6 1023,354.4 1026,354.5 1029,354.9 1032,355.1 1035,355.1 1038,354.8"/><polyline points="1063,354.8 1066,354.8 1069,354.7 1072,354.0 1075,355.2 1078,355.0 1081,355.0 1084,354.7 1087,355.0 1090,354.9 1093,354.9 1096,355.3 1099,354.3 1102,355.0 1105,354.5 1108,354.8 1111,355.4 1114,354.5 1117,354.9 1120,354.7 1123,355.2 1126,354.6 1129,354.3 1132,355.1 1135,354.8 1138,354.8 1141,355.3 1144,354.6 1147,354.8 1150,354.9 1153,355.0 1156,354.7 1159,355.2 1162,355.7 1165,354.8 1168,355.5 1171,354.2"/><polyline points="1179,355.4 1182,354.8 1185,354.9 1188,354.8 1191,354.7 1194,354.5 1197,354.8 1200,355.3 1203,355.3 1206,354.8 1209,354.7 1212,354.7 1215,354.5 1218,355.5 1221,355.1 1224,354.9 1227,354.7 1230,354.6"/><polyline points="226,381.5 229,381.3 232,380.7 235,381.4 238,380.7 241,381.3 244,380.7 247,380.9 250,381.2 253,381.2 256,381.4 259,380.8 262,381.6 265,381.5 268,381.1 271,381.2 274,380.8 277,381.0 280,380.6 283,381.1 286,381.1 289,381.5 292,381.4 295,381.3 298,380.9 301,381.0 304,381.0 307,381.1 310,380.4 313,381.3 316,380.5 319,380.9 322,381.1 325,380.9 328,381.6 331,381.0 334,381.6 337,381.5 340,380.9 343,381.2 346,381.5 349,381.0 352,381.1 355,380.9 358,381.1"/><polyline points="363,381.0 366,381.1 369,381.4 372,381.5 375,381.1 378,381.1 381,381.4 384,381.0 387,380.7 390,381.4"/><polyline points="394,380.8 397,381.4 400,380.7 403,381.7 406,380.7 409,381.4 412,381.6 415,380.7 418,381.6 421,380.8 424,380.5 427,381.3 430,381.3 433,381.0 436,380.2 439,381.1 442,381.0 445,380.9 448,381.0 451,380.5 454,380.9 457,381.7 460,381.6 463,380.9 466,380.8 469,381.2 472,381.4 475,381.3 478,380.7 481,381.1 484,381.1 487,381.6 490,381.5 493,381.2 496,381.5 499,380.9 502,381.6 505,380.9 508,381.2 511,381.4 514,380.8 517,380.8 520,380.5 523,381.1 526,381.1 529,381.0 532,381.2 535,380.4 538,381.1 541,381.1 544,381.0 547,381.3 550,381.7 553,380.9 556,380.8 559,380.9 562,381.1 565,381.3 568,380.8 571,381.4 574,380.7 577,381.3 580,381.2 583,381.2 586,381.8 589,381.0 592,381.0 595,381.2 598,381.4 601,380.6 604,381.2 607,380.8 610,381.3 613,381.5 616,381.1 619,381.0 622,381.1 625,380.1 628,381.3 631,381.3 634,381.1 637,380.9 640,380.8 643,381.0 646,381.5 649,381.0 652,381.5 655,380.2 658,380.9 661,381.2 664,381.1 667,380.5 670,380.8 673,381.5 676,380.6 679,380.7 682,380.7 685,380.9 688,381.3 691,381.3 694,380.4 697,381.6 700,380.9 703,380.9 706,381.6 709,381.0 712,380.7 715,380.9 718,380.8 721,380.7 724,381.0 727,381.4 730,381.2 733,380.6 736,382.0 739,380.7 742,381.1 745,381.1 748,381.3 751,381.0 754,381.2 757,381.8 760,381.1 763,380.7 766,381.2 769,380.8 772,380.9 775,381.1 778,381.2 781,381.0 784,381.4 787,381.0 790,380.6 793,381.4 796,380.9 799,381.5 802,380.9 805,381.3 808,381.2 811,380.2 814,380.6 817,380.7 820,381.5 823,380.4 826,381.4 829,381.4 832,381.2 835,381.3 838,380.9 841,381.1 844,381.1 847,381.2 850,381.3 853,381.0 856,380.8 859,380.9 862,381.2 865,380.5 868,380.6 871,380.9 874,380.9 877,381.0 880,380.2 883,381.0 886,381.0 889,381.3 892,380.4 895,381.0 898,381.2 901,381.2 904,381.5 907,381.4 910,380.7 913,381.3 916,381.0 919,380.8 922,381.6 925,380.9 928,380.8 931,380.9 934,380.8 937,381.4 940,381.2 943,381.5 946,381.2 949,380.9 952,381.4 955,380.8 958,380.9 961,381.0 964,381.1 967,381.5 970,380.9 973,381.2 976,381.1 979,380.6 982,380.7 985,381.0 988,381.2 991,381.2 994,381.2"/><polyline points="1014,381.1 1017,380.9 1020,381.2 1023,380.7 1026,380.6 1029,381.0 1032,380.6 1035,380.9 1038,380.8"/><polyline points="1063,380.9 1066,381.1 1069,380.8 1072,380.9 1075,380.5 1078,381.1 1081,380.8 1084,381.2 1087,380.1 1090,380.8 1093,381.2 1096,380.2 1099,380.9 1102,381.1 1105,381.1 1108,380.6 1111,381.1 1114,381.1 1117,380.7 1120,381.3 1123,381.1 1126,381.1 1129,380.9 1132,381.3 1135,381.1 1138,381.5 1141,381.2 1144,380.9 1147,381.0 1150,381.4 1153,380.9 1156,381.2 1159,381.2 1162,381.0 1165,380.3 1168,381.1 1171,381.1"/><polyline points="1179,381.1 1182,380.8 1185,381.5 1188,381.0 1191,380.9 1194,380.8 1197,381.2 1200,380.7 1203,380.7 1206,381.7 1209,381.5 1212,381.4 1215,381.5 1218,381.3 1221,380.5 1224,381.5 1227,381.5 1230,381.2"/><polyline points="226,406.6 229,407.7 232,407.7 235,407.1 238,407.3 241,407.5 244,407.2 247,407.6 250,407.3 253,407.5 256,407.3 259,406.7 262,406.9 265,408.3 268,407.3 271,407.7 274,407.6 277,407.8 280,407.4 283,407.0 286,407.2 289,406.6 292,407.2 295,407.5 298,406.5 301,407.3 304,407.5 307,407.7 310,406.9 313,407.0 316,406.6 319,406.9 322,407.4 325,407.9 328,406.9 331,407.7 334,407.4 337,407.1 340,408.0 343,406.4 346,407.2 349,407.3 352,408.0 355,407.9 358,408.0"/><polyline points="363,407.3 366,407.6 369,407.7 372,407.4 375,407.4 378,407.2 381,407.1 384,406.8 387,407.9 390,407.1"/><polyline points="394,406.5 397,407.3 400,407.2 403,407.3 406,407.9 409,407.2 412,407.1 415,407.0 418,407.2 421,407.1 424,407.3 427,408.3 430,407.4 433,406.9 436,407.9 439,407.5 442,407.5 445,407.5 448,407.5 451,407.5 454,407.7 457,407.6 460,407.7 463,407.1 466,407.2 469,407.0 472,407.6 475,407.5 478,407.1 481,407.4 484,408.1 487,407.7 490,406.9 493,407.2 496,407.5 499,407.2 502,407.4 505,407.6 508,407.4 511,406.9 514,407.5 517,407.2 520,407.3 523,407.0 526,406.8 529,406.8 532,407.1 535,406.9 538,406.3 541,407.6 544,406.8 547,407.0 550,407.4 553,406.4 556,407.7 559,407.0 562,407.5 565,407.1 568,407.3 571,407.3 574,407.2 577,406.6 580,406.7 583,407.2 586,407.7 589,407.1 592,407.4 595,407.3 598,407.4 601,407.6 604,406.7 607,407.3 610,407.2 613,407.1 616,406.9 619,407.0 622,406.9 625,406.9 628,408.1 631,407.8 634,407.2 637,407.5 640,406.9 643,406.3 646,406.6 649,407.3 652,407.7 655,407.2 658,406.9 661,407.2 664,406.9 667,406.8 670,407.2 673,407.1 676,407.0 679,406.9 682,406.9 685,407.3 688,407.7 691,407.2 694,408.0 697,406.7 700,407.3 703,406.8 706,407.2 709,407.3 712,407.4 715,407.6 718,407.1 721,406.8 724,407.2 727,407.3 730,407.0 733,407.5 736,407.8 739,406.8 742,407.4 745,407.6 748,406.6 751,407.3 754,407.2 757,406.8 760,407.7 763,407.3 766,407.1 769,407.4 772,407.5 775,407.5 778,407.4 781,407.4 784,406.8 787,407.1 790,407.3 793,406.3 796,408.0 799,407.1 802,406.9 805,406.6 808,407.3 811,407.3 814,407.0 817,407.1 820,406.9 823,407.0 826,407.2 829,407.0 832,407.5 835,407.2 838,407.3 841,407.4 844,407.7 847,407.4 850,407.3 853,407.2 856,407.0 859,407.1 862,407.5 865,407.3 868,407.1 871,406.8 874,406.7 877,407.3 880,407.6 883,407.4 886,406.8 889,407.2 892,407.3 895,406.9 898,407.4 901,407.2 904,407.0 907,406.8 910,407.5 913,407.4 916,406.9 919,406.9 922,407.5 925,407.4 928,407.1 931,407.8 934,407.1 937,406.9 940,407.6 943,407.2 946,407.4 949,407.3 952,406.9 955,406.8 958,407.2 961,407.7 964,406.9 967,407.7 970,407.3 973,406.9 976,407.3 979,407.4 982,406.9 985,406.5 988,407.4 991,406.9 994,407.4"/><polyline points="1014,406.6 1017,407.2 1020,407.0 1023,406.7 1026,407.2 1029,407.3 1032,407.1 1035,406.8 1038,407.3"/><polyline points="1063,406.6 1066,407.4 1069,407.4 1072,407.8 1075,407.5 1078,407.4 1081,407.3 1084,407.2 1087,406.8 1090,407.7 1093,407.4 1096,407.1 1099,406.9 1102,407.7 1105,407.4 1108,406.8 1111,407.5 1114,407.9 1117,407.2 1120,407.4 1123,407.1 1126,407.0 1129,407.6 1132,408.3 1135,407.3 1138,407.2 1141,407.5 1144,407.1 1147,407.5 1150,407.5 1153,406.9 1156,406.9 1159,407.2 1162,407.5 1165,407.3 1168,407.7 1171,406.8"/><polyline points="1179,407.4 1182,407.0 1185,407.3 1188,407.3 1191,406.9 1194,407.2 1197,406.8 1200,407.3 1203,407.0 1206,407.1 1209,407.3 1212,407.0 1215,407.6 1218,407.0 1221,407.5 1224,407.3 1227,406.9 1230,407.2"/><polyline points="226,433.1 229,433.3 232,433.3 235,434.0 238,433.3 241,433.9 244,433.6 247,433.0 250,432.6 253,433.6 256,432.7 259,433.7 262,433.8 265,433.5 268,433.3 271,433.3 274,433.5 277,433.3 280,433.2 283,433.3 286,433.8 289,433.2 292,433.5 295,433.0 298,433.2 301,432.9 304,433.3 307,433.6 310,433.5 313,433.2 316,433.6 319,433.3 322,433.5 325,433.5 328,433.6 331,432.6 334,433.0 337,433.7 340,433.4 343,434.2 346,433.3 349,433.2 352,433.9 355,433.6 358,434.1"/><polyline points="363,433.6 366,433.3 369,433.7 372,433.1 375,433.3 378,433.2 381,433.3 384,433.7 387,433.2 390,433.5"/><polyline points="394,433.2 397,433.7 400,432.5 403,433.3 406,433.5 409,433.0 412,433.8 415,433.5 418,433.8 421,433.7 424,433.6 427,433.4 430,433.0 433,433.3 436,433.3 439,433.5 442,433.3 445,434.4 448,432.9 451,433.8 454,433.3 457,433.3 460,433.7 463,433.4 466,433.0 469,433.5 472,433.3 475,432.7 478,433.5 481,433.1 484,433.2 487,433.6 490,433.5 493,433.3 496,434.1 499,433.6 502,433.2 505,433.5 508,433.4 511,432.7 514,432.9 517,432.9 520,434.1 523,433.3 526,433.3 529,433.2 532,433.7 535,433.4 538,434.0 541,433.7 544,434.0 547,433.4 550,433.5 553,433.3 556,433.4 559,432.8 562,433.2 565,433.1 568,433.2 571,433.8 574,433.5 577,433.8 580,433.7 583,433.7 586,433.7 589,433.2 592,433.7 595,433.3 598,433.2 601,433.8 604,434.1 607,433.1 610,434.0 613,433.7 616,433.1 619,433.5 622,433.5 625,433.5 628,433.3 631,433.0 634,433.4 637,433.7 640,433.7 643,433.6 646,433.8 649,433.1 652,433.4 655,433.5 658,433.7 661,433.5 664,433.6 667,433.5 670,434.1 673,432.7 676,433.4 679,434.2 682,433.5 685,432.8 688,433.5 691,432.9 694,433.2 697,433.5 700,434.0 703,433.6 706,433.6 709,433.8 712,433.5 715,433.1 718,433.4 721,433.5 724,433.3 727,433.2 730,433.3 733,432.9 736,433.1 739,433.4 742,433.3 745,433.4 748,433.9 751,433.5 754,433.4 757,433.0 760,433.0 763,433.5 766,433.1 769,433.6 772,433.0 775,433.5 778,433.4 781,433.7 784,433.3 787,433.3 790,433.5 793,433.4 796,434.0 799,433.3 802,433.2 805,433.3 808,433.6 811,433.5 814,433.6 817,432.9 820,434.2 823,434.0 826,433.4 829,433.0 832,433.5 835,433.5 838,432.7 841,433.4 844,432.9 847,433.6 850,433.9 853,433.8 856,432.9 859,433.9 862,433.7 865,433.3 868,433.6 871,433.9 874,433.3 877,433.4 880,433.2 883,433.8 886,432.7 889,433.9 892,433.1 895,433.7 898,432.9 901,433.1 904,433.2 907,433.7 910,432.9 913,433.6 916,433.2 919,433.8 922,433.3 925,433.6 928,433.4 931,434.0 934,433.3 937,433.4 940,434.1 943,433.4 946,433.6 949,433.2 952,433.5 955,432.6 958,433.4 961,433.2 964,432.9 967,432.9 970,433.8 973,433.6 976,432.9 979,434.0 982,433.2 985,433.3 988,433.5 991,433.0 994,432.9"/><polyline points="1014,433.2 1017,433.8 1020,433.7 1023,432.9 1026,433.8 1029,433.4 1032,433.6 1035,433.4 1038,433.5"/><polyline points="1063,433.1 1066,433.1 1069,433.2 1072,433.3 1075,433.6 1078,433.0 1081,433.9 1084,433.2 1087,433.2 1090,433.6 1093,433.6 1096,433.3 1099,433.0 1102,433.1 1105,432.9 1108,433.8 1111,433.8 1114,434.0 1117,433.6 1120,433.5 1123,433.7 1126,433.7 1129,433.3 1132,433.5 1135,434.1 1138,432.8 1141,432.9 1144,433.1 1147,433.7 1150,433.8 1153,433.3 1156,433.6 1159,433.4 1162,433.5 1165,433.2 1168,433.4 1171,433.4"/><polyline points="1179,433.8 1182,434.2 1185,432.8 1188,433.6 1191,433.4 1194,433.7 1197,433.8 1200,433.7 1203,433.7 1206,433.1 1209,432.8 1212,434.0 1215,433.8 1218,433.1 1221,433.8 1224,433.6 1227,432.6 1230,433.7"/><polyline points="226,459.2 229,460.0 232,459.4 235,459.3 238,459.1 241,459.5 244,459.9 247,459.4 250,459.0 253,460.3 256,460.2 259,459.8 262,459.4 265,459.2 268,459.0 271,459.8 274,460.0 277,459.2 280,459.6 283,459.5 286,459.5 289,459.7 292,460.3 295,459.4 298,459.9 301,459.9 304,459.5 307,459.5 310,459.1 313,459.9 316,459.4 319,459.4 322,459.6 325,459.3 328,459.2 331,459.5 334,460.1 337,459.5 340,459.8 343,459.1 346,458.9 349,460.2 352,459.4 355,459.1 358,459.5"/><polyline points="363,459.8 366,459.0 369,459.3 372,459.7 375,459.3 378,459.8 381,459.9 384,459.7 387,459.4 390,459.6"/><polyline points="394,459.4 397,459.5 400,459.7 403,459.5 406,459.9 409,460.5 412,459.4 415,459.7 418,459.9 421,459.8 424,459.5 427,459.4 430,459.9 433,459.8 436,459.8 439,459.3 442,459.8 445,459.8 448,459.5 451,459.8 454,460.3 457,458.9 460,459.8 463,459.2 466,459.1 469,459.5 472,459.8 475,459.6 478,459.2 481,459.1 484,459.4 487,459.6 490,459.3 493,459.1 496,460.2 499,459.3 502,459.5 505,459.4 508,459.4 511,459.6 514,459.5 517,459.8 520,459.2 523,459.1 526,460.2 529,459.6 532,459.8 535,460.0 538,459.8 541,459.6 544,459.1 547,459.0 550,459.9 553,459.8 556,459.8 559,459.0 562,458.9 565,459.2 568,459.2 571,459.6 574,459.2 577,460.1 580,459.4 583,459.4 586,459.9 589,459.7 592,459.3 595,459.9 598,460.2 601,459.2 604,459.5 607,459.2 610,458.9 613,459.8 616,459.8 619,459.9 622,459.7 625,458.9 628,459.6 631,459.4 634,459.2 637,459.2 640,459.8 643,459.5 646,460.2 649,459.7 652,458.9 655,459.9 658,460.0 661,459.6 664,459.2 667,460.2 670,459.1 673,459.6 676,458.9 679,459.2 682,459.0 685,460.0 688,460.0 691,459.4 694,459.1 697,459.6 700,459.7 703,459.1 706,459.2 709,459.5 712,459.8 715,459.6 718,459.7 721,459.2 724,458.7 727,459.7 730,459.3 733,459.5 736,459.5 739,459.7 742,459.3 745,460.1 748,459.6 751,459.8 754,459.8 757,459.9 760,459.7 763,459.0 766,459.4 769,460.2 772,459.7 775,459.8 778,459.7 781,459.4 784,459.3 787,459.4 790,460.0 793,459.7 796,460.2 799,459.8 802,460.2 805,459.7 808,459.2 811,460.2 814,459.7 817,460.0 820,459.7 823,459.5 826,459.6 829,459.2 832,459.2 835,459.3 838,459.4 841,459.1 844,459.5 847,459.7 850,460.3 853,460.2 856,459.6 859,459.9 862,459.5 865,459.7 868,459.6 871,459.4 874,459.6 877,459.1 880,459.7 883,459.5 886,459.2 889,459.5 892,459.8 895,459.3 898,459.7 901,459.8 904,460.1 907,459.2 910,459.5 913,459.8 916,460.1 919,459.7 922,459.8 925,459.1 928,459.4 931,460.2 934,459.5 937,460.3 940,459.3 943,459.5 946,459.0 949,459.8 952,459.7 955,460.3 958,459.6 961,459.5 964,459.1 967,459.6 970,459.9 973,459.8 976,460.0 979,459.9 982,459.6 985,459.8 988,459.6 991,459.1 994,460.2"/><polyline points="1014,459.7 1017,459.2 1020,459.7 1023,459.7 1026,459.9 1029,460.1 1032,458.5 1035,459.8 1038,460.1"/><polyline points="1063,459.3 1066,458.9 1069,459.7 1072,459.7 1075,459.7 1078,459.2 1081,459.4 1084,459.6 1087,459.8 1090,460.3 1093,459.7 1096,459.4 1099,458.8 1102,460.0 1105,459.5 1108,459.5 1111,459.2 1114,459.8 1117,459.0 1120,459.6 1123,459.6 1126,459.7 1129,460.0 1132,459.5 1135,459.6 1138,459.9 1141,459.0 1144,459.5 1147,459.6 1150,459.9 1153,459.3 1156,459.9 1159,459.7 1162,459.1 1165,459.1 1168,459.1 1171,459.6"/><polyline points="1179,459.7 1182,459.8 1185,459.9 1188,459.4 1191,460.0 1194,459.9 1197,459.7 1200,459.7 1203,459.1 1206,459.7 1209,459.2 1212,459.2 1215,459.5 1218,459.6 1221,459.6 1224,459.5 1227,459.2 1230,459.6"/><polyline points="226,485.5 229,485.3 232,485.8 235,486.3 238,485.6 241,485.4 244,486.2 247,486.3 250,485.6 253,485.7 256,485.8 259,486.8 262,485.8 265,486.1 268,485.9 271,485.1 274,485.4 277,485.3 280,485.9 283,485.8 286,486.4 289,485.7 292,485.9 295,485.8 298,485.8 301,486.6 304,485.8 307,486.3 310,486.2 313,485.5 316,486.0 319,485.6 322,485.8 325,485.8 328,485.8 331,485.6 334,486.3 337,485.7 340,486.0 343,486.3 346,486.0 349,486.1 352,486.2 355,486.1 358,486.3"/><polyline points="363,485.3 366,486.4 369,485.8 372,485.1 375,485.5 378,485.3 381,485.7 384,485.2 387,485.4 390,485.9"/><polyline points="394,485.8 397,485.5 400,485.7 403,485.7 406,485.8 409,485.7 412,485.7 415,486.1 418,485.2 421,485.6 424,485.8 427,485.6 430,485.6 433,485.6 436,485.8 439,486.2 442,485.7 445,485.7 448,485.9 451,485.7 454,485.1 457,485.8 460,485.6 463,485.5 466,486.0 469,485.8 472,485.6 475,485.0 478,485.1 481,485.8 484,485.7 487,485.9 490,485.8 493,485.6 496,485.3 499,485.4 502,485.7 505,485.3 508,486.0 511,485.3 514,485.1 517,485.7 520,485.1 523,486.3 526,485.4 529,485.7 532,485.7 535,485.5 538,485.1 541,485.1 544,486.1 547,486.1 550,486.5 553,485.2 556,485.9 559,485.7 562,486.0 565,485.6 568,486.0 571,486.1 574,486.0 577,486.3 580,485.7 583,486.3 586,485.5 589,486.3 592,484.8 595,485.8 598,485.5 601,485.8 604,486.1 607,486.0 610,485.8 613,486.3 616,485.2 619,485.5 622,486.3 625,485.9 628,485.0 631,485.9 634,485.3 637,486.3 640,486.2 643,485.6 646,486.2 649,485.5 652,486.1 655,486.0 658,485.7 661,485.3 664,485.7 667,484.9 670,485.6 673,485.1 676,486.2 679,485.4 682,484.9 685,486.0 688,485.9 691,485.6 694,486.5 697,486.0 700,485.8 703,485.5 706,484.7 709,485.9 712,486.1 715,485.5 718,485.3 721,485.7 724,485.2 727,485.8 730,486.0 733,486.3 736,485.8 739,485.8 742,486.0 745,486.2 748,485.6 751,485.3 754,485.5 757,485.3 760,485.4 763,485.7 766,485.9 769,485.8 772,485.8 775,485.6 778,485.9 781,486.1 784,486.0 787,486.3 790,485.6 793,485.7 796,486.3 799,485.8 802,485.9 805,485.6 808,486.1 811,485.6 814,485.4 817,485.7 820,485.6 823,486.0 826,485.6 829,485.8 832,485.7 835,485.9 838,485.5 841,486.1 844,485.3 847,485.6 850,485.5 853,486.0 856,485.8 859,485.9 862,485.6 865,485.5 868,485.4 871,485.6 874,485.6 877,485.8 880,485.9 883,486.1 886,485.7 889,485.5 892,485.4 895,485.8 898,485.9 901,486.4 904,485.8 907,486.4 910,486.4 913,485.4 916,486.2 919,486.1 922,486.2 925,485.7 928,486.1 931,485.6 934,485.7 937,485.8 940,486.4 943,485.7 946,486.1 949,485.8 952,485.5 955,485.8 958,486.0 961,485.5 964,486.0 967,485.5 970,485.4 973,485.8 976,485.7 979,485.4 982,485.2 985,485.8 988,485.8 991,485.6 994,485.8"/><polyline points="1014,485.2 1017,485.9 1020,485.9 1023,485.8 1026,485.5 1029,485.8 1032,485.8 1035,486.1 1038,485.8"/><polyline points="1063,485.8 1066,485.5 1069,486.1 1072,486.2 1075,485.6 1078,486.0 1081,485.9 1084,485.7 1087,485.3 1090,486.4 1093,485.1 1096,485.9 1099,485.6 1102,486.2 1105,485.6 1108,485.8 1111,486.0 1114,485.9 1117,485.6 1120,486.0 1123,485.9 1126,486.1 1129,485.6 1132,485.7 1135,485.6 1138,485.5 1141,485.8 1144,485.9 1147,486.2 1150,485.6 1153,485.9 1156,486.1 1159,485.7 1162,485.8 1165,485.8 1168,485.5 1171,485.4"/><polyline points="1179,486.1 1182,485.8 1185,485.7 1188,485.3 1191,485.8 1194,486.2 1197,485.3 1200,485.4 1203,486.1 1206,486.2 1209,486.3 1212,485.6 1215,486.0 1218,485.5 1221,485.9 1224,485.6 1227,485.8 1230,486.2"/><polyline points="226,512.0 229,511.8 232,511.9 235,512.0 238,511.7 241,512.0 244,512.1 247,512.5 250,511.2 253,511.5 256,511.5 259,512.2 262,512.8 265,512.0 268,512.0 271,512.3 274,511.1 277,511.9 280,510.8 283,512.0 286,511.7 289,511.8 292,512.0 295,511.7 298,512.3 301,511.9 304,512.1 307,512.8 310,511.8 313,512.2 316,511.6 319,512.4 322,512.3 325,512.0 328,512.3 331,512.5 334,512.4 337,511.9 340,511.9 343,512.3 346,511.4 349,511.7 352,512.1 355,512.1 358,512.6"/><polyline points="363,512.5 366,512.0 369,512.1 372,511.5 375,511.9 378,512.0 381,511.8 384,511.9 387,512.1 390,511.6"/><polyline points="394,511.7 397,511.3 400,512.3 403,511.6 406,511.3 409,512.2 412,511.8 415,512.3 418,511.8 421,512.7 424,512.2 427,512.0 430,512.0 433,511.8 436,512.2 439,512.6 442,511.8 445,511.5 448,512.1 451,512.3 454,511.4 457,511.7 460,511.6 463,512.1 466,512.1 469,511.7 472,511.5 475,512.2 478,511.2 481,512.1 484,511.9 487,512.6 490,512.3 493,511.7 496,511.8 499,511.8 502,511.7 505,511.9 508,512.3 511,511.4 514,511.8 517,512.4 520,512.2 523,511.6 526,511.6 529,511.6 532,511.4 535,512.3 538,511.9 541,511.7 544,511.4 547,511.8 550,511.7 553,512.5 556,511.8 559,512.0 562,512.3 565,512.2 568,511.9 571,511.2 574,512.4 577,512.1 580,511.8 583,511.9 586,511.6 589,511.6 592,511.4 595,512.1 598,512.1 601,512.0 604,512.2 607,512.1 610,512.0 613,511.6 616,512.1 619,512.3 622,512.1 625,512.3 628,511.8 631,511.6 634,512.4 637,511.7 640,512.0 643,511.9 646,511.9 649,511.8 652,511.7 655,511.3 658,512.6 661,512.0 664,511.3 667,511.6 670,511.5 673,511.7 676,511.0 679,512.1 682,512.5 685,511.8 688,512.2 691,512.1 694,511.5 697,512.3 700,511.3 703,511.7 706,511.8 709,512.4 712,512.0 715,511.9 718,511.6 721,512.0 724,511.9 727,512.2 730,512.4 733,512.2 736,511.9 739,511.9 742,512.5 745,512.0 748,511.9 751,512.5 754,512.5 757,512.1 760,511.9 763,511.7 766,512.3 769,511.8 772,512.2 775,511.7 778,512.0 781,512.1 784,512.0 787,512.0 790,512.1 793,511.5 796,511.5 799,511.9 802,512.5 805,511.9 808,511.6 811,511.7 814,511.9 817,512.3 820,511.7 823,512.1 826,512.0 829,511.8 832,511.6 835,511.9 838,511.7 841,512.1 844,511.3 847,512.3 850,512.2 853,512.1 856,512.4 859,512.1 862,511.3 865,511.9 868,512.1 871,511.7 874,511.5 877,512.1 880,512.1 883,511.8 886,511.8 889,511.7 892,511.7 895,511.9 898,512.3 901,511.4 904,511.8 907,512.5 910,512.0 913,512.0 916,512.2 919,511.6 922,511.5 925,511.4 928,511.4 931,512.0 934,512.2 937,511.8 940,511.7 943,512.1 946,512.1 949,512.0 952,511.3 955,511.7 958,511.1 961,512.0 964,511.6 967,511.7 970,512.4 973,512.4 976,512.1 979,512.0 982,512.0 985,511.7 988,511.9 991,512.6 994,511.6"/><polyline points="1014,511.7 1017,512.0 1020,512.2 1023,512.2 1026,511.6 1029,511.9 1032,511.8 1035,511.5 1038,511.9"/><polyline points="1063,511.8 1066,512.2 1069,512.1 1072,511.7 1075,511.9 1078,511.8 1081,511.7 1084,511.8 1087,512.3 1090,511.8 1093,511.3 1096,511.7 1099,512.2 1102,512.7 1105,511.6 1108,511.8 1111,511.8 1114,511.4 1117,512.1 1120,511.9 1123,512.0 1126,512.7 1129,511.8 1132,512.2 1135,512.2 1138,511.7 1141,511.7 1144,512.5 1147,512.2 1150,512.0 1153,511.5 1156,512.2 1159,512.1 1162,512.7 1165,512.4 1168,512.2 1171,512.0"/><polyline points="1179,511.9 1182,511.7 1185,512.0 1188,512.0 1191,512.1 1194,512.3 1197,512.0 1200,511.7 1203,512.2 1206,512.4 1209,511.6 1212,512.1 1215,512.1 1218,512.1 1221,512.1 1224,511.9 1227,511.9 1230,512.5"/></g>
<g fill="none" stroke="#000" stroke-opacity="0.4" stroke-width="2.2" stroke-linejoin="round"><polyline points="225,147.5 228,146.3 231,145.8 234,147.0 237,146.5 240,146.6 243,146.2 246,146.9 249,146.8 252,146.6 255,147.1 258,147.7 261,147.4 264,147.3 267,146.6 270,147.1 273,146.8 276,147.2 279,147.0 282,146.8 285,147.0 288,146.5 291,147.1 294,147.4 297,146.7 300,147.0 303,146.2 306,147.2 309,147.1 312,146.4 315,147.5 318,146.8 321,146.1 324,146.3 327,147.1 330,146.7 333,147.2 336,146.2 339,146.8 342,147.2 345,146.5 348,147.1 351,146.7 354,146.9 357,146.9 360,147.7"/><polyline points="362,146.3 365,147.1 368,147.3 371,146.4 374,146.8 377,147.7 380,147.2 383,145.6 386,146.7 389,146.1"/><polyline points="393,146.9 396,146.5 399,146.6 402,146.5 405,146.9 408,146.6 411,146.4 414,146.7 417,147.0 420,146.5 423,147.2 426,146.2 429,147.0 432,146.6 435,147.4 438,146.6 441,146.5 444,146.3 447,147.6 450,147.0 453,146.4 456,146.7 459,146.4 462,147.4 465,147.0 468,146.0 471,146.9 474,147.2 477,146.8 480,147.0 483,146.8 486,146.9 489,146.9 492,146.5 495,146.9 498,146.9 501,146.8 504,146.5 507,146.4 510,146.9 513,147.1 516,145.9 519,146.6 522,147.3 525,147.2 528,146.5 531,147.3 534,146.4 537,146.5 540,147.6 543,146.6 546,146.7 549,146.2 552,146.4 555,146.3 558,146.7 561,146.1 564,147.2 567,146.7 570,146.6 573,146.6 576,147.1 579,147.4 582,146.6 585,147.4 588,147.4 591,147.3 594,146.9 597,146.2 600,147.1 603,146.6 606,146.9 609,146.1 612,146.7 615,146.9 618,146.4 621,146.9 624,147.5 627,146.9 630,146.5 633,147.7 636,146.0 639,146.4 642,147.0 645,146.6 648,145.9 651,146.9 654,147.1 657,146.5 660,147.4 663,147.0 666,147.3 669,146.2 672,146.8 675,147.4 678,147.6 681,147.3 684,146.8 687,146.9 690,146.6 693,147.2 696,146.5 699,146.8 702,146.0 705,146.2 708,147.5 711,146.8 714,146.9 717,145.9 720,146.8 723,147.6 726,146.2 729,145.9 732,146.7 735,146.6 738,146.7 741,146.3 744,146.3 747,146.3 750,147.1 753,146.8 756,147.1 759,146.4 762,147.0 765,146.6 768,146.8 771,147.2 774,146.8 777,146.7 780,146.1 783,146.8 786,147.1 789,146.6 792,146.8 795,146.1 798,146.3 801,147.0 804,147.3 807,146.7 810,146.1 813,146.7 816,146.2 819,146.7 822,147.6 825,146.9 828,146.7 831,147.2 834,146.7 837,146.9 840,146.9 843,147.0 846,146.2 849,147.1 852,147.1 855,145.9 858,145.7 861,146.4 864,147.4 867,146.8 870,147.1 873,147.0 876,147.1 879,146.5 882,146.6 885,146.9 888,147.0 891,147.0 894,146.9 897,146.6 900,147.2 903,147.0 906,147.2 909,145.8 912,147.2 915,145.8 918,146.9 921,146.5 924,146.8 927,146.6 930,146.7 933,146.9 936,146.9 939,146.5 942,145.8 945,146.5 948,147.0 951,146.5 954,147.0 957,146.7 960,146.4 963,147.3 966,147.5 969,146.8 972,146.8 975,147.2 978,146.3 981,146.5 984,147.2 987,147.2 990,146.6 993,146.5"/><polyline points="1013,146.9 1016,146.2 1019,146.6 1022,146.7 1025,145.8 1028,147.0 1031,147.1 1034,147.2 1037,146.2 1040,146.3"/><polyline points="1062,146.5 1065,146.3 1068,147.6 1071,146.4 1074,146.7 1077,146.9 1080,147.0 1083,147.4 1086,146.4 1089,147.1 1092,146.9 1095,146.3 1098,146.9 1101,146.2 1104,147.4 1107,146.5 1110,147.2 1113,147.3 1116,146.6 1119,146.4 1122,146.9 1125,146.4 1128,147.2 1131,146.9 1134,146.5 1137,146.5 1140,147.1 1143,146.2 1146,147.5 1149,146.5 1152,146.7 1155,146.4 1158,147.4 1161,147.1 1164,147.3 1167,147.1 1170,146.8 1173,147.5"/><polyline points="1178,147.1 1181,147.0 1184,147.0 1187,147.1 1190,146.9 1193,146.7 1196,146.2 1199,147.6 1202,146.3 1205,145.9 1208,146.5 1211,147.6 1214,147.3 1217,146.6 1220,146.9 1223,146.8 1226,146.0 1229,146.7 1232,146.9"/><polyline points="225,538.0 228,537.0 231,536.6 234,536.9 237,537.6 240,537.5 243,537.6 246,537.6 249,537.4 252,537.0 255,537.7 258,537.7 261,537.7 264,538.0 267,537.0 270,536.6 273,536.8 276,538.4 279,537.1 282,537.7 285,537.5 288,537.8 291,538.8 294,537.3 297,537.4 300,537.3 303,537.6 306,537.7 309,537.1 312,538.0 315,538.0 318,537.7 321,537.5 324,537.4 327,536.8 330,537.8 333,537.1 336,537.3 339,537.9 342,537.1 345,537.3 348,537.8 351,538.2 354,537.2 357,537.9 360,537.2"/><polyline points="362,537.7 365,537.7 368,537.0 371,537.9 374,538.2 377,537.5 380,537.6 383,537.0 386,538.2 389,537.5"/><polyline points="393,537.0 396,537.8 399,536.9 402,537.2 405,536.6 408,538.1 411,538.4 414,537.2 417,537.2 420,537.3 423,537.3 426,537.7 429,538.1 432,537.1 435,537.7 438,536.8 441,538.1 444,537.5 447,537.2 450,538.1 453,537.5 456,538.0 459,537.9 462,538.2 465,537.2 468,537.5 471,537.6 474,537.4 477,538.1 480,537.2 483,537.9 486,538.0 489,536.7 492,537.1 495,537.1 498,537.3 501,537.7 504,537.4 507,537.5 510,537.3 513,537.5 516,537.7 519,537.8 522,537.2 525,537.5 528,537.2 531,537.4 534,536.9 537,537.9 540,537.8 543,537.5 546,537.2 549,537.3 552,537.2 555,536.9 558,538.2 561,538.8 564,537.0 567,537.0 570,537.7 573,537.7 576,536.9 579,536.7 582,537.7 585,536.7 588,538.1 591,537.3 594,537.5 597,537.5 600,537.3 603,537.4 606,537.4 609,538.0 612,537.5 615,537.5 618,537.3 621,537.2 624,537.2 627,537.5 630,538.2 633,537.9 636,537.6 639,538.2 642,537.9 645,537.6 648,537.4 651,537.1 654,537.6 657,537.4 660,536.9 663,537.0 666,538.3 669,537.6 672,537.7 675,537.6 678,537.3 681,537.7 684,537.9 687,537.4 690,537.7 693,537.9 696,537.3 699,537.6 702,537.2 705,537.7 708,537.4 711,538.0 714,537.2 717,538.2 720,537.4 723,537.2 726,537.1 729,537.8 732,537.2 735,538.2 738,538.0 741,537.7 744,536.9 747,537.5 750,537.2 753,536.8 756,537.7 759,538.4 762,537.3 765,537.8 768,538.0 771,537.1 774,537.4 777,537.6 780,537.7 783,537.0 786,537.6 789,537.5 792,537.9 795,536.9 798,537.3 801,537.3 804,537.4 807,537.8 810,537.2 813,538.6 816,537.2 819,537.8 822,537.9 825,537.9 828,537.4 831,537.2 834,537.4 837,537.8 840,537.5 843,537.7 846,537.7 849,537.1 852,537.1 855,538.1 858,537.3 861,536.9 864,538.2 867,537.2 870,537.1 873,537.9 876,537.0 879,537.2 882,537.9 885,537.2 888,538.5 891,537.5 894,538.6 897,537.6 900,537.5 903,537.2 906,537.4 909,537.3 912,537.5 915,537.8 918,537.0 921,537.1 924,536.7 927,538.1 930,537.5 933,537.5 936,537.5 939,537.9 942,537.6 945,537.8 948,537.4 951,537.5 954,537.5 957,536.8 960,537.9 963,536.9 966,537.1 969,537.8 972,537.5 975,537.8 978,538.2 981,538.2 984,538.1 987,537.4 990,538.3 993,537.1"/><polyline points="1013,537.5 1016,537.9 1019,537.4 1022,537.5 1025,537.4 1028,538.0 1031,536.5 1034,538.0 1037,537.9 1040,537.5"/><polyline points="1062,537.7 1065,537.1 1068,537.9 1071,538.7 1074,537.1 1077,538.1 1080,537.5 1083,537.4 1086,537.3 1089,537.4 1092,537.0 1095,537.0 1098,538.2 1101,537.5 1104,537.7 1107,537.6 1110,537.7 1113,536.9 1116,537.1 1119,537.8 1122,537.9 1125,537.0 1128,537.3 1131,537.1 1134,537.8 1137,537.6 1140,537.5 1143,537.2 1146,537.6 1149,537.5 1152,537.2 1155,537.6 1158,537.2 1161,537.9 1164,537.8 1167,537.2 1170,537.7 1173,537.5"/><polyline points="1178,537.2 1181,537.1 1184,536.8 1187,537.0 1190,537.6 1193,538.0 1196,537.2 1199,537.6 1202,537.6 1205,537.8 1208,537.7 1211,538.0 1214,537.8 1217,537.2 1220,537.7 1223,536.6 1226,537.4 1229,537.5 1232,537.7"/><polyline points="232,563.1"/><polyline points="237,563.5 240,563.7"/><polyline points="242,562.9 244,563.0 248,563.3"/><polyline points="278,563.4 282,563.3"/><polyline points="283,563.5"/><polyline points="308,562.7"/><polyline points="312,563.5 314,563.7 318,563.6"/><polyline points="322,563.4"/><polyline points="326,563.1 330,563.4"/><polyline points="344,563.2 348,562.6 350,563.0 354,563.2 356,563.0 360,562.8"/><polyline points="362,563.1 365,563.1 368,563.2"/><polyline points="370,563.2 374,563.3 376,563.6 380,563.3 382,563.4 386,562.7 388,562.0 392,563.0"/><polyline points="393,563.5 396,563.1 399,563.0"/><polyline points="402,562.7 405,563.6 408,563.0 411,563.3 414,563.7 417,563.4 420,564.1"/><polyline points="422,563.1 424,563.6"/><polyline points="428,563.5 432,562.9 434,563.2 438,563.0 440,562.8 444,563.3 446,562.9 450,563.9 452,562.9"/><polyline points="456,563.0 458,563.2"/><polyline points="460,563.0 464,563.2 466,563.0 470,562.6 472,562.2 476,562.7"/><polyline points="478,563.8"/><polyline points="482,563.4 486,563.3 488,563.0 492,563.1"/><polyline points="492,563.3 494,562.6"/><polyline points="496,562.9"/><polyline points="498,562.8"/><polyline points="502,563.7 506,562.8 508,563.7 512,563.0"/><polyline points="514,564.3"/><polyline points="518,563.2 522,563.2 524,563.7"/><polyline points="526,563.5 530,563.6 532,562.8"/><polyline points="534,563.7"/><polyline points="542,563.9 546,563.2 548,563.0"/><polyline points="554,562.8 558,563.6 560,563.3 564,563.2 566,562.7"/><polyline points="567,563.8"/><polyline points="569,563.6"/><polyline points="578,563.2 582,563.8"/><polyline points="584,562.8 586,563.6"/><polyline points="590,562.8 592,563.8 596,563.1"/><polyline points="600,563.7"/><polyline points="604,563.0"/><polyline points="608,563.4 612,563.7 614,562.8 618,563.2 620,562.9 624,563.5 626,563.0 630,563.1 632,563.1 636,563.7 638,562.8 642,563.2 644,563.1"/><polyline points="654,563.0 656,562.9"/><polyline points="664,563.1 668,563.3 670,562.6 674,563.3 676,562.7 680,563.2"/><polyline points="698,564.1 700,562.8 704,563.2 706,563.1 710,563.6 712,563.0 716,562.5 718,562.6"/><polyline points="728,563.3"/><polyline points="730,563.3 734,563.6"/><polyline points="734,563.0"/><polyline points="736,563.5"/><polyline points="740,562.8 742,563.7"/><polyline points="744,563.2 747,562.9 750,563.3"/><polyline points="752,563.9 754,562.9"/><polyline points="756,562.7"/><polyline points="758,562.8 762,562.7"/><polyline points="764,563.2"/><polyline points="766,563.3 769,563.1"/><polyline points="770,563.3 774,563.7 776,563.1"/><polyline points="778,562.7 782,562.3"/><polyline points="782,563.3 786,562.9"/><polyline points="788,563.1 790,563.4 794,563.4 796,562.6"/><polyline points="802,562.8 806,563.2"/><polyline points="818,563.1"/><polyline points="820,563.7 824,563.0"/><polyline points="828,562.4 830,563.7 834,562.5 836,562.8"/><polyline points="836,563.4 840,562.8 842,564.2"/><polyline points="842,563.3 846,563.4"/><polyline points="850,563.0"/><polyline points="854,564.1 856,563.4"/><polyline points="858,562.9 860,563.7 864,562.5 866,563.0 870,563.3 872,563.3 876,562.8 878,563.8 882,563.8 884,562.8 888,563.3 890,562.9 894,563.0 896,563.6 900,563.3 902,563.2 906,563.2 908,562.7"/><polyline points="914,563.7 918,562.9 920,563.7 924,563.0 926,563.0 930,563.8 932,563.3 936,562.9 938,563.0 942,563.4 944,563.9"/><polyline points="950,563.4 952,563.0 956,562.8 958,562.9 962,563.2 964,563.3 968,562.9 970,563.7 974,562.8 976,562.9"/><polyline points="980,563.4"/><polyline points="984,563.4 986,563.0"/><polyline points="990,563.6 992,562.6"/><polyline points="1012,563.9 1016,564.1 1018,564.0 1022,563.2 1024,564.0 1028,563.2 1030,563.7"/><polyline points="1032,563.1"/><polyline points="1034,563.3"/><polyline points="1037,563.4 1040,562.5"/><polyline points="1062,563.1 1064,563.9 1068,562.0 1070,563.4 1074,563.6"/><polyline points="1075,563.3"/><polyline points="1082,563.3 1086,563.8 1088,563.3"/><polyline points="1092,562.4 1094,562.8 1098,563.1 1100,563.3 1104,563.0 1106,563.2 1110,563.9"/><polyline points="1122,562.0 1124,563.7"/><polyline points="1128,563.6 1130,563.4 1134,563.2"/><polyline points="1136,563.2 1138,563.3 1142,563.3"/><polyline points="1160,562.9 1164,563.5"/><polyline points="1166,562.9 1169,563.2"/><polyline points="1178,563.1 1180,562.7"/><polyline points="1194,563.4"/><polyline points="1198,563.2"/><polyline points="1208,562.7 1212,563.2"/><polyline points="1214,562.6 1218,563.8 1220,563.4 1224,564.0"/><polyline points="1224,563.0 1228,563.5"/></g>
<g fill="#000" fill-opacity="0.33"><circle cx="307.8" cy="367.0" r="2"/><circle cx="263.8" cy="185.2" r="2"/><circle cx="353.0" cy="293.4" r="2"/><circle cx="241.2" cy="402.3" r="2"/><circle cx="296.8" cy="277.5" r="2"/><circle cx="269.7" cy="473.8" r="2"/><circle cx="271.0" cy="311.6" r="2"/><circle cx="353.3" cy="290.1" r="2"/><circle cx="279.5" cy="214.7" r="2"/><circle cx="314.1" cy="405.5" r="2"/><circle cx="285.4" cy="307.2" r="2"/><circle cx="257.0" cy="453.0" r="2"/><circle cx="286.8" cy="468.9" r="2"/><circle cx="275.9" cy="431.5" r="2"/><circle cx="229.8" cy="236.6" r="2"/><circle cx="353.8" cy="412.1" r="2"/><circle cx="315.9" cy="341.8" r="2"/><circle cx="288.8" cy="228.1" r="2"/><circle cx="249.0" cy="398.0" r="2"/><circle cx="318.3" cy="251.4" r="2"/><circle cx="311.7" cy="204.9" r="2"/><circle cx="307.5" cy="218.3" r="2"/><circle cx="293.8" cy="272.3" r="2"/><circle cx="299.2" cy="204.0" r="2"/><circle cx="290.3" cy="387.2" r="2"/><circle cx="243.9" cy="270.3" r="2"/><circle cx="316.3" cy="360.4" r="2"/><circle cx="308.0" cy="449.1" r="2"/><circle cx="302.0" cy="237.5" r="2"/><circle cx="284.9" cy="468.2" r="2"/><circle cx="379.0" cy="439.0" r="2"/><circle cx="373.4" cy="323.4" r="2"/><circle cx="390.2" cy="465.2" r="2"/><circle cx="381.4" cy="193.6" r="2"/><circle cx="380.3" cy="165.8" r="2"/><circle cx="389.2" cy="522.1" r="2"/><circle cx="831.0" cy="254.7" r="2"/><circle cx="901.5" cy="220.4" r="2"/><circle cx="890.8" cy="350.8" r="2"/><circle cx="403.8" cy="491.0" r="2"/><circle cx="658.2" cy="468.2" r="2"/><circle cx="807.2" cy="355.3" r="2"/><circle cx="911.5" cy="230.2" r="2"/><circle cx="933.2" cy="281.8" r="2"/><circle cx="410.0" cy="280.9" r="2"/><circle cx="434.0" cy="180.6" r="2"/><circle cx="768.6" cy="199.0" r="2"/><circle cx="490.1" cy="264.2" r="2"/><circle cx="561.5" cy="502.3" r="2"/><circle cx="937.3" cy="483.4" r="2"/><circle cx="987.9" cy="320.2" r="2"/><circle cx="871.6" cy="259.8" r="2"/><circle cx="949.9" cy="460.8" r="2"/><circle cx="833.4" cy="239.6" r="2"/><circle cx="449.3" cy="504.2" r="2"/><circle cx="725.5" cy="385.6" r="2"/><circle cx="911.2" cy="207.6" r="2"/><circle cx="813.7" cy="329.3" r="2"/><circle cx="865.7" cy="326.2" r="2"/><circle cx="512.3" cy="516.1" r="2"/><circle cx="563.0" cy="435.8" r="2"/><circle cx="892.8" cy="247.2" r="2"/><circle cx="811.1" cy="303.5" r="2"/><circle cx="528.8" cy="235.6" r="2"/><circle cx="966.5" cy="292.9" r="2"/><circle cx="700.1" cy="343.4" r="2"/><circle cx="410.3" cy="439.1" r="2"/><circle cx="841.2" cy="485.6" r="2"/><circle cx="608.4" cy="232.8" r="2"/><circle cx="602.7" cy="431.0" r="2"/><circle cx="788.9" cy="307.3" r="2"/><circle cx="709.0" cy="211.7" r="2"/><circle cx="945.2" cy="332.2" r="2"/><circle cx="698.3" cy="451.8" r="2"/><circle cx="513.0" cy="427.3" r="2"/><circle cx="606.2" cy="461.5" r="2"/><circle cx="451.0" cy="257.9" r="2"/><circle cx="775.5" cy="336.2" r="2"/><circle cx="620.4" cy="372.8" r="2"/><circle cx="525.0" cy="319.2" r="2"/><circle cx="395.5" cy="456.3" r="2"/><circle cx="546.7" cy="468.4" r="2"/><circle cx="725.5" cy="381.4" r="2"/><circle cx="769.8" cy="200.8" r="2"/><circle cx="860.4" cy="264.0" r="2"/><circle cx="911.7" cy="451.6" r="2"/><circle cx="801.0" cy="462.5" r="2"/><circle cx="656.2" cy="408.7" r="2"/><circle cx="965.7" cy="224.9" r="2"/><circle cx="454.8" cy="309.5" r="2"/><circle cx="699.9" cy="209.8" r="2"/><circle cx="527.0" cy="482.0" r="2"/><circle cx="627.0" cy="209.7" r="2"/><circle cx="504.1" cy="372.3" r="2"/><circle cx="508.3" cy="333.5" r="2"/><circle cx="716.8" cy="320.0" r="2"/><circle cx="696.4" cy="470.7" r="2"/><circle cx="404.4" cy="506.1" r="2"/><circle cx="513.9" cy="167.7" r="2"/><circle cx="854.6" cy="369.5" r="2"/><circle cx="716.9" cy="235.8" r="2"/><circle cx="862.7" cy="269.5" r="2"/><circle cx="830.3" cy="239.8" r="2"/><circle cx="737.9" cy="399.2" r="2"/><circle cx="617.2" cy="335.3" r="2"/><circle cx="433.5" cy="397.3" r="2"/><circle cx="808.9" cy="211.4" r="2"/><circle cx="724.6" cy="431.4" r="2"/><circle cx="455.0" cy="471.5" r="2"/><circle cx="916.3" cy="172.4" r="2"/><circle cx="543.3" cy="185.1" r="2"/><circle cx="545.9" cy="185.9" r="2"/><circle cx="687.8" cy="248.2" r="2"/><circle cx="574.4" cy="328.3" r="2"/><circle cx="617.2" cy="452.4" r="2"/><circle cx="827.7" cy="196.5" r="2"/><circle cx="528.4" cy="156.3" r="2"/><circle cx="591.8" cy="194.2" r="2"/><circle cx="812.4" cy="449.3" r="2"/><circle cx="991.5" cy="232.5" r="2"/><circle cx="416.4" cy="440.4" r="2"/><circle cx="641.3" cy="506.5" r="2"/><circle cx="629.7" cy="271.8" r="2"/><circle cx="438.0" cy="512.9" r="2"/><circle cx="701.5" cy="320.4" r="2"/><circle cx="656.5" cy="444.8" r="2"/><circle cx="892.6" cy="333.8" r="2"/><circle cx="501.2" cy="307.4" r="2"/><circle cx="928.8" cy="307.9" r="2"/><circle cx="790.7" cy="365.6" r="2"/><circle cx="671.0" cy="371.3" r="2"/><circle cx="541.4" cy="364.7" r="2"/><circle cx="912.9" cy="183.5" r="2"/><circle cx="615.6" cy="487.4" r="2"/><circle cx="981.0" cy="158.2" r="2"/><circle cx="770.4" cy="393.0" r="2"/><circle cx="899.9" cy="331.5" r="2"/><circle cx="472.9" cy="267.1" r="2"/><circle cx="821.7" cy="429.6" r="2"/><circle cx="517.1" cy="397.0" r="2"/><circle cx="788.2" cy="402.8" r="2"/><circle cx="407.5" cy="320.8" r="2"/><circle cx="589.3" cy="379.8" r="2"/><circle cx="596.3" cy="201.8" r="2"/><circle cx="796.3" cy="262.1" r="2"/><circle cx="868.5" cy="269.2" r="2"/><circle cx="721.7" cy="459.8" r="2"/><circle cx="463.7" cy="430.6" r="2"/><circle cx="435.3" cy="508.5" r="2"/><circle cx="409.5" cy="427.9" r="2"/><circle cx="615.5" cy="221.4" r="2"/><circle cx="631.2" cy="343.4" r="2"/><circle cx="643.2" cy="199.6" r="2"/><circle cx="707.9" cy="267.1" r="2"/><circle cx="974.4" cy="298.6" r="2"/><circle cx="655.4" cy="239.7" r="2"/><circle cx="975.3" cy="275.3" r="2"/><circle cx="781.9" cy="469.1" r="2"/><circle cx="630.2" cy="439.8" r="2"/><circle cx="561.6" cy="194.8" r="2"/><circle cx="419.7" cy="323.6" r="2"/><circle cx="918.4" cy="230.2" r="2"/><circle cx="658.5" cy="442.7" r="2"/><circle cx="560.0" cy="211.1" r="2"/><circle cx="705.7" cy="314.6" r="2"/><circle cx="957.1" cy="493.7" r="2"/><circle cx="537.1" cy="366.0" r="2"/><circle cx="644.0" cy="166.0" r="2"/><circle cx="660.8" cy="500.6" r="2"/><circle cx="1021.9" cy="375.6" r="2"/><circle cx="1032.5" cy="177.1" r="2"/><circle cx="1038.0" cy="194.6" r="2"/><circle cx="1021.8" cy="424.8" r="2"/><circle cx="1014.5" cy="295.7" r="2"/><circle cx="1017.3" cy="332.8" r="2"/><circle cx="1064.7" cy="210.5" r="2"/><circle cx="1087.2" cy="184.1" r="2"/><circle cx="1072.9" cy="227.0" r="2"/><circle cx="1119.4" cy="205.2" r="2"/><circle cx="1152.5" cy="311.4" r="2"/><circle cx="1090.5" cy="244.6" r="2"/><circle cx="1154.5" cy="171.0" r="2"/><circle cx="1143.9" cy="190.2" r="2"/><circle cx="1166.0" cy="308.1" r="2"/><circle cx="1128.1" cy="480.8" r="2"/><circle cx="1073.9" cy="177.5" r="2"/><circle cx="1138.6" cy="376.2" r="2"/><circle cx="1141.6" cy="258.6" r="2"/><circle cx="1117.2" cy="224.0" r="2"/><circle cx="1110.6" cy="260.1" r="2"/><circle cx="1126.8" cy="266.7" r="2"/><circle cx="1093.0" cy="397.0" r="2"/><circle cx="1072.3" cy="457.2" r="2"/><circle cx="1117.0" cy="240.0" r="2"/><circle cx="1075.5" cy="346.3" r="2"/><circle cx="1117.9" cy="426.2" r="2"/><circle cx="1103.8" cy="309.6" r="2"/><circle cx="1160.3" cy="257.1" r="2"/><circle cx="1169.9" cy="491.9" r="2"/><circle cx="1230.5" cy="511.1" r="2"/><circle cx="1192.4" cy="462.2" r="2"/><circle cx="1210.8" cy="230.6" r="2"/><circle cx="1230.9" cy="399.0" r="2"/><circle cx="1221.1" cy="364.9" r="2"/><circle cx="1183.1" cy="480.8" r="2"/><circle cx="1188.1" cy="251.5" r="2"/><circle cx="1211.0" cy="226.8" r="2"/><circle cx="1203.1" cy="424.0" r="2"/><circle cx="1184.0" cy="403.9" r="2"/><circle cx="1184.4" cy="333.7" r="2"/><circle cx="1212.8" cy="414.0" r="2"/></g>
<rect x="224" y="89" width="1118" height="2" fill="#2a2a2a"/>
<rect x="224" y="599" width="1118" height="2" fill="#2a2a2a"/>
<rect x="224" y="89" width="2" height="512" fill="#2a2a2a"/>
<rect x="1340" y="89" width="2" height="512" fill="#2a2a2a"/>
<line x1="218" y1="93.00" x2="225" y2="93.00" stroke="#000" stroke-width="1.67"/>
<text class="t" x="209.2" y="100.50" text-anchor="end" textLength="33.13" lengthAdjust="spacingAndGlyphs">0.0</text>
<line x1="218" y1="158.43" x2="225" y2="158.43" stroke="#000" stroke-width="1.67"/>
<text class="t" x="209.2" y="165.93" text-anchor="end" textLength="33.13" lengthAdjust="spacingAndGlyphs">2.5</text>
<line x1="218" y1="223.85" x2="225" y2="223.85" stroke="#000" stroke-width="1.67"/>
<text class="t" x="209.2" y="231.35" text-anchor="end" textLength="33.13" lengthAdjust="spacingAndGlyphs">5.0</text>
<line x1="218" y1="289.27" x2="225" y2="289.27" stroke="#000" stroke-width="1.67"/>
<text class="t" x="209.2" y="296.77" text-anchor="end" textLength="33.13" lengthAdjust="spacingAndGlyphs">7.5</text>
<line x1="218" y1="354.70" x2="225" y2="354.70" stroke="#000" stroke-width="1.67"/>
<text class="t" x="209.2" y="362.20" text-anchor="end" textLength="46.38" lengthAdjust="spacingAndGlyphs">10.0</text>
<line x1="218" y1="420.12" x2="225" y2="420.12" stroke="#000" stroke-width="1.67"/>
<text class="t" x="209.2" y="427.62" text-anchor="end" textLength="46.38" lengthAdjust="spacingAndGlyphs">12.5</text>
<line x1="218" y1="485.55" x2="225" y2="485.55" stroke="#000" stroke-width="1.67"/>
<text class="t" x="209.2" y="493.05" text-anchor="end" textLength="46.38" lengthAdjust="spacingAndGlyphs">15.0</text>
<line x1="218" y1="550.98" x2="225" y2="550.98" stroke="#000" stroke-width="1.67"/>
<text class="t" x="209.2" y="558.48" text-anchor="end" textLength="46.38" lengthAdjust="spacingAndGlyphs">17.5</text>
<line x1="225.75" y1="600" x2="225.75" y2="607.3" stroke="#000" stroke-width="1.67"/>
<text class="t" transform="translate(223.25,628.5) rotate(-30)" text-anchor="end" textLength="121.05" lengthAdjust="spacingAndGlyphs">2021-05-01</text>
<line x1="477.54" y1="600" x2="477.54" y2="607.3" stroke="#000" stroke-width="1.67"/>
<text class="t" transform="translate(475.04,628.5) rotate(-30)" text-anchor="end" textLength="121.05" lengthAdjust="spacingAndGlyphs">2021-05-08</text>
<line x1="729.33" y1="600" x2="729.33" y2="607.3" stroke="#000" stroke-width="1.67"/>
<text class="t" transform="translate(726.83,628.5) rotate(-30)" text-anchor="end" textLength="121.05" lengthAdjust="spacingAndGlyphs">2021-05-15</text>
<line x1="981.12" y1="600" x2="981.12" y2="607.3" stroke="#000" stroke-width="1.67"/>
<text class="t" transform="translate(978.62,628.5) rotate(-30)" text-anchor="end" textLength="121.05" lengthAdjust="spacingAndGlyphs">2021-05-22</text>
<text class="ti" x="782.5" y="77.8" text-anchor="middle" textLength="513.16" lengthAdjust="spacingAndGlyphs">Salinity (ppt) | monthly curtain | 2021-05</text>
<text class="t" x="783" y="716" text-anchor="middle" textLength="50.17" lengthAdjust="spacingAndGlyphs">Hour</text>
<text class="t" transform="translate(150.3,345) rotate(-90)" text-anchor="middle" textLength="106.61" lengthAdjust="spacingAndGlyphs">Depth (m)</text>
<text class="t" transform="translate(1520.3,345) rotate(-90)" text-anchor="middle" textLength="192.02" lengthAdjust="spacingAndGlyphs">Salinity (ppt) (ppt)</text>
<defs><linearGradient id="vir" x1="0" y1="0" x2="0" y2="1"><stop offset="0.0000" stop-color="#fde725"/><stop offset="0.0312" stop-color="#ece51b"/><stop offset="0.0625" stop-color="#d8e219"/><stop offset="0.0938" stop-color="#c2df23"/><stop offset="0.1250" stop-color="#addc30"/><stop offset="0.1562" stop-color="#98d83e"/><stop offset="0.1875" stop-color="#84d44b"/><stop offset="0.2188" stop-color="#70cf57"/><stop offset="0.2500" stop-color="#5ec962"/><stop offset="0.2812" stop-color="#4ec36b"/><stop offset="0.3125" stop-color="#3fbc73"/><stop offset="0.3438" stop-color="#32b67a"/><stop offset="0.3750" stop-color="#28ae80"/><stop offset="0.4062" stop-color="#22a785"/><stop offset="0.4375" stop-color="#1fa088"/><stop offset="0.4688" stop-color="#1f988b"/><stop offset="0.5000" stop-color="#21918c"/><stop offset="0.5312" stop-color="#23898e"/><stop offset="0.5625" stop-color="#26828e"/><stop offset="0.5938" stop-color="#297a8e"/><stop offset="0.6250" stop-color="#2c728e"/><stop offset="0.6562" stop-color="#2f6b8e"/><stop offset="0.6875" stop-color="#33638d"/><stop offset="0.7188" stop-color="#375b8d"/><stop offset="0.7500" stop-color="#3b528b"/><stop offset="0.7812" stop-color="#3e4989"/><stop offset="0.8125" stop-color="#424086"/><stop offset="0.8438" stop-color="#453781"/><stop offset="0.8750" stop-color="#472d7b"/><stop offset="0.9062" stop-color="#482374"/><stop offset="0.9375" stop-color="#48186a"/><stop offset="0.9688" stop-color="#470d60"/><stop offset="1.0000" stop-color="#440154"/></linearGradient></defs>
<rect x="1410.75" y="90" width="25.5" height="510" fill="url(#vir)"/>
<rect x="1410.75" y="90" width="25.5" height="510" fill="none" stroke="#000" stroke-width="1.67"/>
<line x1="1436.25" y1="600.00" x2="1443.5" y2="600.00" stroke="#000" stroke-width="1.67"/>
<text class="t" x="1451.6" y="607.50" textLength="46.38" lengthAdjust="spacingAndGlyphs">34.0</text>
<line x1="1436.25" y1="515.00" x2="1443.5" y2="515.00" stroke="#000" stroke-width="1.67"/>
<text class="t" x="1451.6" y="522.50" textLength="46.38" lengthAdjust="spacingAndGlyphs">34.5</text>
<line x1="1436.25" y1="430.00" x2="1443.5" y2="430.00" stroke="#000" stroke-width="1.67"/>
<text class="t" x="1451.6" y="437.50" textLength="46.38" lengthAdjust="spacingAndGlyphs">35.0</text>
<line x1="1436.25" y1="345.00" x2="1443.5" y2="345.00" stroke="#000" stroke-width="1.67"/>
<text class="t" x="1451.6" y="352.50" textLength="46.38" lengthAdjust="spacingAndGlyphs">35.5</text>
<line x1="1436.25" y1="260.00" x2="1443.5" y2="260.00" stroke="#000" stroke-width="1.67"/>
<text class="t" x="1451.6" y="267.50" textLength="46.38" lengthAdjust="spacingAndGlyphs">36.0</text>
<line x1="1436.25" y1="175.00" x2="1443.5" y2="175.00" stroke="#000" stroke-width="1.67"/>
<text class="t" x="1451.6" y="182.50" textLength="46.38" lengthAdjust="spacingAndGlyphs">36.5</text>
<line x1="1436.25" y1="90.00" x2="1443.5" y2="90.00" stroke="#000" stroke-width="1.67"/>
<text class="t" x="1451.6" y="97.50" textLength="46.38" lengthAdjust="spacingAndGlyphs">37.0</text>
</svg>
</body></html>
